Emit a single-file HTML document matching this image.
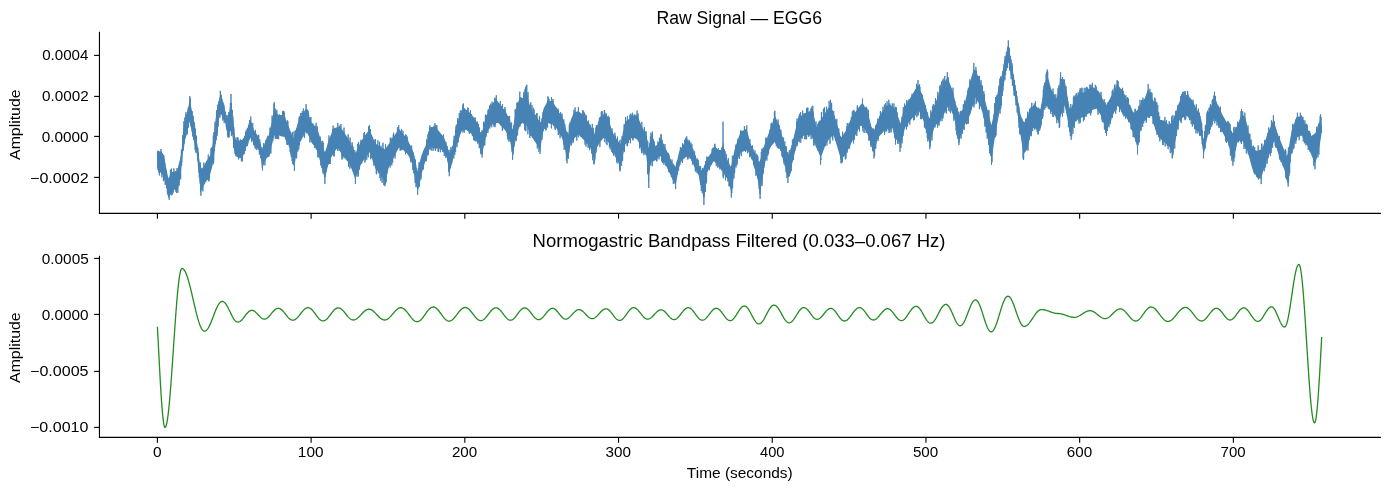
<!DOCTYPE html>
<html><head><meta charset="utf-8"><style>
html,body{margin:0;padding:0;background:#fff;overflow:hidden;}
svg{display:block;}
text{font-family:"Liberation Sans", sans-serif;fill:#000;}
.tx{will-change:transform;}
</style></head><body>
<svg width="1389" height="490" viewBox="0 0 1389 490">
<rect width="1389" height="490" fill="#fff"/>
<path d="M157.4,150.7 158.4,151.0 159.4,151.3 160.4,152.1 161.4,152.8 162.4,153.6 163.4,154.6 164.4,155.6 165.4,164.1 166.4,168.9 167.4,173.7 168.4,178.5 169.4,176.4 170.4,173.3 171.4,172.3 172.4,172.0 173.4,171.7 174.4,171.5 175.4,171.5 176.4,171.5 177.4,171.5 178.4,171.1 179.4,164.1 180.4,158.1 181.4,152.2 182.4,143.4 183.4,127.5 184.4,122.9 185.4,118.7 186.4,114.7 187.4,110.5 188.4,106.4 189.4,101.6 190.4,103.1 191.4,108.1 192.4,113.1 193.4,118.9 194.4,125.0 195.4,131.0 196.4,137.4 197.4,145.0 198.4,153.3 199.4,160.1 200.4,166.6 201.4,169.4 202.4,168.2 203.4,167.0 204.4,164.9 205.4,163.0 206.4,161.0 207.4,159.4 208.4,158.1 209.4,156.7 210.4,155.0 211.4,150.3 212.4,145.5 213.4,138.7 214.4,130.8 215.4,122.9 216.4,115.1 217.4,109.6 218.4,104.1 219.4,98.8 220.4,94.3 221.4,97.1 222.4,99.9 223.4,102.6 224.4,107.2 225.4,111.8 226.4,115.0 227.4,117.4 228.4,117.4 229.4,110.4 230.4,103.4 231.4,102.8 232.4,111.6 233.4,120.8 234.4,131.5 235.4,140.5 236.4,140.5 237.4,140.6 238.4,140.6 239.4,140.7 240.4,140.5 241.4,139.9 242.4,139.4 243.4,138.4 244.4,136.4 245.4,134.3 246.4,132.2 247.4,129.7 248.4,126.6 249.4,123.4 250.4,120.3 251.4,121.9 252.4,125.1 253.4,128.2 254.4,131.0 255.4,132.5 256.4,133.9 257.4,135.3 258.4,136.8 259.4,139.2 260.4,142.8 261.4,146.4 262.4,149.9 263.4,147.3 264.4,144.1 265.4,140.9 266.4,138.4 267.4,137.1 268.4,135.9 269.4,134.7 270.4,129.8 271.4,123.8 272.4,117.9 273.4,112.3 274.4,107.4 275.4,109.4 276.4,111.7 277.4,114.1 278.4,115.2 279.4,115.1 280.4,115.1 281.4,115.1 282.4,115.0 283.4,115.0 284.4,116.3 285.4,118.6 286.4,121.0 287.4,123.4 288.4,125.9 289.4,128.3 290.4,130.9 291.4,133.7 292.4,136.4 293.4,138.1 294.4,135.6 295.4,131.8 296.4,128.1 297.4,124.3 298.4,121.5 299.4,119.8 300.4,118.0 301.4,116.3 302.4,114.5 303.4,112.8 304.4,111.0 305.4,109.3 306.4,108.9 307.4,111.5 308.4,114.2 309.4,116.9 310.4,119.6 311.4,122.3 312.4,124.1 313.4,124.8 314.4,125.4 315.4,126.0 316.4,126.7 317.4,129.1 318.4,132.1 319.4,135.2 320.4,138.3 321.4,141.4 322.4,144.8 323.4,148.2 324.4,151.6 325.4,151.4 326.4,147.9 327.4,144.4 328.4,140.9 329.4,138.5 330.4,136.1 331.4,133.6 332.4,131.2 333.4,129.3 334.4,128.7 335.4,128.0 336.4,127.4 337.4,126.8 338.4,126.9 339.4,127.6 340.4,128.3 341.4,129.0 342.4,129.7 343.4,131.2 344.4,132.8 345.4,134.4 346.4,136.0 347.4,137.5 348.4,139.1 349.4,140.7 350.4,142.7 351.4,144.8 352.4,147.0 353.4,149.1 354.4,151.2 355.4,153.3 356.4,151.2 357.4,149.1 358.4,146.9 359.4,144.8 360.4,142.7 361.4,140.7 362.4,139.3 363.4,137.9 364.4,136.4 365.4,135.0 366.4,133.6 367.4,132.2 368.4,130.7 369.4,129.3 370.4,131.4 371.4,133.9 372.4,136.3 373.4,138.8 374.4,141.2 375.4,143.6 376.4,144.2 377.4,144.9 378.4,145.5 379.4,146.1 380.4,146.7 381.4,147.4 382.4,148.0 383.4,148.6 384.4,149.3 385.4,148.6 386.4,147.3 387.4,146.0 388.4,144.6 389.4,143.3 390.4,141.8 391.4,140.2 392.4,138.6 393.4,137.1 394.4,135.5 395.4,133.9 396.4,132.4 397.4,130.8 398.4,129.2 399.4,129.3 400.4,130.5 401.4,131.7 402.4,133.0 403.4,134.2 404.4,135.5 405.4,136.7 406.4,138.0 407.4,139.5 408.4,141.5 409.4,143.5 410.4,145.5 411.4,147.5 412.4,149.8 413.4,152.2 414.4,155.5 415.4,160.8 416.4,166.1 417.4,171.5 418.4,168.9 419.4,164.2 420.4,159.5 421.4,155.5 422.4,153.3 423.4,151.1 424.4,148.9 425.4,146.7 426.4,143.5 427.4,139.5 428.4,135.4 429.4,131.4 430.4,127.4 431.4,126.9 432.4,126.9 433.4,126.9 434.4,126.9 435.4,127.2 436.4,128.3 437.4,129.4 438.4,130.5 439.4,131.7 440.4,132.9 441.4,134.3 442.4,135.6 443.4,137.1 444.4,138.6 445.4,141.2 446.4,144.0 447.4,147.1 448.4,150.6 449.4,153.5 450.4,151.3 451.4,149.0 452.4,146.8 453.4,142.7 454.4,137.4 455.4,132.2 456.4,127.0 457.4,121.7 458.4,118.9 459.4,116.5 460.4,114.1 461.4,111.8 462.4,109.4 463.4,107.2 464.4,108.1 465.4,109.1 466.4,110.0 467.4,111.0 468.4,111.9 469.4,112.9 470.4,113.9 471.4,114.9 472.4,115.9 473.4,117.1 474.4,118.6 475.4,120.0 476.4,121.4 477.4,122.9 478.4,126.6 479.4,130.4 480.4,134.3 481.4,135.1 482.4,131.2 483.4,126.5 484.4,121.9 485.4,119.0 486.4,116.3 487.4,113.8 488.4,111.5 489.4,109.1 490.4,106.8 491.4,105.3 492.4,104.1 493.4,102.8 494.4,101.6 495.4,100.4 496.4,99.6 497.4,100.9 498.4,102.2 499.4,103.6 500.4,105.0 501.4,106.4 502.4,107.6 503.4,108.8 504.4,110.0 505.4,111.2 506.4,113.1 507.4,115.2 508.4,117.2 509.4,119.3 510.4,121.5 511.4,125.8 512.4,130.0 513.4,126.3 514.4,119.6 515.4,113.8 516.4,109.7 517.4,105.6 518.4,101.9 519.4,98.1 520.4,97.1 521.4,97.5 522.4,97.9 523.4,98.2 524.4,96.0 525.4,93.8 526.4,91.6 527.4,94.3 528.4,99.8 529.4,104.3 530.4,106.5 531.4,108.7 532.4,110.9 533.4,113.1 534.4,114.7 535.4,116.0 536.4,117.3 537.4,118.5 538.4,119.8 539.4,121.0 540.4,121.9 541.4,122.1 542.4,114.9 543.4,109.1 544.4,107.1 545.4,105.2 546.4,103.3 547.4,101.3 548.4,100.5 549.4,100.8 550.4,101.1 551.4,101.3 552.4,101.6 553.4,102.9 554.4,104.5 555.4,106.1 556.4,107.9 557.4,109.6 558.4,111.3 559.4,112.9 560.4,114.6 561.4,116.3 562.4,118.1 563.4,120.1 564.4,122.3 565.4,126.9 566.4,131.5 567.4,135.9 568.4,133.7 569.4,127.1 570.4,121.2 571.4,118.4 572.4,116.0 573.4,113.5 574.4,112.5 575.4,112.2 576.4,111.8 577.4,111.5 578.4,111.1 579.4,111.9 580.4,112.7 581.4,113.5 582.4,114.2 583.4,115.2 584.4,116.7 585.4,118.1 586.4,119.5 587.4,121.0 588.4,122.4 589.4,123.8 590.4,125.4 591.4,127.2 592.4,128.9 593.4,131.9 594.4,134.5 595.4,133.1 596.4,129.1 597.4,125.1 598.4,121.5 599.4,117.8 600.4,116.8 601.4,116.2 602.4,115.6 603.4,115.0 604.4,114.6 605.4,115.0 606.4,115.5 607.4,116.0 608.4,118.4 609.4,121.8 610.4,125.2 611.4,128.7 612.4,132.2 613.4,133.8 614.4,135.4 615.4,137.0 616.4,138.6 617.4,140.2 618.4,141.7 619.4,143.3 620.4,144.6 621.4,141.1 622.4,136.1 623.4,131.2 624.4,126.2 625.4,121.5 626.4,120.8 627.4,120.1 628.4,119.4 629.4,118.7 630.4,117.9 631.4,117.2 632.4,116.5 633.4,116.2 634.4,115.8 635.4,115.4 636.4,115.0 637.4,115.5 638.4,118.0 639.4,120.4 640.4,122.9 641.4,125.3 642.4,127.4 643.4,129.3 644.4,131.3 645.4,133.2 646.4,135.2 647.4,141.6 648.4,148.3 649.4,145.0 650.4,138.0 651.4,137.0 652.4,136.0 653.4,139.2 654.4,142.5 655.4,145.9 656.4,147.6 657.4,145.3 658.4,143.0 659.4,140.7 660.4,138.6 661.4,138.4 662.4,140.9 663.4,143.4 664.4,145.9 665.4,148.0 666.4,150.0 667.4,152.0 668.4,154.0 669.4,156.0 670.4,158.4 671.4,160.9 672.4,163.3 673.4,165.8 674.4,168.3 675.4,166.4 676.4,163.3 677.4,159.4 678.4,155.1 679.4,150.9 680.4,149.3 681.4,147.7 682.4,146.1 683.4,144.5 684.4,143.0 685.4,141.5 686.4,139.9 687.4,140.3 688.4,141.5 689.4,142.8 690.4,144.4 691.4,146.0 692.4,148.2 693.4,150.6 694.4,153.1 695.4,155.5 696.4,157.9 697.4,160.4 698.4,162.8 699.4,165.4 700.4,168.3 701.4,171.2 702.4,169.7 703.4,168.1 704.4,165.5 705.4,162.5 706.4,160.3 707.4,158.1 708.4,156.7 709.4,155.5 710.4,154.2 711.4,152.9 712.4,150.9 713.4,149.0 714.4,147.3 715.4,147.0 716.4,148.0 717.4,149.0 718.4,150.0 719.4,150.1 720.4,150.1 721.4,150.1 722.4,145.2 723.4,142.2 724.4,153.2 725.4,155.8 726.4,158.0 727.4,159.9 728.4,161.7 729.4,164.1 730.4,166.5 731.4,165.3 732.4,160.4 733.4,155.4 734.4,150.5 735.4,146.9 736.4,143.8 737.4,140.9 738.4,138.0 739.4,135.0 740.4,132.1 741.4,131.2 742.4,130.8 743.4,130.4 744.4,130.0 745.4,129.6 746.4,129.2 747.4,131.7 748.4,135.5 749.4,139.5 750.4,143.6 751.4,145.6 752.4,147.6 753.4,149.7 754.4,152.0 755.4,154.2 756.4,156.5 757.4,158.7 758.4,161.2 759.4,161.8 760.4,159.4 761.4,155.6 762.4,151.8 763.4,148.5 764.4,145.3 765.4,142.2 766.4,139.5 767.4,136.8 768.4,134.1 769.4,131.4 770.4,128.6 771.4,125.6 772.4,122.7 773.4,119.7 774.4,116.7 775.4,116.6 776.4,119.1 777.4,121.5 778.4,124.0 779.4,126.4 780.4,129.5 781.4,133.0 782.4,136.5 783.4,140.0 784.4,143.5 785.4,147.1 786.4,150.7 787.4,154.3 788.4,157.0 789.4,153.6 790.4,150.3 791.4,146.9 792.4,143.1 793.4,138.7 794.4,134.3 795.4,129.9 796.4,125.5 797.4,121.3 798.4,118.1 799.4,117.3 800.4,116.5 801.4,115.7 802.4,114.8 803.4,114.0 804.4,113.3 805.4,112.9 806.4,112.5 807.4,112.1 808.4,111.8 809.4,111.4 810.4,111.0 811.4,110.6 812.4,110.5 813.4,113.2 814.4,117.9 815.4,122.6 816.4,127.3 817.4,126.0 818.4,124.0 819.4,122.1 820.4,120.5 821.4,119.0 822.4,117.4 823.4,115.7 824.4,114.0 825.4,112.4 826.4,110.9 827.4,109.5 828.4,108.1 829.4,106.8 830.4,105.4 831.4,107.7 832.4,110.1 833.4,112.6 834.4,115.5 835.4,118.6 836.4,121.8 837.4,125.3 838.4,128.8 839.4,132.3 840.4,135.7 841.4,137.2 842.4,135.8 843.4,134.3 844.4,132.9 845.4,131.5 846.4,129.6 847.4,127.2 848.4,124.9 849.4,122.5 850.4,120.2 851.4,117.8 852.4,115.9 853.4,114.6 854.4,113.3 855.4,112.0 856.4,110.7 857.4,109.4 858.4,108.0 859.4,106.5 860.4,105.1 861.4,103.9 862.4,102.8 863.4,104.3 864.4,106.3 865.4,108.2 866.4,110.2 867.4,112.2 868.4,115.1 869.4,118.8 870.4,122.6 871.4,126.6 872.4,130.6 873.4,131.3 874.4,129.2 875.4,126.5 876.4,123.7 877.4,120.9 878.4,118.7 879.4,116.9 880.4,115.0 881.4,113.1 882.4,111.3 883.4,109.9 884.4,108.8 885.4,107.6 886.4,106.5 887.4,105.4 888.4,104.4 889.4,104.4 890.4,105.1 891.4,105.7 892.4,106.4 893.4,107.7 894.4,109.1 895.4,110.9 896.4,113.1 897.4,115.4 898.4,117.6 899.4,119.9 900.4,124.5 901.4,120.0 902.4,115.4 903.4,110.8 904.4,107.3 905.4,105.5 906.4,103.9 907.4,102.4 908.4,100.8 909.4,99.3 910.4,97.7 911.4,96.0 912.4,94.3 913.4,92.6 914.4,90.9 915.4,89.2 916.4,87.5 917.4,85.8 918.4,85.5 919.4,88.0 920.4,90.7 921.4,93.3 922.4,95.9 923.4,98.6 924.4,101.7 925.4,105.3 926.4,108.8 927.4,112.4 928.4,116.0 929.4,118.5 930.4,116.1 931.4,113.5 932.4,110.8 933.4,108.1 934.4,105.4 935.4,102.8 936.4,100.3 937.4,97.7 938.4,95.1 939.4,92.6 940.4,90.0 941.4,87.7 942.4,86.0 943.4,84.3 944.4,82.5 945.4,80.7 946.4,79.0 947.4,77.8 948.4,79.9 949.4,82.2 950.4,84.9 951.4,87.6 952.4,90.3 953.4,93.5 954.4,97.7 955.4,102.3 956.4,106.9 957.4,111.4 958.4,115.9 959.4,114.8 960.4,113.1 961.4,111.4 962.4,109.7 963.4,108.0 964.4,104.5 965.4,100.4 966.4,96.3 967.4,92.2 968.4,88.1 969.4,84.2 970.4,80.9 971.4,77.3 972.4,73.7 973.4,70.1 974.4,69.5 975.4,70.9 976.4,72.7 977.4,74.8 978.4,76.8 979.4,78.8 980.4,82.2 981.4,86.0 982.4,90.0 983.4,93.9 984.4,97.8 985.4,101.7 986.4,105.6 987.4,109.5 988.4,113.4 989.4,117.3 990.4,121.3 991.4,125.2 992.4,121.0 993.4,115.4 994.4,109.7 995.4,104.1 996.4,98.6 997.4,93.8 998.4,89.6 999.4,85.4 1000.4,81.2 1001.4,76.9 1002.4,72.3 1003.4,67.2 1004.4,62.1 1005.4,57.0 1006.4,52.3 1007.4,47.7 1008.4,44.2 1009.4,50.1 1010.4,56.1 1011.4,62.2 1012.4,68.3 1013.4,74.5 1014.4,80.6 1015.4,86.7 1016.4,92.4 1017.4,97.7 1018.4,103.1 1019.4,108.5 1020.4,113.8 1021.4,117.0 1022.4,119.1 1023.4,121.2 1024.4,122.2 1025.4,121.0 1026.4,118.7 1027.4,116.3 1028.4,113.5 1029.4,110.8 1030.4,108.6 1031.4,107.6 1032.4,106.6 1033.4,106.1 1034.4,105.7 1035.4,105.5 1036.4,106.4 1037.4,107.4 1038.4,108.2 1039.4,108.7 1040.4,109.3 1041.4,104.7 1042.4,98.3 1043.4,91.9 1044.4,85.4 1045.4,81.4 1046.4,78.0 1047.4,75.4 1048.4,79.0 1049.4,82.6 1050.4,86.2 1051.4,89.6 1052.4,91.4 1053.4,93.2 1054.4,95.1 1055.4,97.1 1056.4,99.1 1057.4,95.4 1058.4,90.5 1059.4,85.4 1060.4,79.7 1061.4,78.9 1062.4,79.0 1063.4,79.2 1064.4,79.3 1065.4,84.3 1066.4,90.1 1067.4,95.9 1068.4,101.7 1069.4,107.5 1070.4,109.3 1071.4,107.5 1072.4,104.8 1073.4,102.2 1074.4,99.5 1075.4,97.3 1076.4,96.4 1077.4,95.4 1078.4,94.5 1079.4,93.6 1080.4,92.6 1081.4,92.5 1082.4,92.4 1083.4,92.4 1084.4,92.3 1085.4,92.2 1086.4,91.7 1087.4,90.9 1088.4,90.1 1089.4,89.2 1090.4,88.4 1091.4,87.6 1092.4,86.8 1093.4,87.4 1094.4,88.1 1095.4,88.7 1096.4,89.3 1097.4,90.2 1098.4,91.1 1099.4,92.4 1100.4,94.3 1101.4,96.3 1102.4,98.4 1103.4,100.5 1104.4,102.7 1105.4,104.9 1106.4,104.8 1107.4,103.1 1108.4,101.4 1109.4,99.6 1110.4,97.9 1111.4,96.1 1112.4,94.3 1113.4,92.1 1114.4,90.0 1115.4,87.8 1116.4,85.6 1117.4,84.3 1118.4,85.6 1119.4,87.0 1120.4,88.3 1121.4,89.7 1122.4,91.0 1123.4,92.7 1124.4,94.6 1125.4,96.5 1126.4,98.4 1127.4,100.4 1128.4,102.3 1129.4,104.2 1130.4,106.2 1131.4,108.3 1132.4,110.5 1133.4,112.8 1134.4,112.4 1135.4,111.6 1136.4,110.9 1137.4,110.1 1138.4,108.1 1139.4,106.1 1140.4,104.4 1141.4,102.7 1142.4,101.6 1143.4,100.6 1144.4,99.2 1145.4,96.4 1146.4,93.7 1147.4,91.0 1148.4,89.5 1149.4,91.6 1150.4,93.7 1151.4,95.9 1152.4,98.2 1153.4,100.8 1154.4,102.0 1155.4,103.2 1156.4,104.1 1157.4,107.3 1158.4,113.5 1159.4,119.8 1160.4,120.0 1161.4,120.1 1162.4,120.2 1163.4,120.4 1164.4,120.6 1165.4,121.5 1166.4,122.5 1167.4,123.5 1168.4,124.4 1169.4,125.0 1170.4,123.6 1171.4,122.3 1172.4,120.7 1173.4,118.4 1174.4,116.1 1175.4,113.4 1176.4,110.4 1177.4,107.5 1178.4,104.5 1179.4,102.0 1180.4,100.2 1181.4,98.3 1182.4,96.5 1183.4,95.8 1184.4,95.5 1185.4,95.2 1186.4,94.9 1187.4,94.8 1188.4,95.7 1189.4,96.9 1190.4,98.2 1191.4,99.4 1192.4,100.7 1193.4,102.7 1194.4,104.7 1195.4,106.7 1196.4,108.6 1197.4,110.4 1198.4,112.2 1199.4,114.1 1200.4,115.9 1201.4,120.3 1202.4,130.1 1203.4,140.0 1204.4,135.2 1205.4,128.2 1206.4,121.3 1207.4,115.2 1208.4,112.5 1209.4,110.1 1210.4,107.7 1211.4,105.4 1212.4,103.3 1213.4,101.0 1214.4,96.4 1215.4,99.8 1216.4,102.5 1217.4,103.9 1218.4,105.5 1219.4,107.9 1220.4,110.2 1221.4,112.5 1222.4,114.7 1223.4,116.5 1224.4,118.3 1225.4,120.1 1226.4,121.8 1227.4,123.6 1228.4,125.4 1229.4,127.2 1230.4,129.1 1231.4,130.9 1232.4,132.7 1233.4,132.8 1234.4,130.9 1235.4,129.1 1236.4,127.2 1237.4,125.3 1238.4,122.9 1239.4,120.0 1240.4,117.2 1241.4,114.4 1242.4,114.6 1243.4,115.4 1244.4,116.2 1245.4,117.8 1246.4,122.4 1247.4,127.0 1248.4,131.5 1249.4,135.8 1250.4,140.2 1251.4,144.6 1252.4,148.9 1253.4,149.8 1254.4,150.1 1255.4,150.3 1256.4,150.6 1257.4,150.8 1258.4,150.5 1259.4,150.1 1260.4,149.7 1261.4,149.1 1262.4,148.1 1263.4,145.3 1264.4,142.6 1265.4,140.0 1266.4,137.6 1267.4,135.1 1268.4,132.6 1269.4,130.1 1270.4,127.5 1271.4,124.8 1272.4,122.2 1273.4,119.6 1274.4,122.4 1275.4,125.9 1276.4,129.5 1277.4,132.8 1278.4,135.5 1279.4,138.1 1280.4,140.6 1281.4,143.1 1282.4,145.6 1283.4,148.1 1284.4,150.6 1285.4,153.3 1286.4,155.9 1287.4,154.8 1288.4,150.0 1289.4,144.1 1290.4,138.1 1291.4,132.1 1292.4,128.2 1293.4,125.5 1294.4,122.8 1295.4,120.1 1296.4,117.4 1297.4,116.6 1298.4,116.5 1299.4,116.5 1300.4,116.4 1301.4,116.3 1302.4,118.1 1303.4,120.3 1304.4,122.4 1305.4,124.6 1306.4,126.7 1307.4,128.6 1308.4,130.5 1309.4,132.3 1310.4,134.1 1311.4,135.9 1312.4,135.2 1313.4,134.5 1314.4,133.8 1315.4,132.8 1316.4,131.1 1317.4,128.0 1318.4,124.9 1319.4,121.8 1320.4,118.8 1321.4,115.8 1321.4,134.7 1320.4,140.8 1319.4,147.0 1318.4,152.3 1317.4,155.8 1316.4,159.4 1315.4,162.8 1314.4,162.4 1313.4,159.9 1312.4,157.5 1311.4,155.1 1310.4,152.7 1309.4,150.2 1308.4,147.8 1307.4,145.4 1306.4,143.1 1305.4,141.5 1304.4,139.9 1303.4,138.3 1302.4,136.7 1301.4,135.5 1300.4,135.9 1299.4,136.3 1298.4,136.8 1297.4,137.2 1296.4,138.2 1295.4,140.7 1294.4,143.3 1293.4,145.8 1292.4,148.3 1291.4,153.0 1290.4,161.6 1289.4,170.1 1288.4,178.7 1287.4,179.6 1286.4,176.7 1285.4,173.2 1284.4,169.7 1283.4,167.2 1282.4,164.7 1281.4,162.2 1280.4,159.7 1279.4,157.1 1278.4,153.7 1277.4,150.3 1276.4,146.9 1275.4,143.3 1274.4,141.0 1273.4,143.1 1272.4,146.1 1271.4,149.0 1270.4,152.0 1269.4,154.6 1268.4,156.7 1267.4,158.8 1266.4,160.9 1265.4,162.9 1264.4,165.8 1263.4,169.9 1262.4,174.0 1261.4,177.8 1260.4,178.7 1259.4,178.5 1258.4,178.3 1257.4,178.0 1256.4,176.2 1255.4,174.5 1254.4,172.8 1253.4,171.0 1252.4,169.0 1251.4,165.4 1250.4,161.7 1249.4,158.1 1248.4,154.5 1247.4,151.1 1246.4,148.8 1245.4,146.4 1244.4,144.4 1243.4,142.6 1242.4,141.2 1241.4,140.8 1240.4,140.8 1239.4,140.8 1238.4,140.8 1237.4,142.6 1236.4,146.7 1235.4,150.8 1234.4,154.9 1233.4,159.0 1232.4,158.9 1231.4,155.2 1230.4,151.6 1229.4,147.9 1228.4,144.2 1227.4,141.6 1226.4,139.7 1225.4,137.7 1224.4,135.7 1223.4,133.8 1222.4,131.8 1221.4,129.8 1220.4,127.7 1219.4,125.7 1218.4,123.6 1217.4,122.4 1216.4,121.3 1215.4,120.1 1214.4,118.7 1213.4,118.6 1212.4,121.2 1211.4,124.1 1210.4,127.0 1209.4,129.9 1208.4,132.8 1207.4,137.1 1206.4,141.8 1205.4,146.7 1204.4,151.5 1203.4,154.6 1202.4,145.5 1201.4,136.3 1200.4,132.9 1199.4,132.2 1198.4,131.5 1197.4,130.9 1196.4,130.2 1195.4,128.4 1194.4,126.4 1193.4,124.4 1192.4,122.5 1191.4,120.6 1190.4,119.4 1189.4,118.4 1188.4,117.3 1187.4,116.4 1186.4,115.5 1185.4,116.1 1184.4,116.7 1183.4,117.3 1182.4,118.0 1181.4,118.8 1180.4,119.7 1179.4,120.5 1178.4,124.3 1177.4,129.8 1176.4,135.4 1175.4,140.9 1174.4,144.7 1173.4,148.3 1172.4,151.9 1171.4,151.1 1170.4,148.8 1169.4,146.5 1168.4,145.5 1167.4,144.7 1166.4,143.9 1165.4,143.1 1164.4,142.3 1163.4,141.5 1162.4,140.6 1161.4,139.7 1160.4,138.8 1159.4,138.0 1158.4,135.9 1157.4,133.8 1156.4,132.2 1155.4,130.0 1154.4,125.9 1153.4,121.7 1152.4,117.3 1151.4,116.0 1150.4,116.3 1149.4,116.5 1148.4,116.8 1147.4,117.5 1146.4,118.6 1145.4,119.9 1144.4,121.1 1143.4,122.2 1142.4,123.2 1141.4,124.7 1140.4,130.7 1139.4,136.6 1138.4,142.5 1137.4,147.4 1136.4,144.1 1135.4,140.8 1134.4,137.5 1133.4,134.2 1132.4,130.4 1131.4,126.7 1130.4,124.0 1129.4,122.4 1128.4,120.9 1127.4,119.3 1126.4,117.8 1125.4,116.2 1124.4,114.8 1123.4,113.4 1122.4,112.0 1121.4,110.7 1120.4,109.3 1119.4,108.0 1118.4,106.6 1117.4,106.0 1116.4,107.8 1115.4,109.9 1114.4,111.9 1113.4,113.9 1112.4,116.0 1111.4,118.5 1110.4,121.1 1109.4,123.7 1108.4,126.2 1107.4,128.8 1106.4,131.0 1105.4,128.2 1104.4,125.0 1103.4,121.9 1102.4,118.7 1101.4,116.0 1100.4,114.4 1099.4,112.9 1098.4,111.4 1097.4,110.0 1096.4,108.6 1095.4,108.9 1094.4,109.2 1093.4,109.6 1092.4,109.9 1091.4,110.4 1090.4,111.3 1089.4,112.3 1088.4,113.2 1087.4,114.2 1086.4,115.2 1085.4,115.9 1084.4,116.4 1083.4,116.8 1082.4,117.3 1081.4,117.7 1080.4,118.1 1079.4,118.7 1078.4,119.3 1077.4,119.8 1076.4,120.4 1075.4,121.0 1074.4,123.8 1073.4,127.3 1072.4,130.8 1071.4,134.3 1070.4,132.2 1069.4,128.0 1068.4,123.3 1067.4,118.5 1066.4,113.7 1065.4,108.9 1064.4,105.2 1063.4,108.2 1062.4,111.2 1061.4,114.1 1060.4,117.2 1059.4,121.0 1058.4,120.9 1057.4,119.9 1056.4,118.8 1055.4,116.8 1054.4,114.8 1053.4,113.4 1052.4,112.5 1051.4,111.7 1050.4,110.6 1049.4,109.4 1048.4,108.0 1047.4,106.6 1046.4,106.1 1045.4,105.8 1044.4,106.7 1043.4,111.6 1042.4,116.5 1041.4,121.5 1040.4,125.7 1039.4,127.7 1038.4,129.7 1037.4,130.1 1036.4,129.3 1035.4,128.5 1034.4,127.9 1033.4,127.3 1032.4,128.1 1031.4,132.1 1030.4,136.1 1029.4,140.2 1028.4,144.4 1027.4,148.7 1026.4,150.2 1025.4,151.7 1024.4,153.0 1023.4,153.9 1022.4,147.4 1021.4,140.8 1020.4,134.1 1019.4,127.1 1018.4,119.5 1017.4,111.8 1016.4,105.1 1015.4,99.6 1014.4,94.1 1013.4,88.6 1012.4,83.0 1011.4,77.5 1010.4,72.0 1009.4,66.5 1008.4,62.1 1007.4,65.5 1006.4,69.2 1005.4,73.5 1004.4,80.4 1003.4,87.3 1002.4,94.3 1001.4,101.1 1000.4,107.2 999.4,112.5 998.4,117.8 997.4,123.1 996.4,128.5 995.4,134.2 994.4,140.7 993.4,147.2 992.4,153.7 991.4,158.3 990.4,152.6 989.4,146.9 988.4,141.2 987.4,135.5 986.4,129.8 985.4,124.1 984.4,119.6 983.4,116.2 982.4,112.8 981.4,109.4 980.4,106.6 979.4,104.4 978.4,102.4 977.4,100.4 976.4,98.4 975.4,97.5 974.4,100.3 973.4,103.3 972.4,106.8 971.4,110.4 970.4,113.9 969.4,115.9 968.4,117.8 967.4,119.8 966.4,121.7 965.4,123.7 964.4,125.7 963.4,127.9 962.4,130.8 961.4,133.6 960.4,136.5 959.4,139.3 958.4,138.6 957.4,133.6 956.4,128.7 955.4,123.8 954.4,118.9 953.4,116.1 952.4,113.5 951.4,111.0 950.4,108.4 949.4,105.9 948.4,106.1 947.4,107.5 946.4,109.4 945.4,111.3 944.4,113.3 943.4,115.3 942.4,117.2 941.4,118.3 940.4,119.5 939.4,120.7 938.4,121.9 937.4,123.2 936.4,124.4 935.4,125.6 934.4,127.1 933.4,130.8 932.4,134.5 931.4,138.2 930.4,142.0 929.4,143.4 928.4,139.6 927.4,135.5 926.4,131.5 925.4,127.5 924.4,123.5 923.4,120.4 922.4,118.3 921.4,116.2 920.4,114.1 919.4,112.0 918.4,110.4 917.4,111.5 916.4,112.8 915.4,114.1 914.4,115.3 913.4,116.6 912.4,117.9 911.4,119.2 910.4,120.4 909.4,121.7 908.4,122.9 907.4,124.2 906.4,125.4 905.4,126.7 904.4,130.2 903.4,134.1 902.4,138.2 901.4,142.3 900.4,146.3 899.4,142.1 898.4,141.4 897.4,140.6 896.4,139.8 895.4,139.1 894.4,136.6 893.4,132.2 892.4,127.8 891.4,128.0 890.4,128.1 889.4,128.3 888.4,128.6 887.4,129.0 886.4,129.5 885.4,129.9 884.4,130.8 883.4,131.8 882.4,132.8 881.4,134.0 880.4,135.1 879.4,136.2 878.4,137.4 877.4,139.5 876.4,143.9 875.4,148.3 874.4,152.7 873.4,152.2 872.4,148.7 871.4,144.7 870.4,140.7 869.4,138.4 868.4,136.1 867.4,134.0 866.4,132.0 865.4,130.1 864.4,128.9 863.4,127.8 862.4,126.7 861.4,126.0 860.4,125.8 859.4,127.7 858.4,129.6 857.4,131.5 856.4,133.4 855.4,135.3 854.4,137.2 853.4,139.1 852.4,141.0 851.4,143.0 850.4,145.1 849.4,147.1 848.4,149.2 847.4,151.2 846.4,153.3 845.4,154.8 844.4,155.9 843.4,157.0 842.4,158.0 841.4,159.1 840.4,157.6 839.4,154.2 838.4,150.8 837.4,147.5 836.4,144.1 835.4,140.8 834.4,137.5 833.4,135.2 832.4,136.0 831.4,136.7 830.4,137.5 829.4,138.9 828.4,140.2 827.4,141.6 826.4,142.9 825.4,145.4 824.4,148.0 823.4,150.7 822.4,153.4 821.4,156.0 820.4,157.2 819.4,154.4 818.4,152.1 817.4,150.1 816.4,148.0 815.4,145.0 814.4,142.1 813.4,139.1 812.4,136.4 811.4,134.7 810.4,134.7 809.4,134.8 808.4,134.8 807.4,134.9 806.4,134.9 805.4,135.0 804.4,135.0 803.4,135.9 802.4,136.9 801.4,137.8 800.4,138.8 799.4,139.8 798.4,140.8 797.4,142.1 796.4,145.1 795.4,149.6 794.4,154.1 793.4,158.5 792.4,163.0 791.4,166.9 790.4,170.4 789.4,173.9 788.4,177.4 787.4,176.6 786.4,171.5 785.4,166.3 784.4,161.7 783.4,158.2 782.4,154.7 781.4,151.2 780.4,147.7 779.4,145.2 778.4,144.4 777.4,143.6 776.4,142.8 775.4,142.0 774.4,142.2 773.4,143.5 772.4,144.8 771.4,146.1 770.4,147.4 769.4,149.6 768.4,152.6 767.4,155.6 766.4,158.5 765.4,161.5 764.4,166.7 763.4,172.9 762.4,179.1 761.4,185.4 760.4,191.7 759.4,189.0 758.4,183.4 757.4,178.2 756.4,174.4 755.4,170.7 754.4,167.0 753.4,163.2 752.4,160.2 751.4,158.2 750.4,156.2 749.4,153.9 748.4,151.6 747.4,150.4 746.4,150.4 745.4,150.7 744.4,151.0 743.4,151.4 742.4,151.7 741.4,152.1 740.4,152.9 739.4,155.4 738.4,158.0 737.4,160.5 736.4,163.1 735.4,166.8 734.4,173.0 733.4,179.4 732.4,185.8 731.4,192.2 730.4,189.2 729.4,184.6 728.4,180.0 727.4,178.7 726.4,177.6 725.4,176.4 724.4,175.1 723.4,172.6 722.4,171.3 721.4,170.4 720.4,168.7 719.4,167.0 718.4,165.4 717.4,164.4 716.4,163.4 715.4,162.4 714.4,161.6 713.4,161.6 712.4,163.2 711.4,164.9 710.4,166.4 709.4,168.0 708.4,169.5 707.4,171.9 706.4,179.6 705.4,187.3 704.4,195.2 703.4,197.3 702.4,192.8 701.4,188.4 700.4,183.3 699.4,178.2 698.4,174.8 697.4,172.7 696.4,170.7 695.4,168.6 694.4,166.5 693.4,164.5 692.4,162.4 691.4,160.4 690.4,158.4 689.4,156.5 688.4,156.3 687.4,156.5 686.4,156.9 685.4,157.5 684.4,158.2 683.4,159.2 682.4,160.3 681.4,161.4 680.4,162.5 679.4,163.6 678.4,169.5 677.4,175.5 676.4,181.5 675.4,185.1 674.4,183.5 673.4,181.3 672.4,179.0 671.4,176.8 670.4,174.5 669.4,172.4 668.4,170.4 667.4,168.4 666.4,166.4 665.4,164.4 664.4,162.5 663.4,160.8 662.4,159.2 661.4,157.5 660.4,156.3 659.4,156.1 658.4,157.3 657.4,158.5 656.4,159.7 655.4,160.3 654.4,160.7 653.4,161.0 652.4,161.4 651.4,162.4 650.4,163.4 649.4,173.4 648.4,177.7 647.4,166.5 646.4,156.0 645.4,154.5 644.4,152.9 643.4,151.3 642.4,149.8 641.4,148.0 640.4,145.9 639.4,143.9 638.4,141.8 637.4,139.7 636.4,138.9 635.4,138.5 634.4,138.1 633.4,137.7 632.4,137.4 631.4,138.3 630.4,139.3 629.4,140.2 628.4,141.2 627.4,142.1 626.4,143.1 625.4,144.1 624.4,148.5 623.4,153.1 622.4,157.7 621.4,162.3 620.4,166.7 619.4,165.5 618.4,162.9 617.4,160.3 616.4,157.7 615.4,155.4 614.4,153.5 613.4,151.6 612.4,149.6 611.4,147.4 610.4,145.7 609.4,144.0 608.4,142.4 607.4,140.9 606.4,139.7 605.4,138.5 604.4,137.3 603.4,138.1 602.4,139.3 601.4,140.5 600.4,141.8 599.4,143.0 598.4,144.7 597.4,146.4 596.4,150.1 595.4,154.3 594.4,158.2 593.4,158.1 592.4,154.4 591.4,151.0 590.4,147.5 589.4,145.8 588.4,144.8 587.4,143.7 586.4,142.6 585.4,141.6 584.4,140.5 583.4,139.4 582.4,138.4 581.4,137.5 580.4,136.5 579.4,135.5 578.4,134.6 577.4,135.5 576.4,136.4 575.4,137.3 574.4,138.2 573.4,139.2 572.4,140.4 571.4,141.6 570.4,145.5 569.4,149.9 568.4,154.4 567.4,158.3 566.4,155.9 565.4,151.5 564.4,147.2 563.4,143.1 562.4,139.2 561.4,136.5 560.4,134.9 559.4,133.2 558.4,131.5 557.4,129.9 556.4,128.2 555.4,126.5 554.4,125.4 553.4,124.9 552.4,124.4 551.4,124.1 550.4,123.8 549.4,123.5 548.4,123.1 547.4,123.7 546.4,125.3 545.4,126.9 544.4,128.4 543.4,130.0 542.4,135.5 541.4,142.2 540.4,147.7 539.4,148.1 538.4,146.7 537.4,145.2 536.4,143.8 535.4,142.3 534.4,140.9 533.4,139.3 532.4,137.7 531.4,136.1 530.4,134.1 529.4,132.0 528.4,129.7 527.4,127.2 526.4,125.4 525.4,124.8 524.4,124.3 523.4,123.8 522.4,122.9 521.4,123.7 520.4,125.3 519.4,127.2 518.4,129.4 517.4,131.7 516.4,136.5 515.4,141.4 514.4,146.5 513.4,151.7 512.4,154.0 511.4,148.2 510.4,142.5 509.4,139.8 508.4,137.4 507.4,134.9 506.4,132.5 505.4,130.4 504.4,129.4 503.4,128.3 502.4,127.3 501.4,126.3 500.4,125.2 499.4,124.1 498.4,123.2 497.4,123.1 496.4,122.9 495.4,123.0 494.4,123.2 493.4,123.3 492.4,123.5 491.4,124.0 490.4,125.9 489.4,127.9 488.4,130.0 487.4,132.0 486.4,135.1 485.4,139.3 484.4,143.6 483.4,148.1 482.4,152.6 481.4,152.2 480.4,149.5 479.4,146.4 478.4,143.3 477.4,140.3 476.4,139.2 475.4,138.1 474.4,137.1 473.4,136.0 472.4,135.0 471.4,134.0 470.4,133.0 469.4,132.3 468.4,131.5 467.4,130.8 466.4,130.1 465.4,129.4 464.4,128.7 463.4,128.0 462.4,130.0 461.4,132.0 460.4,134.1 459.4,136.1 458.4,138.6 457.4,142.0 456.4,145.7 455.4,149.5 454.4,153.3 453.4,157.3 452.4,161.3 451.4,165.0 450.4,168.8 449.4,172.5 448.4,167.1 447.4,160.6 446.4,156.7 445.4,155.1 444.4,153.4 443.4,151.9 442.4,150.4 441.4,149.8 440.4,149.3 439.4,148.8 438.4,148.4 437.4,147.9 436.4,147.5 435.4,147.0 434.4,146.9 433.4,146.9 432.4,146.9 431.4,146.9 430.4,147.2 429.4,150.0 428.4,152.7 427.4,155.4 426.4,158.1 425.4,161.1 424.4,164.4 423.4,167.7 422.4,171.0 421.4,174.3 420.4,178.6 419.4,183.3 418.4,188.0 417.4,190.6 416.4,185.4 415.4,180.2 414.4,174.9 413.4,170.0 412.4,165.2 411.4,161.4 410.4,159.4 409.4,157.4 408.4,155.4 407.4,153.4 406.4,152.2 405.4,151.4 404.4,150.7 403.4,149.9 402.4,149.2 401.4,148.4 400.4,147.7 399.4,147.5 398.4,148.5 397.4,150.4 396.4,152.4 395.4,154.3 394.4,156.2 393.4,158.2 392.4,160.1 391.4,162.0 390.4,164.0 389.4,166.0 388.4,169.1 387.4,172.3 386.4,175.5 385.4,178.7 384.4,180.3 383.4,178.9 382.4,177.5 381.4,176.2 380.4,174.8 379.4,173.4 378.4,172.1 377.4,170.7 376.4,169.3 375.4,168.0 374.4,165.3 373.4,162.5 372.4,159.8 371.4,157.0 370.4,154.3 369.4,151.9 368.4,153.3 367.4,154.7 366.4,156.2 365.4,157.6 364.4,159.0 363.4,160.5 362.4,161.9 361.4,163.3 360.4,165.8 359.4,168.5 358.4,171.2 357.4,173.9 356.4,176.6 355.4,179.3 354.4,176.6 353.4,173.9 352.4,171.2 351.4,168.5 350.4,165.8 349.4,163.4 348.4,162.3 347.4,161.2 346.4,160.1 345.4,159.0 344.4,157.9 343.4,156.8 342.4,155.7 341.4,153.9 340.4,152.1 339.4,150.3 338.4,148.5 337.4,147.9 336.4,149.3 335.4,150.6 334.4,152.0 333.4,153.4 332.4,155.2 331.4,157.3 330.4,159.4 329.4,161.4 328.4,163.5 327.4,168.0 326.4,172.5 325.4,177.0 324.4,177.4 323.4,173.5 322.4,169.6 321.4,165.7 320.4,162.2 319.4,158.8 318.4,155.4 317.4,151.9 316.4,149.0 315.4,147.7 314.4,146.3 313.4,144.9 312.4,143.6 311.4,141.8 310.4,139.7 309.4,137.6 308.4,135.5 307.4,133.4 306.4,131.3 305.4,132.0 304.4,134.0 303.4,135.9 302.4,137.9 301.4,139.9 300.4,141.8 299.4,143.8 298.4,145.8 297.4,149.4 296.4,154.8 295.4,160.2 294.4,165.5 293.4,162.3 292.4,158.2 291.4,153.9 290.4,149.5 289.4,146.4 288.4,144.3 287.4,142.2 286.4,140.2 285.4,138.1 284.4,137.2 283.4,136.8 282.4,136.5 281.4,136.2 280.4,135.9 279.4,135.6 278.4,135.4 277.4,134.9 276.4,134.3 275.4,133.9 274.4,135.7 273.4,138.5 272.4,141.4 271.4,146.8 270.4,152.9 269.4,156.7 268.4,157.1 267.4,157.4 266.4,158.4 265.4,160.6 264.4,162.9 263.4,165.3 262.4,167.0 261.4,162.0 260.4,157.1 259.4,152.1 258.4,149.2 257.4,148.2 256.4,147.1 255.4,146.0 254.4,145.0 253.4,143.0 252.4,140.8 251.4,138.7 250.4,137.5 249.4,139.7 248.4,141.9 247.4,144.1 246.4,146.7 245.4,149.6 244.4,152.4 243.4,155.3 242.4,158.0 241.4,157.9 240.4,157.7 239.4,157.5 238.4,157.2 237.4,156.9 236.4,156.6 235.4,156.3 234.4,150.1 233.4,142.9 232.4,135.8 231.4,130.7 230.4,131.3 229.4,132.9 228.4,134.5 227.4,131.5 226.4,126.9 225.4,123.2 224.4,121.0 223.4,118.7 222.4,116.8 221.4,114.8 220.4,112.8 219.4,117.0 218.4,122.5 217.4,130.1 216.4,137.7 215.4,145.7 214.4,153.1 213.4,160.2 212.4,166.1 211.4,169.6 210.4,173.2 209.4,176.2 208.4,178.0 207.4,179.5 206.4,181.0 205.4,182.6 204.4,184.2 203.4,186.5 202.4,188.7 201.4,190.8 200.4,186.9 199.4,177.1 198.4,167.3 197.4,157.3 196.4,152.4 195.4,147.8 194.4,143.3 193.4,138.9 192.4,134.4 191.4,129.9 190.4,125.5 189.4,121.6 188.4,125.8 187.4,130.7 186.4,135.6 185.4,139.1 184.4,142.9 183.4,149.1 182.4,157.0 181.4,167.5 180.4,177.6 179.4,182.2 178.4,187.0 177.4,189.7 176.4,189.7 175.4,189.7 174.4,189.7 173.4,189.7 172.4,190.6 171.4,192.2 170.4,193.9 169.4,195.9 168.4,194.2 167.4,190.4 166.4,186.8 165.4,183.5 164.4,179.7 163.4,176.9 162.4,174.2 161.4,173.2 160.4,172.4 159.4,171.6 158.4,170.8 157.4,170.1Z" fill="#4682b4"/>
<path d="M157.4,151.5 157.5,163.2 157.7,167.8 157.8,156.8 157.9,150.8 158.0,160.2 158.2,164.3 158.3,169.0 158.4,151.8 158.5,151.3 158.7,166.3 158.8,164.7 158.9,172.7 159.0,168.6 159.2,160.5 159.3,159.3 159.4,175.4 159.5,159.4 159.7,155.7 159.8,153.1 159.9,162.6 160.0,163.0 160.2,159.4 160.3,161.7 160.4,164.3 160.5,167.6 160.7,170.8 160.8,164.1 160.9,149.0 161.0,168.1 161.2,152.0 161.3,161.6 161.4,151.7 161.5,163.1 161.7,157.2 161.8,164.9 161.9,177.4 162.0,163.1 162.2,170.0 162.3,153.5 162.4,161.7 162.5,169.3 162.7,163.6 162.8,167.5 162.9,165.7 163.0,156.9 163.2,169.9 163.3,158.8 163.4,181.1 163.5,161.7 163.7,172.1 163.8,166.5 163.9,175.0 164.0,161.7 164.2,176.0 164.3,166.3 164.4,179.0 164.5,173.8 164.7,170.3 164.8,163.3 164.9,176.9 165.0,175.2 165.2,184.9 165.3,170.2 165.4,177.9 165.5,178.0 165.7,176.9 165.8,176.8 165.9,177.1 166.0,172.2 166.2,169.9 166.3,174.7 166.4,181.8 166.5,188.4 166.7,185.3 166.8,186.3 166.9,184.9 167.0,184.9 167.2,182.1 167.3,186.4 167.4,193.2 167.5,180.5 167.7,178.8 167.8,194.9 167.9,185.7 168.0,190.6 168.2,190.5 168.3,179.1 168.4,197.2 168.5,197.3 168.7,187.8 168.8,191.5 168.9,187.6 169.0,180.6 169.2,199.8 169.3,189.2 169.4,194.4 169.5,191.1 169.7,186.0 169.8,195.4 169.9,179.2 170.0,190.6 170.2,192.8 170.3,181.7 170.4,169.7 170.5,176.2 170.7,184.9 170.8,187.0 170.9,194.7 171.0,175.0 171.2,182.6 171.3,187.3 171.4,181.1 171.5,168.6 171.7,188.0 171.8,195.3 171.9,189.1 172.0,175.1 172.2,178.6 172.3,183.0 172.4,194.2 172.5,185.5 172.7,181.8 172.8,191.6 172.9,180.2 173.0,193.1 173.2,176.1 173.3,177.5 173.4,185.6 173.5,190.4 173.7,185.1 173.8,182.7 173.9,168.3 174.0,175.8 174.2,176.5 174.3,177.0 174.4,184.6 174.5,178.3 174.7,186.0 174.8,181.2 174.9,178.3 175.0,181.4 175.2,183.5 175.3,186.5 175.4,177.3 175.5,179.0 175.7,171.3 175.8,191.6 175.9,190.5 176.0,179.4 176.2,177.3 176.3,172.1 176.4,181.8 176.5,182.0 176.7,193.1 176.8,182.3 176.9,175.3 177.0,168.0 177.2,190.2 177.3,181.9 177.4,169.6 177.5,181.8 177.7,169.6 177.8,192.8 177.9,187.5 178.0,183.6 178.2,178.5 178.3,168.1 178.4,178.3 178.5,168.9 178.7,181.3 178.8,165.4 178.9,170.3 179.0,183.3 179.2,185.5 179.3,166.0 179.4,162.7 179.5,178.5 179.7,177.7 179.8,163.9 179.9,165.3 180.0,164.6 180.2,160.4 180.3,163.5 180.4,177.0 180.5,172.3 180.7,179.4 180.8,164.6 180.9,163.2 181.0,156.7 181.2,161.2 181.3,153.1 181.4,149.6 181.5,162.7 181.7,165.4 181.8,160.9 181.9,162.0 182.0,155.7 182.2,150.3 182.3,152.4 182.4,148.3 182.5,142.2 182.7,136.3 182.8,135.0 182.9,143.1 183.0,142.6 183.2,135.7 183.3,150.7 183.4,139.7 183.5,142.3 183.7,146.7 183.8,129.8 183.9,121.2 184.0,140.7 184.2,129.0 184.3,143.5 184.4,135.4 184.5,139.7 184.7,137.4 184.8,117.5 184.9,136.2 185.0,125.2 185.2,124.1 185.3,126.0 185.4,134.8 185.5,135.3 185.7,135.8 185.8,114.6 185.9,122.5 186.0,112.2 186.2,125.4 186.3,130.4 186.4,119.1 186.5,126.5 186.7,125.8 186.8,131.2 186.9,116.5 187.0,116.0 187.2,115.9 187.3,134.5 187.4,128.9 187.5,119.1 187.7,121.2 187.8,119.8 187.9,119.9 188.0,116.3 188.2,114.8 188.3,107.5 188.4,111.4 188.5,127.5 188.7,118.9 188.8,114.8 188.9,112.1 189.0,113.5 189.2,115.0 189.3,107.1 189.4,113.0 189.5,113.4 189.7,105.3 189.8,96.1 189.9,103.5 190.0,103.5 190.2,120.7 190.3,98.3 190.4,112.1 190.5,109.8 190.7,110.3 190.8,116.9 190.9,126.0 191.0,117.9 191.2,116.7 191.3,113.4 191.4,118.0 191.5,127.1 191.7,117.0 191.8,111.5 191.9,111.2 192.0,113.0 192.2,111.4 192.3,131.9 192.4,126.6 192.5,122.4 192.7,136.5 192.8,120.4 192.9,132.1 193.0,133.1 193.2,115.8 193.3,116.5 193.4,121.9 193.5,136.3 193.7,139.7 193.8,121.9 193.9,139.1 194.0,129.5 194.2,130.1 194.3,129.7 194.4,131.9 194.5,122.4 194.7,128.7 194.8,127.9 194.9,140.0 195.0,149.4 195.2,150.0 195.3,136.6 195.4,128.6 195.5,137.6 195.7,135.0 195.8,152.6 195.9,145.5 196.0,138.4 196.2,148.9 196.3,147.2 196.4,135.8 196.5,142.7 196.7,145.1 196.8,147.3 196.9,148.6 197.0,147.0 197.2,150.4 197.3,147.5 197.4,147.0 197.5,159.4 197.7,155.1 197.8,156.7 197.9,147.8 198.0,156.0 198.2,162.2 198.3,152.4 198.4,166.1 198.5,159.3 198.7,164.7 198.8,162.7 198.9,165.8 199.0,172.7 199.2,164.1 199.3,177.4 199.4,163.6 199.5,163.5 199.7,175.4 199.8,164.4 199.9,170.1 200.0,180.2 200.2,183.6 200.3,162.5 200.4,180.6 200.5,192.0 200.7,188.3 200.8,177.9 200.9,195.7 201.0,178.3 201.2,171.2 201.3,178.2 201.4,178.6 201.5,178.8 201.7,189.1 201.8,177.7 201.9,167.8 202.0,187.3 202.2,170.6 202.3,175.2 202.4,177.4 202.5,175.6 202.7,170.4 202.8,176.0 202.9,191.4 203.0,172.9 203.2,176.2 203.3,185.3 203.4,182.2 203.5,182.1 203.7,182.5 203.8,162.5 203.9,169.4 204.0,176.3 204.2,178.7 204.3,184.2 204.4,178.0 204.5,172.6 204.7,174.4 204.8,172.4 204.9,175.5 205.0,178.4 205.2,170.7 205.3,167.0 205.4,166.5 205.5,180.7 205.7,181.8 205.8,179.5 205.9,178.3 206.0,177.9 206.2,171.5 206.3,176.2 206.4,163.1 206.5,169.3 206.7,165.1 206.8,175.9 206.9,165.8 207.0,169.2 207.2,172.9 207.3,179.9 207.4,163.5 207.5,162.2 207.7,175.3 207.8,160.6 207.9,172.2 208.0,164.3 208.2,167.6 208.3,154.6 208.4,173.4 208.5,164.1 208.7,161.0 208.8,181.3 208.9,172.7 209.0,180.9 209.2,170.0 209.3,164.2 209.4,167.3 209.5,177.9 209.7,165.7 209.8,168.8 209.9,168.9 210.0,158.6 210.2,165.6 210.3,161.0 210.4,155.6 210.5,169.6 210.7,167.7 210.8,163.1 210.9,155.6 211.0,148.5 211.2,164.4 211.3,159.8 211.4,147.7 211.5,159.0 211.7,147.7 211.8,158.2 211.9,158.9 212.0,160.0 212.2,158.5 212.3,157.6 212.4,147.0 212.5,152.3 212.7,150.7 212.8,152.3 212.9,155.3 213.0,157.2 213.2,164.4 213.3,135.6 213.4,152.7 213.5,146.9 213.7,162.5 213.8,154.3 213.9,132.1 214.0,148.1 214.2,139.5 214.3,151.1 214.4,133.1 214.5,140.2 214.7,139.0 214.8,138.3 214.9,133.2 215.0,121.6 215.2,140.2 215.3,143.8 215.4,133.7 215.5,124.6 215.7,134.0 215.8,136.1 215.9,128.8 216.0,129.2 216.2,140.3 216.3,117.7 216.4,121.7 216.5,110.2 216.7,119.0 216.8,117.9 216.9,115.4 217.0,116.8 217.2,135.7 217.3,119.1 217.4,119.0 217.5,133.0 217.7,117.7 217.8,104.6 217.9,119.5 218.0,109.0 218.2,126.5 218.3,105.4 218.4,109.3 218.5,101.5 218.7,112.3 218.8,104.2 218.9,109.9 219.0,107.2 219.2,105.0 219.3,114.9 219.4,114.3 219.5,107.7 219.7,100.5 219.8,98.7 219.9,107.3 220.0,117.6 220.2,101.1 220.3,90.8 220.4,98.7 220.5,96.3 220.7,97.5 220.8,103.0 220.9,114.5 221.0,105.0 221.2,101.9 221.3,94.8 221.4,107.4 221.5,106.1 221.7,98.5 221.8,99.7 221.9,106.8 222.0,114.0 222.2,111.7 222.3,109.3 222.4,106.3 222.5,110.6 222.7,108.8 222.8,120.6 222.9,102.5 223.0,107.5 223.2,117.8 223.3,108.8 223.4,119.3 223.5,110.8 223.7,112.4 223.8,109.8 223.9,104.7 224.0,107.5 224.2,123.1 224.3,117.1 224.4,117.2 224.5,119.3 224.7,117.8 224.8,120.3 224.9,114.5 225.0,115.2 225.2,121.1 225.3,115.5 225.4,111.8 225.5,117.0 225.7,116.1 225.8,121.2 225.9,116.3 226.0,115.2 226.2,118.7 226.3,127.3 226.4,120.8 226.5,122.1 226.7,121.9 226.8,123.7 226.9,127.3 227.0,130.1 227.2,115.2 227.3,131.1 227.4,124.5 227.5,123.2 227.7,135.5 227.8,124.8 227.9,136.7 228.0,132.3 228.2,137.7 228.3,129.5 228.4,130.7 228.5,124.6 228.7,112.2 228.8,121.9 228.9,122.4 229.0,114.8 229.2,137.3 229.3,120.2 229.4,118.4 229.5,118.5 229.7,113.6 229.8,112.9 229.9,120.4 230.0,122.0 230.2,113.4 230.3,117.0 230.4,102.8 230.5,122.4 230.7,108.1 230.8,118.2 230.9,104.8 231.0,93.9 231.2,118.0 231.3,103.0 231.4,135.9 231.5,116.9 231.7,117.1 231.8,111.6 231.9,134.8 232.0,133.7 232.2,124.5 232.3,110.1 232.4,119.1 232.5,130.3 232.7,121.2 232.8,116.3 232.9,117.4 233.0,122.1 233.2,129.9 233.3,125.3 233.4,132.0 233.5,147.8 233.7,148.2 233.8,127.1 233.9,138.9 234.0,138.1 234.2,137.5 234.3,147.1 234.4,138.5 234.5,139.7 234.7,140.5 234.8,143.5 234.9,153.5 235.0,151.2 235.2,139.4 235.3,145.8 235.4,143.7 235.5,153.3 235.7,149.8 235.8,153.8 235.9,148.1 236.0,137.5 236.2,151.2 236.3,149.9 236.4,151.6 236.5,140.7 236.7,149.1 236.8,144.5 236.9,144.5 237.0,150.8 237.2,150.8 237.3,143.3 237.4,138.3 237.5,137.5 237.7,145.2 237.8,155.7 237.9,148.5 238.0,137.5 238.2,143.5 238.3,151.5 238.4,159.3 238.5,156.2 238.7,151.2 238.8,150.2 238.9,142.4 239.0,146.2 239.2,146.9 239.3,144.2 239.4,149.5 239.5,146.6 239.7,151.3 239.8,158.2 239.9,153.9 240.0,151.8 240.2,147.6 240.3,139.3 240.4,148.4 240.5,152.6 240.7,142.5 240.8,157.3 240.9,146.8 241.0,151.5 241.2,146.8 241.3,140.5 241.4,161.3 241.5,141.0 241.7,155.2 241.8,145.1 241.9,150.8 242.0,143.3 242.2,145.9 242.3,155.2 242.4,161.4 242.5,142.6 242.7,148.3 242.8,154.4 242.9,143.6 243.0,152.2 243.2,142.2 243.3,151.0 243.4,149.6 243.5,154.2 243.7,148.6 243.8,138.6 243.9,149.8 244.0,138.7 244.2,149.6 244.3,153.9 244.4,148.0 244.5,140.8 244.7,150.9 244.8,144.5 244.9,135.9 245.0,140.8 245.2,150.8 245.3,140.5 245.4,142.6 245.5,139.7 245.7,131.8 245.8,138.1 245.9,142.7 246.0,141.5 246.2,139.1 246.3,129.7 246.4,146.1 246.5,143.0 246.7,144.3 246.8,145.5 246.9,135.8 247.0,134.7 247.2,139.2 247.3,146.1 247.4,127.8 247.5,135.3 247.7,132.3 247.8,139.0 247.9,143.7 248.0,133.6 248.2,127.9 248.3,134.8 248.4,132.6 248.5,125.0 248.7,138.7 248.8,130.1 248.9,136.9 249.0,124.7 249.2,138.8 249.3,123.1 249.4,138.0 249.5,120.1 249.7,139.5 249.8,128.2 249.9,120.4 250.0,128.4 250.2,131.7 250.3,122.8 250.4,125.7 250.5,130.3 250.7,116.4 250.8,116.6 250.9,126.2 251.0,132.0 251.2,131.5 251.3,136.4 251.4,125.9 251.5,142.1 251.7,135.9 251.8,133.2 251.9,138.2 252.0,137.7 252.2,132.9 252.3,128.9 252.4,139.0 252.5,135.8 252.7,122.9 252.8,127.6 252.9,137.0 253.0,135.2 253.2,136.5 253.3,138.9 253.4,136.4 253.5,144.7 253.7,133.1 253.8,134.5 253.9,138.7 254.0,141.3 254.2,141.8 254.3,145.6 254.4,135.5 254.5,144.2 254.7,140.7 254.8,133.1 254.9,137.9 255.0,148.2 255.2,143.0 255.3,136.7 255.4,129.9 255.5,135.7 255.7,136.0 255.8,140.1 255.9,149.1 256.0,143.8 256.1,141.7 256.3,135.7 256.4,134.6 256.5,139.6 256.6,138.5 256.8,150.0 256.9,139.1 257.0,138.3 257.1,146.9 257.3,142.0 257.4,135.8 257.5,148.1 257.6,140.6 257.8,135.9 257.9,143.9 258.0,144.8 258.1,141.1 258.3,146.1 258.4,146.8 258.5,139.0 258.6,134.8 258.8,135.0 258.9,143.0 259.0,149.8 259.1,149.3 259.3,151.8 259.4,154.6 259.5,146.3 259.6,152.0 259.8,139.6 259.9,151.3 260.0,150.4 260.1,148.4 260.3,147.1 260.4,143.9 260.5,151.2 260.6,158.0 260.8,149.5 260.9,155.1 261.0,148.8 261.1,154.6 261.3,147.8 261.4,156.4 261.5,153.4 261.6,157.2 261.8,152.1 261.9,149.1 262.0,154.8 262.1,163.9 262.3,167.9 262.4,156.4 262.5,170.4 262.6,163.3 262.8,160.6 262.9,147.4 263.0,159.4 263.1,150.5 263.3,164.5 263.4,161.6 263.5,160.1 263.6,143.1 263.8,159.5 263.9,159.7 264.0,145.7 264.1,161.0 264.3,154.4 264.4,152.2 264.5,148.1 264.6,145.6 264.8,149.4 264.9,165.4 265.0,153.3 265.1,153.0 265.3,146.4 265.4,146.2 265.5,146.3 265.6,143.5 265.8,156.3 265.9,147.4 266.0,155.6 266.1,140.1 266.3,155.6 266.4,148.2 266.5,153.2 266.6,147.2 266.8,141.2 266.9,156.7 267.0,144.3 267.1,146.4 267.3,140.6 267.4,148.8 267.5,144.2 267.6,149.3 267.8,149.7 267.9,141.5 268.0,135.7 268.1,150.1 268.3,153.8 268.4,152.0 268.5,137.3 268.6,151.1 268.8,149.3 268.9,148.4 269.0,149.5 269.1,143.3 269.3,147.6 269.4,153.4 269.5,141.4 269.6,133.3 269.8,144.1 269.9,146.1 270.0,127.7 270.1,137.0 270.3,147.2 270.4,140.0 270.5,141.4 270.6,128.9 270.8,146.9 270.9,153.5 271.0,135.8 271.1,130.5 271.3,126.0 271.4,143.0 271.5,135.4 271.6,126.9 271.8,143.5 271.9,138.8 272.0,136.7 272.1,115.6 272.3,129.2 272.4,135.1 272.5,118.1 272.6,137.0 272.8,141.2 272.9,137.1 273.0,120.2 273.1,119.7 273.3,135.1 273.4,135.2 273.5,137.1 273.6,136.4 273.8,122.8 273.9,119.1 274.0,103.6 274.1,130.5 274.3,102.2 274.4,116.6 274.5,116.6 274.6,128.2 274.8,125.4 274.9,108.0 275.0,114.7 275.1,111.1 275.3,138.9 275.4,115.1 275.5,129.4 275.6,138.3 275.8,138.4 275.9,134.8 276.0,136.7 276.1,112.0 276.3,119.9 276.4,116.8 276.5,120.8 276.6,138.6 276.8,109.8 276.9,128.3 277.0,114.0 277.1,134.8 277.3,134.6 277.4,120.5 277.5,138.9 277.6,125.5 277.8,135.0 277.9,127.6 278.0,121.0 278.1,122.4 278.3,124.4 278.4,130.0 278.5,126.2 278.6,139.3 278.8,123.8 278.9,121.8 279.0,119.8 279.1,119.4 279.3,114.3 279.4,117.8 279.5,132.4 279.6,125.9 279.8,124.1 279.9,128.2 280.0,133.8 280.1,130.3 280.3,131.5 280.4,121.1 280.5,123.5 280.6,119.5 280.8,124.8 280.9,119.1 281.0,122.6 281.1,124.2 281.3,123.9 281.4,123.5 281.5,121.7 281.6,136.1 281.8,122.9 281.9,117.6 282.0,127.3 282.1,117.0 282.3,117.1 282.4,126.4 282.5,112.3 282.6,110.9 282.8,128.1 282.9,134.2 283.0,112.2 283.1,118.5 283.3,130.6 283.4,110.9 283.5,118.7 283.6,116.0 283.8,111.1 283.9,111.1 284.0,133.5 284.1,125.3 284.3,129.0 284.4,124.2 284.5,112.7 284.6,125.9 284.8,117.1 284.9,127.5 285.0,121.3 285.1,125.5 285.3,126.5 285.4,134.0 285.5,134.2 285.6,121.6 285.8,129.1 285.9,140.1 286.0,133.3 286.1,124.7 286.3,129.4 286.4,128.1 286.5,137.6 286.6,131.4 286.8,134.1 286.9,144.8 287.0,122.2 287.1,125.1 287.3,120.3 287.4,121.6 287.5,139.2 287.6,135.5 287.8,145.1 287.9,121.1 288.0,128.1 288.1,144.6 288.3,141.9 288.4,141.2 288.5,141.4 288.6,135.9 288.8,135.9 288.9,136.4 289.0,142.3 289.1,135.7 289.3,139.2 289.4,147.2 289.5,130.0 289.6,132.8 289.8,142.0 289.9,136.7 290.0,137.8 290.1,151.9 290.3,142.7 290.4,137.3 290.5,148.4 290.6,154.2 290.8,133.5 290.9,137.1 291.0,143.3 291.1,138.1 291.3,157.1 291.4,147.7 291.5,141.2 291.6,148.4 291.8,138.9 291.9,140.8 292.0,146.8 292.1,161.1 292.3,132.0 292.4,150.7 292.5,158.9 292.6,154.3 292.8,164.0 292.9,152.9 293.0,150.8 293.1,148.8 293.3,142.6 293.4,165.1 293.5,139.2 293.6,149.2 293.8,145.2 293.9,142.5 294.0,131.3 294.1,146.5 294.3,152.2 294.4,171.0 294.5,159.4 294.6,147.6 294.8,141.8 294.9,151.7 295.0,154.9 295.1,137.4 295.3,130.3 295.4,135.1 295.5,156.6 295.6,155.3 295.8,135.1 295.9,144.9 296.0,151.7 296.1,156.1 296.3,135.3 296.4,139.0 296.5,154.9 296.6,158.4 296.8,154.7 296.9,128.0 297.0,142.9 297.1,135.1 297.3,136.9 297.4,130.6 297.5,131.8 297.6,135.6 297.8,151.7 297.9,141.0 298.0,138.2 298.1,134.4 298.3,127.0 298.4,131.6 298.5,144.7 298.6,140.7 298.8,149.6 298.9,135.1 299.0,132.3 299.1,117.6 299.3,135.6 299.4,116.3 299.5,145.3 299.6,125.7 299.8,131.1 299.9,118.7 300.0,126.2 300.1,122.1 300.3,140.3 300.4,132.2 300.5,119.2 300.6,113.1 300.8,128.6 300.9,124.7 301.0,118.9 301.1,133.8 301.3,126.7 301.4,129.1 301.5,122.6 301.6,122.6 301.8,123.3 301.9,113.0 302.0,132.5 302.1,130.2 302.3,111.3 302.4,127.1 302.5,136.1 302.6,127.8 302.8,136.9 302.9,122.9 303.0,125.1 303.1,113.5 303.3,116.7 303.4,108.5 303.5,116.4 303.6,126.0 303.8,128.2 303.9,133.5 304.0,124.3 304.1,114.4 304.3,126.5 304.4,121.3 304.5,137.6 304.6,137.8 304.8,130.0 304.9,111.8 305.0,116.8 305.1,122.7 305.3,114.8 305.4,125.1 305.5,126.3 305.6,127.3 305.8,121.9 305.9,112.2 306.0,112.3 306.1,104.1 306.3,131.0 306.4,133.3 306.5,128.6 306.6,123.7 306.8,126.6 306.9,128.1 307.0,132.2 307.1,128.9 307.3,109.5 307.4,130.3 307.5,125.9 307.6,119.3 307.8,127.6 307.9,126.0 308.0,123.5 308.1,110.7 308.3,125.4 308.4,129.3 308.5,124.8 308.6,112.9 308.8,129.4 308.9,131.7 309.0,127.8 309.1,130.0 309.3,124.2 309.4,122.2 309.5,131.6 309.6,125.1 309.8,129.6 309.9,142.5 310.0,134.2 310.1,130.1 310.3,117.1 310.4,130.4 310.5,135.6 310.6,125.0 310.8,128.8 310.9,117.2 311.0,135.3 311.1,127.1 311.3,136.8 311.4,142.0 311.5,131.2 311.6,139.8 311.8,134.8 311.9,131.8 312.0,131.5 312.1,127.5 312.3,143.0 312.4,140.3 312.5,126.6 312.6,140.3 312.8,128.8 312.9,123.2 313.0,143.4 313.1,125.0 313.3,143.7 313.4,136.4 313.5,141.8 313.6,139.0 313.8,144.1 313.9,138.0 314.0,140.0 314.1,137.5 314.3,144.3 314.4,132.8 314.5,144.0 314.6,148.0 314.8,135.7 314.9,139.9 315.0,132.4 315.1,134.3 315.3,138.8 315.4,134.1 315.5,129.8 315.6,136.9 315.8,138.8 315.9,140.0 316.0,143.4 316.1,122.8 316.3,149.6 316.4,136.4 316.5,131.5 316.6,135.0 316.8,142.2 316.9,146.3 317.0,136.2 317.1,141.0 317.3,126.4 317.4,142.0 317.5,139.9 317.6,137.6 317.8,149.4 317.9,157.6 318.0,151.5 318.1,136.2 318.3,156.6 318.4,140.8 318.5,143.8 318.6,139.5 318.8,149.0 318.9,150.2 319.0,147.1 319.1,144.3 319.3,145.3 319.4,143.5 319.5,156.0 319.6,143.2 319.8,146.9 319.9,146.8 320.0,142.3 320.1,147.4 320.3,136.7 320.4,153.9 320.5,155.5 320.6,148.4 320.8,165.5 320.9,144.5 321.0,157.3 321.1,157.0 321.3,148.2 321.4,151.3 321.5,162.1 321.6,155.0 321.8,157.5 321.9,168.2 322.0,157.8 322.1,140.8 322.3,149.9 322.4,164.9 322.5,156.4 322.6,148.0 322.8,141.3 322.9,162.1 323.0,173.6 323.1,148.1 323.3,143.0 323.4,165.6 323.5,156.2 323.6,159.0 323.8,159.2 323.9,154.1 324.0,167.4 324.1,172.4 324.3,167.6 324.4,159.2 324.5,175.0 324.6,164.4 324.8,171.5 324.9,183.9 325.0,172.1 325.1,172.4 325.3,177.1 325.4,164.5 325.5,167.9 325.6,157.8 325.8,171.0 325.9,169.5 326.0,171.8 326.1,157.7 326.3,149.5 326.4,159.6 326.5,157.8 326.6,152.5 326.8,164.2 326.9,166.7 327.0,161.2 327.1,167.1 327.3,160.2 327.4,147.7 327.5,150.6 327.6,152.2 327.8,160.6 327.9,162.1 328.0,154.9 328.1,161.8 328.3,145.8 328.4,151.3 328.5,164.5 328.6,155.4 328.8,160.2 328.9,135.4 329.0,136.7 329.1,143.2 329.3,158.8 329.4,163.8 329.5,144.4 329.6,141.0 329.8,140.5 329.9,141.2 330.0,153.3 330.1,145.6 330.3,164.0 330.4,154.0 330.5,141.5 330.6,149.2 330.8,145.6 330.9,153.5 331.0,154.2 331.1,143.0 331.3,153.6 331.4,150.5 331.5,144.5 331.6,147.2 331.8,150.6 331.9,141.6 332.0,138.1 332.1,155.0 332.3,143.6 332.4,138.0 332.5,147.1 332.6,129.5 332.8,142.9 332.9,129.9 333.0,138.0 333.1,125.6 333.3,135.1 333.4,149.3 333.5,139.6 333.6,130.4 333.8,156.3 333.9,135.4 334.0,153.7 334.1,136.1 334.3,127.8 334.4,156.3 334.5,136.6 334.6,146.6 334.8,150.1 334.9,128.7 335.0,140.4 335.1,134.8 335.3,144.6 335.4,139.3 335.5,128.8 335.6,139.6 335.8,145.3 335.9,136.5 336.0,143.4 336.1,134.3 336.3,138.1 336.4,141.2 336.5,139.4 336.6,148.3 336.8,145.6 336.9,144.6 337.0,143.5 337.1,138.9 337.3,128.4 337.4,145.7 337.5,150.7 337.6,138.9 337.8,122.9 337.9,136.9 338.0,146.7 338.1,139.7 338.3,129.9 338.4,136.4 338.5,131.8 338.6,136.5 338.8,131.0 338.9,131.3 339.0,150.7 339.1,147.3 339.3,125.6 339.4,130.9 339.5,135.4 339.6,136.1 339.8,127.8 339.9,147.2 340.0,126.0 340.1,145.9 340.3,146.2 340.4,137.1 340.5,134.7 340.6,141.1 340.8,142.1 340.9,124.1 341.0,129.8 341.1,146.0 341.3,140.4 341.4,137.7 341.5,132.6 341.6,135.3 341.8,134.9 341.9,159.6 342.0,130.6 342.1,156.9 342.3,147.2 342.4,144.8 342.5,144.8 342.6,139.5 342.8,158.6 342.9,148.3 343.0,143.3 343.1,142.6 343.3,145.8 343.4,133.4 343.5,141.3 343.6,138.6 343.8,150.4 343.9,150.4 344.0,127.6 344.1,143.0 344.3,154.4 344.4,133.5 344.5,134.7 344.6,154.9 344.8,144.8 344.9,142.0 345.0,135.2 345.1,148.0 345.3,141.6 345.4,148.7 345.5,150.8 345.6,153.4 345.8,144.4 345.9,142.7 346.0,147.9 346.1,146.9 346.3,149.5 346.4,143.4 346.5,146.2 346.6,143.3 346.8,143.4 346.9,150.1 347.0,159.0 347.1,144.4 347.3,154.3 347.4,152.4 347.5,150.6 347.6,155.6 347.8,145.1 347.9,154.9 348.0,152.8 348.1,134.3 348.3,153.6 348.4,155.9 348.5,166.8 348.6,142.1 348.8,152.1 348.9,154.4 349.0,143.5 349.1,161.8 349.3,155.7 349.4,145.5 349.5,142.3 349.6,149.1 349.8,168.5 349.9,168.8 350.0,137.6 350.1,138.4 350.3,159.7 350.4,153.4 350.5,149.3 350.6,160.1 350.8,156.1 350.9,158.0 351.0,158.1 351.1,146.7 351.3,167.9 351.4,152.8 351.5,167.0 351.6,163.4 351.8,158.0 351.9,159.2 352.0,157.9 352.1,142.2 352.3,156.0 352.4,163.0 352.5,145.0 352.6,146.4 352.8,169.8 352.9,167.7 353.0,146.6 353.1,165.2 353.3,160.8 353.4,170.5 353.5,158.9 353.6,160.1 353.8,155.5 353.9,164.4 354.0,161.9 354.1,157.2 354.3,160.4 354.4,156.9 354.5,170.1 354.6,154.8 354.8,150.1 354.9,156.0 355.0,175.8 355.1,160.9 355.3,172.3 355.4,183.9 355.5,161.2 355.6,173.0 355.8,170.3 355.9,164.7 356.0,158.2 356.1,164.0 356.3,152.1 356.4,161.4 356.5,158.2 356.6,167.4 356.8,166.2 356.9,156.8 357.0,170.5 357.1,173.2 357.3,162.4 357.4,154.7 357.5,165.9 357.6,143.8 357.8,155.3 357.9,165.6 358.0,176.9 358.1,153.1 358.3,173.2 358.4,175.8 358.5,175.5 358.6,141.9 358.8,168.0 358.9,159.6 359.0,166.6 359.1,155.8 359.3,151.6 359.4,154.7 359.5,169.6 359.6,163.5 359.8,153.3 359.9,158.8 360.0,162.7 360.1,159.8 360.3,154.3 360.4,148.7 360.5,147.7 360.6,150.0 360.8,148.7 360.9,139.8 361.0,140.9 361.1,159.9 361.3,142.8 361.4,141.0 361.5,151.5 361.6,163.8 361.8,162.1 361.9,147.9 362.0,142.5 362.1,146.5 362.3,143.1 362.4,146.0 362.5,154.5 362.6,141.3 362.8,143.5 362.9,147.7 363.0,149.5 363.1,143.1 363.3,142.7 363.4,139.7 363.5,142.7 363.6,153.2 363.8,146.6 363.9,132.9 364.0,153.5 364.1,147.5 364.3,140.6 364.4,145.6 364.5,132.0 364.6,133.5 364.8,157.0 364.9,162.6 365.0,162.4 365.1,140.5 365.3,146.8 365.4,152.9 365.5,135.8 365.6,160.7 365.8,139.7 365.9,148.6 366.0,135.7 366.1,148.3 366.3,144.9 366.4,154.0 366.5,135.0 366.6,144.4 366.8,159.7 366.9,134.1 367.0,147.0 367.1,147.5 367.3,139.4 367.4,141.2 367.5,155.2 367.6,152.7 367.8,147.7 367.9,145.0 368.0,133.0 368.1,143.2 368.3,157.4 368.4,150.9 368.5,130.3 368.6,126.1 368.8,135.9 368.9,142.7 369.0,136.5 369.1,138.4 369.3,143.7 369.4,148.2 369.5,125.2 369.6,151.5 369.8,129.1 369.9,145.5 370.0,145.5 370.1,129.5 370.3,153.3 370.4,129.1 370.5,130.8 370.6,159.3 370.8,155.0 370.9,147.4 371.0,156.2 371.1,154.8 371.3,135.3 371.4,149.7 371.5,158.0 371.6,144.7 371.8,147.1 371.9,142.7 372.0,153.5 372.1,142.5 372.3,142.6 372.4,137.2 372.5,140.2 372.6,150.7 372.8,153.2 372.9,145.9 373.0,140.3 373.1,153.0 373.3,153.5 373.4,162.1 373.5,146.5 373.6,147.6 373.8,156.2 373.9,165.7 374.0,151.8 374.1,151.9 374.3,144.4 374.4,149.8 374.5,162.2 374.6,161.7 374.8,164.4 374.9,139.6 375.0,162.5 375.1,146.7 375.3,161.0 375.4,139.0 375.5,155.0 375.6,147.8 375.8,168.0 375.9,157.4 376.0,168.6 376.1,152.4 376.3,173.9 376.4,152.6 376.5,174.3 376.6,152.4 376.8,147.8 376.9,165.9 377.0,153.6 377.1,157.0 377.3,144.6 377.4,154.4 377.5,159.0 377.6,151.1 377.8,162.0 377.9,140.2 378.0,167.3 378.1,154.5 378.3,173.4 378.4,155.3 378.5,152.3 378.6,154.5 378.8,162.0 378.9,165.4 379.0,154.7 379.1,151.3 379.3,164.1 379.4,168.3 379.5,141.8 379.6,149.1 379.8,153.1 379.9,178.2 380.0,173.4 380.1,169.0 380.3,165.9 380.4,148.9 380.5,172.9 380.6,156.3 380.8,152.6 380.9,180.9 381.0,145.7 381.1,176.6 381.3,163.9 381.4,151.7 381.5,163.9 381.6,152.8 381.8,164.2 381.9,155.2 382.0,149.2 382.1,182.8 382.3,157.1 382.4,173.9 382.5,162.4 382.6,170.7 382.8,148.9 382.9,151.5 383.0,142.7 383.1,175.0 383.3,168.8 383.4,150.3 383.5,173.6 383.6,170.9 383.8,185.2 383.9,167.1 384.0,175.1 384.1,171.7 384.3,173.7 384.4,164.5 384.5,160.0 384.6,173.5 384.8,186.2 384.9,151.1 385.0,151.2 385.1,163.8 385.3,184.7 385.4,161.3 385.5,144.1 385.6,172.2 385.8,171.3 385.9,182.6 386.0,164.4 386.1,181.7 386.3,153.9 386.4,171.1 386.5,162.6 386.6,148.3 386.8,157.7 386.9,174.1 387.0,171.5 387.1,155.9 387.3,170.7 387.4,168.2 387.5,167.8 387.6,161.4 387.8,161.3 387.9,150.1 388.0,157.1 388.1,158.7 388.3,150.3 388.4,154.3 388.5,158.2 388.6,158.3 388.8,165.6 388.9,146.6 389.0,152.0 389.1,157.6 389.3,151.7 389.4,157.5 389.5,150.4 389.6,164.3 389.8,152.1 389.9,144.1 390.0,159.9 390.1,167.5 390.3,137.7 390.4,151.8 390.5,153.3 390.6,161.2 390.8,164.8 390.9,150.7 391.0,138.8 391.1,157.2 391.3,159.8 391.4,155.0 391.5,151.6 391.6,144.0 391.8,165.4 391.9,140.4 392.0,137.7 392.1,157.9 392.3,152.0 392.4,154.9 392.5,152.1 392.6,162.7 392.8,160.3 392.9,144.1 393.0,156.4 393.1,138.6 393.3,134.2 393.4,157.3 393.5,144.0 393.6,132.7 393.8,146.9 393.9,141.5 394.0,150.6 394.1,145.9 394.3,140.1 394.4,140.3 394.5,151.7 394.6,138.2 394.8,146.3 394.9,137.3 395.0,148.3 395.1,158.5 395.3,148.8 395.4,152.8 395.5,147.4 395.6,136.3 395.8,141.2 395.9,143.8 396.0,146.4 396.1,138.3 396.3,147.3 396.4,137.0 396.5,142.7 396.6,141.9 396.8,133.1 396.9,149.1 397.0,141.7 397.1,141.9 397.3,140.7 397.4,127.1 397.5,130.0 397.6,133.6 397.8,147.3 397.9,135.5 398.0,144.0 398.1,131.8 398.3,133.0 398.4,135.5 398.5,146.4 398.6,126.4 398.8,125.2 398.9,141.1 399.0,139.2 399.1,138.2 399.3,143.8 399.4,140.4 399.5,131.6 399.6,142.9 399.8,133.4 399.9,136.4 400.0,148.3 400.1,150.8 400.3,148.5 400.4,141.9 400.5,134.2 400.6,134.5 400.8,150.2 400.9,141.8 401.0,130.9 401.1,149.9 401.3,143.7 401.4,148.5 401.5,142.8 401.6,128.9 401.8,135.9 401.9,139.7 402.0,139.7 402.1,150.2 402.3,136.9 402.4,140.5 402.5,140.9 402.6,140.8 402.8,135.2 402.9,134.2 403.0,130.8 403.1,143.9 403.3,140.8 403.4,143.3 403.5,136.0 403.6,142.4 403.8,136.8 403.9,136.7 404.0,144.7 404.1,146.6 404.3,146.4 404.4,142.9 404.5,141.0 404.6,151.3 404.8,150.6 404.9,140.0 405.0,137.6 405.1,146.0 405.3,145.8 405.4,139.0 405.5,154.3 405.6,134.3 405.8,139.9 405.9,145.9 406.0,150.1 406.1,135.0 406.3,142.6 406.4,152.8 406.5,152.8 406.6,144.0 406.8,145.7 406.9,140.9 407.0,147.8 407.1,140.5 407.3,136.6 407.4,138.5 407.5,147.0 407.6,140.0 407.8,153.1 407.9,154.2 408.0,153.0 408.1,151.4 408.3,154.2 408.4,149.9 408.5,153.3 408.6,151.4 408.8,153.3 408.9,144.1 409.0,146.3 409.1,144.7 409.3,154.6 409.4,153.1 409.5,146.6 409.6,145.8 409.8,148.2 409.9,156.1 410.0,151.1 410.1,150.7 410.3,148.6 410.4,151.8 410.5,161.1 410.6,149.4 410.8,151.4 410.9,162.4 411.0,157.5 411.1,148.0 411.3,160.0 411.4,147.8 411.5,157.7 411.6,145.4 411.8,150.0 411.9,160.7 412.0,152.9 412.1,152.6 412.3,157.4 412.4,157.6 412.5,155.2 412.6,154.3 412.8,170.0 412.9,168.7 413.0,161.9 413.1,152.7 413.3,157.2 413.4,159.2 413.5,164.9 413.6,173.2 413.8,158.8 413.9,164.0 414.0,160.3 414.1,165.0 414.3,159.6 414.4,168.1 414.5,174.5 414.6,163.7 414.8,164.9 414.9,168.8 415.0,159.0 415.1,182.5 415.3,160.1 415.4,167.9 415.5,164.8 415.6,182.8 415.8,169.0 415.9,169.5 416.0,187.1 416.1,173.6 416.3,169.5 416.4,175.8 416.5,177.9 416.6,171.7 416.8,176.5 416.9,176.9 417.0,184.3 417.1,185.3 417.3,186.5 417.4,180.2 417.5,187.5 417.6,195.0 417.8,189.8 417.9,183.7 418.0,177.1 418.1,188.5 418.3,168.1 418.4,171.5 418.5,172.1 418.6,176.3 418.8,167.8 418.9,167.4 419.0,162.3 419.1,175.8 419.3,168.8 419.4,186.9 419.5,178.8 419.6,164.4 419.8,181.6 419.9,172.2 420.0,178.7 420.1,162.3 420.3,178.1 420.4,177.1 420.5,165.5 420.6,161.8 420.8,164.6 420.9,168.7 421.0,179.3 421.1,178.7 421.3,176.1 421.4,163.4 421.5,162.3 421.6,166.9 421.8,162.0 421.9,160.4 422.0,161.8 422.1,168.7 422.3,162.1 422.4,163.8 422.5,160.1 422.6,160.3 422.8,159.0 422.9,169.0 423.0,162.0 423.1,169.7 423.3,158.7 423.4,166.1 423.5,150.5 423.6,156.3 423.8,158.1 423.9,154.3 424.0,157.1 424.1,151.9 424.3,156.1 424.4,152.8 424.5,156.4 424.6,154.3 424.8,150.0 424.9,153.0 425.0,155.2 425.1,147.6 425.3,154.8 425.4,160.7 425.5,152.4 425.6,156.2 425.8,156.2 425.9,148.3 426.0,159.2 426.1,161.5 426.3,145.7 426.4,160.9 426.5,146.5 426.6,158.3 426.8,139.2 426.9,155.7 427.0,149.6 427.1,140.8 427.3,143.0 427.4,141.2 427.5,141.6 427.6,149.0 427.8,145.1 427.9,134.3 428.0,143.4 428.1,147.9 428.3,145.1 428.4,155.1 428.5,131.7 428.6,144.9 428.8,143.1 428.9,147.3 429.0,132.9 429.1,132.6 429.3,140.0 429.4,141.3 429.5,127.5 429.6,142.5 429.8,139.4 429.9,144.4 430.0,125.3 430.1,141.9 430.3,131.2 430.4,133.8 430.5,142.9 430.6,149.7 430.8,138.1 430.9,136.2 431.0,146.8 431.1,130.2 431.3,135.8 431.4,133.2 431.5,129.6 431.6,138.4 431.8,150.7 431.9,138.8 432.0,140.7 432.1,136.7 432.3,145.5 432.4,138.3 432.5,130.3 432.6,137.7 432.8,147.8 432.9,136.3 433.0,146.0 433.1,136.4 433.3,150.7 433.4,139.1 433.5,141.9 433.6,134.8 433.8,143.3 433.9,135.3 434.0,125.8 434.1,139.3 434.3,127.9 434.4,148.1 434.5,143.0 434.6,137.1 434.8,142.2 434.9,123.2 435.0,148.6 435.1,132.1 435.3,142.1 435.4,150.8 435.5,125.2 435.6,134.2 435.8,140.0 435.9,140.6 436.0,125.2 436.1,130.9 436.3,148.6 436.4,133.6 436.5,142.0 436.6,128.3 436.8,131.7 436.9,125.4 437.0,140.3 437.1,146.7 437.3,139.3 437.4,136.8 437.5,140.5 437.6,142.1 437.8,137.0 437.9,142.9 438.0,151.6 438.1,151.6 438.3,135.5 438.4,131.0 438.5,151.8 438.6,146.2 438.8,147.9 438.9,143.9 439.0,138.5 439.1,146.5 439.3,147.5 439.4,147.9 439.5,133.4 439.6,147.1 439.8,138.4 439.9,138.4 440.0,143.0 440.1,138.7 440.3,152.3 440.4,144.6 440.5,142.9 440.6,140.2 440.8,143.0 440.9,140.2 441.0,145.2 441.1,147.0 441.3,146.9 441.4,134.7 441.5,140.2 441.6,142.8 441.8,135.4 441.9,144.7 442.0,141.8 442.1,143.1 442.3,145.0 442.4,139.6 442.5,151.9 442.6,149.2 442.8,140.6 442.9,146.4 443.0,148.1 443.1,139.9 443.3,142.4 443.4,148.5 443.5,134.5 443.6,137.6 443.8,147.0 443.9,148.8 444.0,140.3 444.1,150.5 444.3,156.0 444.4,147.2 444.5,146.0 444.6,146.9 444.8,141.2 444.9,150.0 445.0,148.3 445.1,151.6 445.3,155.4 445.4,148.4 445.5,149.4 445.6,150.4 445.8,157.8 445.9,142.0 446.0,149.6 446.1,146.8 446.3,150.8 446.4,154.4 446.5,151.0 446.6,154.4 446.8,152.1 446.9,148.3 447.0,148.9 447.1,146.0 447.3,154.4 447.4,151.9 447.5,158.9 447.6,160.4 447.8,150.9 447.9,150.3 448.0,160.6 448.1,152.5 448.3,159.6 448.4,162.7 448.5,157.1 448.6,171.7 448.8,155.7 448.9,164.3 449.0,159.2 449.1,149.7 449.3,176.2 449.4,162.0 449.5,166.8 449.6,161.4 449.8,156.9 449.9,158.1 450.0,159.2 450.1,166.0 450.3,158.6 450.4,168.2 450.5,165.3 450.6,154.6 450.8,165.6 450.9,147.0 451.0,158.4 451.1,151.8 451.3,156.9 451.4,164.1 451.5,156.7 451.6,155.4 451.8,163.4 451.9,151.2 452.0,150.5 452.1,160.3 452.3,157.9 452.4,146.3 452.5,154.5 452.6,157.5 452.8,152.1 452.9,150.3 453.0,152.6 453.1,152.4 453.3,146.8 453.4,154.7 453.5,140.7 453.6,148.5 453.8,158.5 453.9,141.7 454.0,146.9 454.1,135.8 454.3,141.1 454.4,138.6 454.5,145.2 454.6,141.3 454.8,154.9 454.9,137.4 455.0,142.4 455.1,143.4 455.3,145.6 455.4,146.8 455.5,130.1 455.6,151.9 455.8,137.2 455.9,133.8 456.0,126.8 456.1,134.5 456.3,124.6 456.4,137.7 456.5,131.6 456.6,137.6 456.8,129.0 456.9,134.7 457.0,147.1 457.1,141.8 457.3,133.7 457.4,124.4 457.5,142.6 457.6,118.1 457.8,119.9 457.9,140.1 458.0,125.4 458.1,139.6 458.3,133.4 458.4,142.3 458.5,141.6 458.6,132.3 458.8,123.1 458.9,131.8 459.0,137.5 459.1,128.0 459.3,113.1 459.4,123.6 459.5,123.4 459.6,125.4 459.8,122.9 459.9,133.8 460.0,115.5 460.1,128.0 460.3,110.7 460.4,110.4 460.5,116.3 460.6,117.9 460.8,116.6 460.9,117.7 461.0,127.4 461.1,126.9 461.3,122.8 461.4,123.5 461.5,116.4 461.6,113.9 461.8,110.2 461.9,117.7 462.0,111.9 462.1,117.8 462.3,125.6 462.4,124.0 462.5,129.8 462.6,112.0 462.8,104.6 462.9,110.0 463.0,132.6 463.1,123.6 463.3,114.4 463.4,103.5 463.5,114.5 463.6,130.9 463.8,114.8 463.9,114.8 464.0,123.5 464.1,109.3 464.3,117.0 464.4,132.6 464.5,121.9 464.6,110.1 464.8,116.8 464.9,118.6 465.0,113.1 465.1,122.2 465.3,128.7 465.4,119.6 465.5,126.1 465.6,121.7 465.8,120.6 465.9,114.0 466.0,127.1 466.1,130.1 466.3,116.6 466.4,113.5 466.5,124.1 466.6,121.1 466.8,128.9 466.9,124.2 467.0,119.6 467.1,110.3 467.3,125.4 467.4,121.6 467.5,111.6 467.6,110.0 467.8,107.6 467.9,125.9 468.0,118.2 468.1,108.0 468.3,115.1 468.4,117.0 468.5,121.0 468.6,122.2 468.8,119.6 468.9,127.6 469.0,129.8 469.1,120.7 469.3,134.0 469.4,121.6 469.5,116.4 469.6,123.9 469.8,112.5 469.9,120.8 470.0,115.4 470.1,120.1 470.3,124.7 470.4,110.2 470.5,126.3 470.6,125.5 470.8,122.2 470.9,129.0 471.0,126.5 471.1,121.5 471.3,117.0 471.4,129.6 471.5,130.0 471.6,114.0 471.8,119.5 471.9,116.4 472.0,131.0 472.1,121.0 472.3,116.3 472.4,136.2 472.5,128.8 472.6,127.3 472.8,127.5 472.9,124.6 473.0,126.3 473.1,132.6 473.3,129.5 473.4,123.3 473.5,127.4 473.6,139.8 473.8,123.1 473.9,117.9 474.0,128.1 474.1,119.5 474.3,140.4 474.4,132.1 474.5,132.0 474.6,130.6 474.8,140.9 474.9,121.4 475.0,128.2 475.1,117.3 475.3,137.4 475.4,128.5 475.5,141.2 475.6,127.5 475.8,122.4 475.9,124.9 476.0,135.2 476.1,124.4 476.3,131.8 476.4,125.4 476.5,125.7 476.6,126.8 476.8,141.5 476.9,123.8 477.0,133.2 477.1,136.5 477.3,126.5 477.4,121.6 477.5,141.6 477.6,143.5 477.8,131.1 477.9,125.4 478.0,139.1 478.1,133.7 478.3,129.2 478.4,132.4 478.5,123.9 478.6,130.7 478.8,128.6 478.9,128.5 479.0,140.6 479.1,139.1 479.3,148.2 479.4,127.4 479.5,134.8 479.6,134.2 479.8,147.5 479.9,146.2 480.0,141.2 480.1,141.5 480.3,137.1 480.4,138.9 480.5,139.7 480.6,132.4 480.8,153.5 480.9,147.7 481.0,154.3 481.1,151.1 481.3,146.7 481.4,148.9 481.5,132.0 481.6,136.2 481.8,149.4 481.9,140.2 482.0,130.3 482.1,157.5 482.3,131.9 482.4,141.8 482.5,153.9 482.6,131.4 482.8,136.4 482.9,144.0 483.0,138.7 483.1,139.8 483.3,130.8 483.4,134.4 483.5,121.8 483.6,134.6 483.8,146.0 483.9,125.7 484.0,132.8 484.1,139.5 484.3,143.2 484.4,142.1 484.5,124.7 484.6,128.2 484.8,145.3 484.9,127.0 485.0,132.6 485.1,123.2 485.3,124.3 485.4,115.1 485.5,124.4 485.6,114.5 485.8,120.1 485.9,120.0 486.0,136.8 486.1,132.0 486.3,128.9 486.4,121.8 486.5,115.3 486.6,128.0 486.8,118.5 486.9,123.1 487.0,130.1 487.1,122.0 487.3,122.9 487.4,115.9 487.5,129.8 487.6,125.9 487.8,126.9 487.9,133.0 488.0,110.0 488.1,121.3 488.3,125.4 488.4,122.9 488.5,122.4 488.6,123.3 488.8,108.9 488.9,118.9 489.0,127.5 489.1,118.5 489.3,117.2 489.4,124.4 489.5,105.5 489.6,120.6 489.8,128.5 489.9,115.4 490.0,111.0 490.1,120.5 490.3,113.1 490.4,110.2 490.5,117.1 490.6,103.7 490.8,120.3 490.9,106.7 491.0,111.2 491.1,120.1 491.3,114.4 491.4,116.3 491.5,124.0 491.6,124.9 491.8,127.2 491.9,110.0 492.0,120.5 492.1,101.7 492.3,119.6 492.4,123.3 492.5,108.1 492.6,116.9 492.8,119.7 492.9,112.0 493.0,108.3 493.1,124.7 493.3,102.8 493.4,114.2 493.5,120.3 493.6,114.6 493.8,125.2 493.9,124.4 494.0,116.2 494.1,126.7 494.3,118.4 494.4,102.1 494.5,109.4 494.6,114.3 494.8,113.5 494.9,97.6 495.0,127.2 495.1,98.4 495.3,101.9 495.4,115.3 495.5,113.1 495.6,124.7 495.8,113.2 495.9,114.4 496.0,117.5 496.1,104.4 496.3,95.3 496.4,106.9 496.5,120.1 496.6,108.7 496.8,122.2 496.9,106.6 497.0,118.0 497.1,111.8 497.3,118.8 497.4,111.9 497.5,113.6 497.6,108.1 497.8,122.4 497.9,111.9 498.0,116.4 498.1,117.6 498.3,105.3 498.4,105.9 498.5,112.3 498.6,122.9 498.8,104.6 498.9,105.1 499.0,105.5 499.1,110.3 499.3,105.2 499.4,107.3 499.5,118.0 499.6,105.6 499.8,114.1 499.9,105.2 500.0,113.0 500.1,118.7 500.3,101.0 500.4,115.4 500.5,116.9 500.6,114.8 500.8,117.4 500.9,118.7 501.0,105.9 501.1,115.0 501.3,120.9 501.4,125.9 501.5,106.0 501.6,112.0 501.8,106.3 501.9,116.6 502.0,108.9 502.1,109.6 502.3,122.9 502.4,131.0 502.5,104.0 502.6,129.9 502.8,110.9 502.9,123.0 503.0,120.6 503.1,127.3 503.3,116.8 503.4,112.3 503.5,118.1 503.6,124.6 503.8,112.3 503.9,122.0 504.0,119.1 504.1,120.6 504.3,119.5 504.4,124.0 504.5,125.6 504.6,117.7 504.8,117.4 504.9,107.0 505.0,113.9 505.1,109.3 505.3,125.5 505.4,112.9 505.5,115.8 505.6,124.8 505.8,128.5 505.9,130.4 506.0,115.6 506.1,123.9 506.3,130.3 506.4,116.5 506.5,121.3 506.6,114.2 506.8,118.8 506.9,129.1 507.0,124.8 507.1,121.7 507.3,120.5 507.4,136.3 507.5,130.9 507.6,116.2 507.8,139.6 507.9,123.0 508.0,125.2 508.1,122.9 508.3,122.6 508.4,132.1 508.5,116.4 508.6,128.0 508.8,125.5 508.9,141.8 509.0,131.6 509.1,132.3 509.3,133.3 509.4,134.1 509.5,130.7 509.6,115.9 509.8,133.6 509.9,128.1 510.0,136.4 510.1,133.6 510.3,127.1 510.4,124.8 510.5,124.4 510.6,135.4 510.8,132.9 510.9,127.1 511.0,132.0 511.1,138.6 511.3,130.7 511.4,135.8 511.5,132.3 511.6,122.5 511.8,139.6 511.9,139.9 512.0,147.2 512.1,152.3 512.3,134.8 512.4,147.3 512.5,145.0 512.6,159.8 512.8,150.4 512.9,150.1 513.0,129.3 513.1,154.4 513.3,138.0 513.4,132.5 513.5,131.5 513.6,135.2 513.8,125.7 513.9,146.7 514.0,139.4 514.1,125.4 514.3,142.0 514.4,135.3 514.5,133.0 514.6,141.3 514.8,129.7 514.9,127.2 515.0,134.5 515.1,109.6 515.3,115.5 515.4,132.8 515.5,138.0 515.6,109.0 515.8,125.9 515.9,118.4 516.0,121.8 516.1,130.2 516.3,138.7 516.4,140.8 516.5,132.0 516.6,128.3 516.8,122.8 516.9,102.7 517.0,124.1 517.1,107.8 517.3,108.1 517.4,119.7 517.5,102.5 517.6,135.5 517.8,123.5 517.9,120.7 518.0,121.6 518.1,118.8 518.3,116.6 518.4,122.9 518.5,108.1 518.6,117.7 518.8,116.2 518.9,122.4 519.0,101.8 519.1,116.0 519.3,111.5 519.4,119.5 519.5,118.1 519.6,113.8 519.8,91.7 519.9,116.4 520.0,126.3 520.1,114.6 520.3,117.0 520.4,101.2 520.5,108.9 520.6,119.0 520.8,121.8 520.9,100.8 521.0,110.3 521.1,107.9 521.3,111.1 521.4,105.7 521.5,106.3 521.6,109.7 521.8,111.4 521.9,119.8 522.0,102.1 522.1,101.1 522.3,117.6 522.4,115.0 522.5,108.7 522.6,99.6 522.8,120.6 522.9,100.6 523.0,121.6 523.1,113.3 523.3,109.6 523.4,109.2 523.5,118.8 523.6,110.8 523.8,93.1 523.9,103.4 524.0,91.6 524.1,114.4 524.3,119.9 524.4,121.1 524.5,95.4 524.6,129.9 524.8,129.8 524.9,108.4 525.0,88.9 525.1,99.4 525.3,121.4 525.4,130.7 525.5,102.7 525.6,87.2 525.8,97.2 525.9,131.2 526.0,108.6 526.1,91.1 526.3,85.5 526.4,116.4 526.5,118.6 526.6,101.9 526.8,84.7 526.9,109.6 527.0,104.7 527.1,102.7 527.3,102.9 527.4,103.3 527.5,126.2 527.6,116.4 527.8,124.3 527.9,134.3 528.0,91.9 528.1,112.9 528.3,125.0 528.4,112.2 528.5,108.5 528.6,120.0 528.8,110.4 528.9,107.6 529.0,113.9 529.1,118.1 529.3,117.9 529.4,127.5 529.5,118.6 529.6,113.7 529.8,138.0 529.9,116.8 530.0,116.6 530.1,118.2 530.3,112.7 530.4,103.9 530.5,122.5 530.6,135.8 530.8,102.2 530.9,113.4 531.0,125.9 531.1,114.8 531.3,127.5 531.4,121.8 531.5,111.3 531.6,120.6 531.8,117.8 531.9,128.8 532.0,105.0 532.1,127.9 532.3,137.5 532.4,125.7 532.5,126.8 532.6,119.3 532.8,128.3 532.9,123.7 533.0,112.6 533.1,113.8 533.3,107.8 533.4,130.4 533.5,128.0 533.6,137.3 533.8,129.3 533.9,133.8 534.0,114.0 534.1,109.4 534.3,121.9 534.4,124.4 534.5,131.4 534.6,126.7 534.8,126.5 534.9,128.8 535.0,131.0 535.1,130.7 535.3,132.0 535.4,124.1 535.5,128.3 535.6,114.8 535.8,118.5 535.9,127.0 536.0,134.2 536.1,122.5 536.3,116.2 536.4,140.0 536.5,122.2 536.6,113.6 536.8,121.2 536.9,119.2 537.0,113.0 537.1,127.6 537.3,148.5 537.4,124.3 537.5,123.7 537.6,143.6 537.8,133.2 537.9,131.4 538.0,146.3 538.1,120.9 538.3,132.4 538.4,138.2 538.5,135.3 538.6,121.6 538.8,124.2 538.9,151.8 539.0,133.0 539.1,131.4 539.3,145.2 539.4,116.2 539.5,134.1 539.6,116.8 539.8,149.2 539.9,125.0 540.0,136.4 540.1,153.9 540.3,136.3 540.4,137.8 540.5,134.5 540.6,131.1 540.8,135.9 540.9,131.3 541.0,128.9 541.1,137.8 541.3,139.1 541.4,121.9 541.5,124.4 541.6,125.2 541.8,132.1 541.9,118.5 542.0,139.7 542.1,127.4 542.3,127.3 542.4,131.9 542.5,118.3 542.6,126.2 542.8,125.5 542.9,131.7 543.0,112.1 543.1,130.9 543.3,124.4 543.4,121.5 543.5,127.7 543.6,117.1 543.8,117.3 543.9,125.2 544.0,115.6 544.1,126.8 544.3,128.9 544.4,119.5 544.5,119.0 544.6,112.1 544.8,109.7 544.9,128.5 545.0,108.3 545.1,117.1 545.3,118.6 545.4,108.7 545.5,110.3 545.6,109.9 545.8,130.4 545.9,118.2 546.0,126.3 546.1,129.9 546.3,122.9 546.4,125.2 546.5,110.4 546.6,108.2 546.8,125.7 546.9,125.6 547.0,104.7 547.1,122.6 547.3,115.3 547.4,119.3 547.5,120.5 547.6,127.6 547.8,106.7 547.9,96.4 548.0,122.5 548.1,109.6 548.3,116.5 548.4,111.3 548.5,97.6 548.6,107.3 548.8,119.5 548.9,107.5 549.0,99.1 549.1,107.9 549.3,113.1 549.4,116.4 549.5,115.1 549.6,116.8 549.8,103.4 549.9,107.3 550.0,105.9 550.1,108.7 550.3,116.3 550.4,123.9 550.5,110.6 550.6,121.7 550.8,122.2 550.9,102.9 551.0,105.8 551.1,114.1 551.3,101.1 551.4,128.4 551.5,97.0 551.6,102.5 551.8,119.7 551.9,106.7 552.0,119.2 552.1,104.7 552.3,122.2 552.4,108.2 552.5,119.4 552.6,121.9 552.8,100.7 552.9,106.1 553.0,99.0 553.1,104.6 553.3,121.6 553.4,113.9 553.5,121.2 553.6,126.0 553.8,122.9 553.9,120.5 554.0,111.3 554.1,111.8 554.3,117.6 554.4,122.0 554.5,123.8 554.6,117.7 554.8,113.3 554.9,115.1 555.0,128.6 555.1,118.3 555.3,130.1 555.4,111.1 555.5,123.4 555.6,118.6 555.8,123.0 555.9,111.7 556.0,120.2 556.1,117.3 556.3,115.9 556.4,109.2 556.5,107.7 556.6,116.2 556.8,123.1 556.9,121.1 557.0,121.2 557.1,122.0 557.3,109.5 557.4,128.0 557.5,120.7 557.6,114.7 557.8,116.5 557.9,128.3 558.0,122.5 558.1,108.6 558.3,135.1 558.4,110.4 558.5,134.9 558.6,128.5 558.8,114.7 558.9,131.9 559.0,132.3 559.1,130.8 559.3,128.1 559.4,125.8 559.5,125.2 559.6,119.7 559.8,126.0 559.9,133.9 560.0,123.6 560.1,138.3 560.3,113.0 560.4,125.3 560.5,114.0 560.6,112.1 560.8,127.6 560.9,123.4 561.0,121.9 561.1,118.3 561.3,124.7 561.4,114.4 561.5,125.4 561.6,123.1 561.8,117.8 561.9,130.7 562.0,113.6 562.1,131.5 562.3,130.7 562.4,133.1 562.5,130.4 562.6,136.1 562.8,127.9 562.9,121.5 563.0,134.0 563.1,124.6 563.3,128.5 563.4,133.0 563.5,124.3 563.6,141.4 563.8,119.4 563.9,144.5 564.0,133.6 564.1,149.8 564.3,144.9 564.4,141.4 564.5,138.4 564.6,137.3 564.8,124.1 564.9,132.2 565.0,129.2 565.1,131.9 565.3,137.9 565.4,132.3 565.5,141.4 565.6,138.4 565.8,137.0 565.9,145.4 566.0,146.7 566.1,130.8 566.3,140.7 566.4,160.5 566.5,144.8 566.6,149.4 566.8,137.8 566.9,155.2 567.0,160.8 567.1,163.3 567.3,146.3 567.4,147.7 567.5,132.2 567.6,152.1 567.8,145.2 567.9,150.1 568.0,149.2 568.1,147.4 568.3,158.9 568.4,151.5 568.5,138.6 568.6,147.8 568.8,147.4 568.9,141.9 569.0,152.5 569.1,137.2 569.3,124.8 569.4,129.8 569.5,141.5 569.6,128.8 569.8,138.1 569.9,122.6 570.0,138.8 570.1,132.3 570.3,125.9 570.4,128.7 570.5,130.9 570.6,141.0 570.8,134.6 570.9,130.2 571.0,133.0 571.1,138.9 571.3,134.8 571.4,145.5 571.5,123.8 571.6,137.1 571.8,130.8 571.9,123.9 572.0,134.6 572.1,136.5 572.3,137.6 572.4,133.0 572.5,120.3 572.6,129.7 572.8,131.4 572.9,143.2 573.0,128.6 573.1,128.6 573.3,141.8 573.4,127.4 573.5,122.2 573.6,129.1 573.8,133.6 573.9,127.5 574.0,109.8 574.1,122.0 574.3,135.4 574.4,118.7 574.5,133.8 574.6,127.2 574.8,117.9 574.9,133.0 575.0,107.5 575.1,107.5 575.3,110.6 575.4,130.1 575.5,122.5 575.6,130.8 575.8,124.1 575.9,126.0 576.0,119.9 576.1,121.0 576.3,133.6 576.4,131.5 576.5,112.2 576.6,129.5 576.8,140.6 576.9,131.0 577.0,115.6 577.1,130.7 577.3,125.9 577.4,121.0 577.5,132.4 577.6,134.6 577.8,119.0 577.9,124.6 578.0,120.0 578.1,123.4 578.3,137.2 578.4,107.0 578.5,128.3 578.6,125.7 578.8,124.3 578.9,113.8 579.0,129.2 579.1,114.3 579.3,130.3 579.4,123.3 579.5,125.4 579.6,120.3 579.8,116.9 579.9,115.5 580.0,124.7 580.1,124.0 580.3,127.4 580.4,122.4 580.5,131.9 580.6,126.5 580.8,126.4 580.9,123.3 581.0,125.4 581.1,131.4 581.3,119.5 581.4,115.1 581.5,129.4 581.6,129.8 581.8,126.4 581.9,128.4 582.0,114.7 582.1,117.8 582.3,126.6 582.4,126.4 582.5,115.7 582.6,131.1 582.8,110.0 582.9,138.3 583.0,117.8 583.1,122.3 583.3,118.2 583.4,115.6 583.5,125.0 583.6,111.1 583.8,125.2 583.9,129.8 584.0,125.8 584.1,128.4 584.3,116.0 584.4,112.6 584.5,117.4 584.6,138.5 584.8,132.1 584.9,113.9 585.0,144.6 585.1,135.3 585.3,139.4 585.4,138.9 585.5,141.6 585.6,115.9 585.8,131.3 585.9,124.1 586.0,146.6 586.1,137.0 586.3,131.2 586.4,129.2 586.5,115.3 586.6,132.6 586.8,124.7 586.9,143.5 587.0,138.4 587.1,131.7 587.3,129.2 587.4,141.9 587.5,128.3 587.6,142.1 587.8,134.8 587.9,130.9 588.0,136.5 588.1,148.1 588.3,120.5 588.4,140.1 588.5,140.1 588.6,132.1 588.8,146.4 588.9,140.0 589.0,139.1 589.1,126.6 589.3,139.7 589.4,124.6 589.5,139.4 589.6,150.2 589.8,128.3 589.9,148.3 590.0,127.2 590.1,136.6 590.3,142.2 590.4,124.9 590.5,139.8 590.6,130.9 590.8,132.5 590.9,145.2 591.0,137.7 591.1,142.2 591.3,139.2 591.4,142.7 591.5,153.5 591.6,141.1 591.8,137.8 591.9,140.9 592.0,147.6 592.1,145.6 592.3,123.9 592.4,141.3 592.5,146.5 592.6,160.2 592.8,137.5 592.9,141.0 593.0,133.0 593.1,143.8 593.3,127.9 593.4,137.2 593.5,145.0 593.6,131.5 593.8,144.0 593.9,164.5 594.0,158.9 594.1,161.6 594.3,163.2 594.4,147.9 594.5,152.3 594.6,161.6 594.8,141.2 594.9,159.5 595.0,138.3 595.1,153.4 595.3,132.2 595.4,140.9 595.5,141.9 595.6,141.0 595.8,127.6 595.9,142.9 596.0,139.1 596.1,152.5 596.3,144.9 596.4,125.1 596.5,140.3 596.6,147.1 596.8,137.5 596.9,132.3 597.0,126.6 597.1,133.9 597.3,129.0 597.4,133.8 597.5,133.1 597.6,145.7 597.8,127.0 597.9,137.4 598.0,125.2 598.1,136.4 598.3,142.5 598.4,128.4 598.5,122.7 598.6,133.0 598.8,132.6 598.9,126.3 599.0,135.6 599.1,132.0 599.3,137.3 599.4,117.8 599.5,137.5 599.6,142.2 599.8,122.4 599.9,147.1 600.0,132.1 600.1,117.7 600.3,119.8 600.4,122.7 600.5,123.4 600.6,127.1 600.8,132.0 600.9,127.2 601.0,126.1 601.1,120.1 601.3,111.7 601.4,122.2 601.5,117.4 601.6,136.3 601.8,111.4 601.9,138.4 602.0,111.3 602.1,126.2 602.3,127.9 602.4,117.9 602.5,119.0 602.6,135.2 602.8,117.9 602.9,126.4 603.0,127.5 603.1,132.7 603.3,116.0 603.4,138.1 603.5,125.3 603.6,135.2 603.8,114.4 603.9,135.6 604.0,125.4 604.1,132.7 604.3,110.5 604.4,133.5 604.5,126.6 604.6,110.3 604.8,142.1 604.9,120.9 605.0,130.7 605.1,125.1 605.3,123.0 605.4,123.7 605.5,135.2 605.6,135.5 605.8,135.5 605.9,112.9 606.0,134.8 606.1,114.2 606.3,144.1 606.4,131.3 606.5,138.3 606.6,128.0 606.8,129.4 606.9,121.8 607.0,145.1 607.1,125.4 607.3,138.7 607.4,121.1 607.5,127.4 607.6,125.2 607.8,128.0 607.9,124.6 608.0,135.6 608.1,136.0 608.3,115.8 608.4,126.7 608.5,119.2 608.6,140.7 608.8,120.6 608.9,136.0 609.0,133.5 609.1,132.1 609.3,117.1 609.4,147.3 609.5,132.3 609.6,139.3 609.8,142.6 609.9,126.4 610.0,126.9 610.1,148.5 610.3,149.4 610.4,129.4 610.5,135.4 610.6,143.4 610.8,135.5 610.9,146.6 611.0,141.6 611.1,137.1 611.3,142.6 611.4,134.9 611.5,147.4 611.6,134.4 611.8,148.3 611.9,151.9 612.0,128.3 612.1,151.7 612.3,131.0 612.4,140.7 612.5,153.2 612.6,148.7 612.8,146.3 612.9,144.5 613.0,143.4 613.1,145.5 613.3,141.4 613.4,141.0 613.5,134.9 613.6,155.0 613.8,143.5 613.9,155.9 614.0,149.0 614.1,147.3 614.3,137.0 614.4,142.9 614.5,145.2 614.6,144.3 614.8,143.3 614.9,132.7 615.0,143.0 615.1,144.3 615.3,142.9 615.4,144.3 615.5,135.8 615.6,140.9 615.8,157.4 615.9,140.7 616.0,143.9 616.1,142.0 616.3,146.9 616.4,144.7 616.5,161.6 616.6,141.4 616.8,159.1 616.9,146.0 617.0,153.0 617.1,163.4 617.3,150.2 617.4,150.5 617.5,136.6 617.6,148.4 617.8,149.6 617.9,152.5 618.0,153.6 618.1,143.5 618.3,144.9 618.4,158.7 618.5,150.7 618.6,153.4 618.8,158.8 618.9,154.5 619.0,155.2 619.1,145.3 619.3,154.4 619.4,140.5 619.5,169.8 619.6,148.7 619.8,169.8 619.9,151.5 620.0,154.8 620.1,171.5 620.3,158.0 620.4,157.5 620.5,153.6 620.6,153.5 620.8,149.2 620.9,148.3 621.0,139.6 621.1,152.0 621.3,146.4 621.4,163.3 621.5,165.8 621.6,165.2 621.8,140.7 621.9,146.8 622.0,148.0 622.1,136.1 622.3,160.5 622.4,153.1 622.5,149.1 622.6,160.7 622.8,149.5 622.9,142.5 623.0,146.6 623.1,139.9 623.3,147.1 623.4,131.7 623.5,146.2 623.6,138.9 623.8,137.2 623.9,137.0 624.0,138.5 624.1,124.4 624.3,143.4 624.4,136.1 624.5,152.1 624.6,136.5 624.8,144.0 624.9,135.2 625.0,133.7 625.1,123.9 625.3,129.7 625.4,128.3 625.5,117.1 625.6,130.5 625.8,126.8 625.9,135.4 626.0,141.4 626.1,130.1 626.3,142.5 626.4,142.8 626.5,138.7 626.6,129.4 626.8,133.0 626.9,145.7 627.0,144.8 627.1,141.3 627.3,117.3 627.4,115.9 627.5,146.2 627.6,137.3 627.8,142.4 627.9,136.0 628.0,128.6 628.1,134.8 628.3,130.5 628.4,143.1 628.5,137.6 628.6,122.8 628.8,124.2 628.9,138.6 629.0,137.4 629.1,132.5 629.3,132.8 629.4,119.8 629.5,122.9 629.6,134.0 629.8,114.8 629.9,133.5 630.0,134.1 630.1,134.6 630.3,136.0 630.4,143.3 630.5,131.4 630.6,122.4 630.8,115.1 630.9,113.6 631.0,129.4 631.1,135.6 631.3,115.0 631.4,129.7 631.5,122.5 631.6,126.1 631.8,129.7 631.9,128.2 632.0,118.4 632.1,133.6 632.3,126.5 632.4,112.7 632.5,133.6 632.6,140.0 632.8,124.4 632.9,140.3 633.0,114.7 633.1,125.4 633.3,138.0 633.4,138.2 633.5,131.7 633.6,136.2 633.8,124.1 633.9,133.5 634.0,135.5 634.1,135.4 634.3,130.7 634.4,134.6 634.5,131.2 634.6,132.7 634.8,114.3 634.9,132.7 635.0,119.4 635.1,124.3 635.3,128.0 635.4,129.7 635.5,116.0 635.6,122.9 635.8,129.6 635.9,123.9 636.0,127.8 636.1,129.6 636.3,129.4 636.4,122.6 636.5,129.2 636.6,132.7 636.8,116.0 636.9,134.7 637.0,118.4 637.1,110.5 637.3,133.5 637.4,134.1 637.5,117.8 637.6,120.4 637.8,118.3 637.9,134.5 638.0,130.8 638.1,113.6 638.3,136.8 638.4,141.1 638.5,126.0 638.6,130.3 638.8,133.5 638.9,122.5 639.0,128.0 639.1,137.0 639.3,129.3 639.4,132.6 639.5,133.9 639.6,148.4 639.8,135.8 639.9,136.8 640.0,129.9 640.1,145.2 640.3,135.2 640.4,134.7 640.5,146.6 640.6,147.1 640.8,127.7 640.9,133.3 641.0,147.3 641.1,132.5 641.3,150.4 641.4,135.8 641.5,152.6 641.6,129.4 641.8,121.9 641.9,125.8 642.0,153.4 642.1,132.5 642.3,135.2 642.4,134.2 642.5,133.1 642.6,140.8 642.8,140.8 642.9,134.7 643.0,135.7 643.1,151.5 643.3,148.5 643.4,149.0 643.5,151.3 643.6,139.7 643.8,148.7 643.9,155.2 644.0,135.1 644.1,153.2 644.3,126.9 644.4,127.2 644.5,130.8 644.6,134.9 644.8,135.3 644.9,139.4 645.0,150.2 645.1,137.9 645.3,141.1 645.4,133.8 645.5,131.7 645.6,143.2 645.8,138.9 645.9,152.2 646.0,146.2 646.1,131.2 646.3,151.5 646.4,136.5 646.5,143.4 646.6,139.2 646.8,141.9 646.9,144.8 647.0,140.6 647.1,145.6 647.3,150.7 647.4,161.2 647.5,162.4 647.6,174.2 647.8,141.6 647.9,154.9 648.0,172.7 648.1,149.2 648.3,160.5 648.4,171.5 648.5,182.0 648.6,172.3 648.8,188.0 648.9,164.5 649.0,171.7 649.1,164.1 649.3,165.0 649.4,152.7 649.5,156.5 649.6,147.2 649.8,143.6 649.9,144.6 650.0,143.4 650.1,144.9 650.3,145.7 650.4,136.5 650.5,153.9 650.6,153.8 650.8,165.5 650.9,132.7 651.0,136.9 651.1,141.0 651.3,141.8 651.4,150.6 651.5,141.8 651.6,142.4 651.8,156.6 651.9,147.7 652.0,134.0 652.1,158.3 652.3,166.3 652.4,131.5 652.5,147.5 652.6,161.8 652.8,148.8 652.9,146.5 653.0,152.0 653.1,161.1 653.3,151.1 653.4,147.9 653.5,139.4 653.6,152.2 653.8,142.6 653.9,150.3 654.0,141.1 654.1,145.2 654.3,144.8 654.4,147.2 654.5,144.4 654.6,160.1 654.8,157.2 654.9,150.5 655.0,146.5 655.1,159.2 655.3,151.7 655.4,156.3 655.5,158.7 655.6,151.5 655.8,155.9 655.9,156.1 656.0,152.2 656.1,153.5 656.3,151.2 656.4,145.4 656.5,151.8 656.6,161.0 656.8,157.9 656.9,161.5 657.0,153.1 657.1,156.8 657.3,149.2 657.4,148.4 657.5,147.5 657.6,153.9 657.8,155.4 657.9,141.6 658.0,154.6 658.1,155.6 658.3,154.8 658.4,143.5 658.5,151.2 658.6,151.7 658.8,142.3 658.9,143.1 659.0,159.4 659.1,145.2 659.3,146.0 659.4,137.8 659.5,144.8 659.6,156.2 659.8,150.2 659.9,142.7 660.0,148.0 660.1,150.1 660.3,151.5 660.4,141.0 660.5,150.1 660.6,142.9 660.8,143.9 660.9,141.3 661.0,134.0 661.1,151.1 661.3,135.1 661.4,149.5 661.5,161.3 661.6,142.3 661.8,146.9 661.9,148.6 662.0,160.3 662.1,139.8 662.3,153.8 662.4,149.5 662.5,162.8 662.6,149.3 662.8,163.2 662.9,144.8 663.0,153.9 663.1,144.5 663.3,148.1 663.4,144.1 663.5,149.9 663.6,162.7 663.8,149.6 663.9,164.8 664.0,163.7 664.1,155.7 664.3,154.1 664.4,156.3 664.5,149.9 664.6,158.5 664.8,155.7 664.9,144.0 665.0,155.8 665.1,159.4 665.3,156.4 665.4,158.2 665.5,156.6 665.6,153.9 665.8,163.5 665.9,165.9 666.0,155.7 666.1,162.7 666.3,151.5 666.4,165.9 666.5,153.6 666.6,159.1 666.8,164.8 666.9,156.3 667.0,159.8 667.1,165.9 667.3,156.7 667.4,162.4 667.5,167.2 667.6,162.4 667.8,156.4 667.9,158.9 668.0,160.0 668.1,161.9 668.3,165.9 668.4,152.9 668.5,162.1 668.6,164.0 668.8,172.2 668.9,154.5 669.0,158.2 669.1,169.2 669.3,163.8 669.4,170.9 669.5,164.3 669.6,160.9 669.8,164.8 669.9,172.9 670.0,170.1 670.1,167.2 670.3,167.2 670.4,173.0 670.5,170.6 670.6,168.6 670.8,171.8 670.9,168.4 671.0,161.5 671.1,173.7 671.3,175.7 671.4,177.2 671.5,168.9 671.6,162.5 671.8,172.2 671.9,166.7 672.0,159.5 672.1,171.6 672.3,166.5 672.4,171.7 672.5,168.8 672.6,176.6 672.8,177.1 672.9,175.4 673.0,179.5 673.1,170.0 673.3,183.9 673.4,163.8 673.5,178.2 673.6,180.1 673.8,172.3 673.9,175.5 674.0,168.4 674.1,172.9 674.3,177.3 674.4,168.9 674.5,165.5 674.6,174.0 674.8,171.0 674.9,170.1 675.0,174.9 675.1,166.9 675.3,183.2 675.4,183.8 675.5,176.0 675.6,189.1 675.8,175.0 675.9,174.1 676.0,168.7 676.1,169.2 676.3,176.0 676.4,166.4 676.5,167.7 676.6,168.4 676.8,164.4 676.9,171.7 677.0,161.6 677.1,174.5 677.3,172.5 677.4,167.4 677.5,171.8 677.6,172.6 677.8,163.4 677.9,164.7 678.0,161.0 678.1,161.7 678.3,161.0 678.4,162.8 678.5,164.4 678.6,170.6 678.8,162.1 678.9,164.5 679.0,158.0 679.1,166.4 679.3,158.4 679.4,156.5 679.5,155.8 679.6,157.1 679.8,154.9 679.9,157.4 680.0,164.8 680.1,156.6 680.3,152.5 680.4,147.0 680.5,155.2 680.6,150.7 680.8,151.7 680.9,156.0 681.0,156.8 681.1,157.2 681.3,160.5 681.4,149.8 681.5,151.1 681.6,149.8 681.8,149.0 681.9,150.6 682.0,149.4 682.1,157.1 682.3,147.9 682.4,163.0 682.5,143.2 682.6,157.2 682.8,144.5 682.9,150.0 683.0,146.0 683.1,152.2 683.3,154.6 683.4,149.7 683.5,148.2 683.6,146.2 683.8,146.8 683.9,146.6 684.0,147.3 684.1,151.2 684.3,155.5 684.4,146.7 684.5,139.9 684.6,148.2 684.8,154.8 684.9,144.1 685.0,151.9 685.1,143.0 685.3,142.2 685.4,150.7 685.5,138.4 685.6,146.7 685.8,137.8 685.9,142.6 686.0,151.0 686.1,145.5 686.3,144.1 686.4,151.6 686.5,142.4 686.6,140.8 686.8,136.4 686.9,147.5 687.0,148.9 687.1,147.0 687.3,155.2 687.4,151.5 687.5,147.5 687.6,159.4 687.8,139.5 687.9,149.8 688.0,144.2 688.1,159.2 688.3,150.2 688.4,153.1 688.5,150.9 688.6,156.5 688.8,146.1 688.9,153.6 689.0,140.4 689.1,151.9 689.3,154.9 689.4,153.8 689.5,152.7 689.6,140.6 689.8,150.6 689.9,148.7 690.0,158.3 690.1,153.5 690.3,154.3 690.4,157.9 690.5,154.1 690.6,144.7 690.8,147.7 690.9,142.5 691.0,158.6 691.1,151.5 691.3,146.1 691.4,155.6 691.5,150.9 691.6,151.8 691.8,160.5 691.9,144.3 692.0,146.6 692.1,154.0 692.3,153.5 692.4,160.9 692.5,153.5 692.6,158.3 692.8,164.8 692.9,149.3 693.0,149.3 693.1,153.2 693.3,156.0 693.4,151.8 693.5,158.9 693.6,154.0 693.8,163.8 693.9,161.0 694.0,162.1 694.1,160.1 694.3,160.3 694.4,151.6 694.5,158.8 694.6,151.5 694.8,166.8 694.9,155.2 695.0,156.6 695.1,159.1 695.3,170.8 695.4,156.6 695.5,170.1 695.6,163.1 695.8,171.8 695.9,161.9 696.0,160.7 696.1,163.4 696.3,161.3 696.4,160.8 696.5,167.6 696.6,162.6 696.8,169.0 696.9,168.0 697.0,169.7 697.1,172.9 697.3,170.9 697.4,162.1 697.5,172.6 697.6,158.7 697.8,172.8 697.9,172.9 698.0,163.1 698.1,173.7 698.3,160.2 698.4,173.0 698.5,167.1 698.6,168.0 698.8,168.7 698.9,167.3 699.0,173.3 699.1,170.4 699.3,170.9 699.4,171.9 699.5,170.4 699.6,167.7 699.8,176.0 699.9,177.8 700.0,168.0 700.1,179.6 700.3,181.8 700.4,176.5 700.5,184.2 700.6,166.1 700.8,185.0 700.9,173.2 701.0,179.8 701.1,173.0 701.3,190.9 701.4,177.0 701.5,184.1 701.6,170.1 701.8,178.0 701.9,183.4 702.0,179.6 702.1,174.7 702.3,192.9 702.4,168.0 702.5,181.9 702.6,179.8 702.8,178.1 702.9,187.8 703.0,184.1 703.1,180.1 703.3,188.9 703.4,181.4 703.5,188.3 703.6,196.9 703.8,185.6 703.9,205.0 704.0,175.5 704.1,197.2 704.3,191.3 704.4,185.7 704.5,182.5 704.6,169.9 704.8,178.7 704.9,180.2 705.0,165.1 705.1,166.7 705.3,174.2 705.4,192.0 705.5,177.2 705.6,161.0 705.8,183.3 705.9,179.4 706.0,177.1 706.1,166.8 706.3,169.5 706.4,183.3 706.5,176.7 706.6,181.1 706.8,156.5 706.9,157.8 707.0,164.2 707.1,161.0 707.3,162.0 707.4,168.5 707.5,170.6 707.6,157.3 707.8,166.6 707.9,167.7 708.0,164.7 708.1,169.7 708.3,168.6 708.4,159.2 708.5,163.5 708.6,163.9 708.8,156.9 708.9,161.2 709.0,166.8 709.1,163.7 709.3,161.9 709.4,170.3 709.5,164.3 709.6,165.6 709.8,157.2 709.9,166.4 710.0,158.8 710.1,159.8 710.3,158.5 710.4,154.5 710.5,162.6 710.6,154.4 710.8,163.4 710.9,156.0 711.0,164.9 711.1,160.6 711.3,164.1 711.4,153.9 711.5,161.1 711.6,161.6 711.8,159.3 711.9,157.4 712.0,155.0 712.1,149.1 712.3,159.5 712.4,151.3 712.5,152.0 712.6,158.2 712.8,147.8 712.9,152.6 713.0,159.0 713.1,155.7 713.3,154.4 713.4,151.6 713.5,155.8 713.6,147.6 713.8,152.0 713.9,158.5 714.0,150.0 714.1,153.8 714.3,152.5 714.4,147.8 714.5,144.3 714.6,149.4 714.8,149.9 714.9,143.8 715.0,153.9 715.1,156.1 715.3,158.0 715.4,156.6 715.5,148.1 715.6,162.7 715.8,157.0 715.9,159.3 716.0,148.0 716.1,161.5 716.3,166.2 716.4,158.5 716.5,162.1 716.6,152.6 716.8,156.9 716.9,155.8 717.0,160.0 717.1,157.3 717.3,158.0 717.4,151.5 717.5,150.0 717.6,156.8 717.8,167.7 717.9,151.5 718.0,160.3 718.1,164.9 718.3,153.9 718.4,148.3 718.5,159.9 718.6,157.6 718.8,153.0 718.9,166.9 719.0,162.4 719.1,158.2 719.3,150.0 719.4,166.3 719.5,165.7 719.6,164.0 719.8,169.3 719.9,152.1 720.0,152.4 720.1,165.0 720.3,162.3 720.4,159.0 720.5,156.1 720.6,166.7 720.8,161.5 720.9,166.0 721.0,151.6 721.1,160.4 721.3,163.2 721.4,167.8 721.5,147.7 721.6,158.8 721.8,155.4 721.9,160.6 722.0,159.6 722.1,164.2 722.3,166.9 722.4,160.8 722.5,155.5 722.6,165.0 722.8,171.0 722.9,151.4 723.0,121.7 723.1,176.6 723.3,166.4 723.4,178.3 723.5,155.5 723.6,158.4 723.8,161.6 723.9,162.5 724.0,151.3 724.1,170.6 724.3,151.8 724.4,149.1 724.5,164.0 724.6,156.1 724.8,167.0 724.9,156.0 725.0,154.8 725.1,151.2 725.3,156.1 725.4,163.8 725.5,180.4 725.6,171.6 725.8,162.0 725.9,177.0 726.0,169.0 726.1,153.8 726.3,154.8 726.4,156.8 726.5,163.8 726.6,168.4 726.8,163.9 726.9,164.7 727.0,162.0 727.1,170.1 727.3,174.6 727.4,161.8 727.5,178.2 727.6,163.8 727.8,167.9 727.9,181.5 728.0,174.3 728.1,170.7 728.3,158.1 728.4,171.4 728.5,168.9 728.6,170.2 728.8,180.0 728.9,168.7 729.0,186.2 729.1,173.8 729.3,175.2 729.4,172.0 729.5,175.6 729.6,185.8 729.8,177.6 729.9,168.1 730.0,170.3 730.1,186.6 730.3,182.0 730.4,170.7 730.5,177.2 730.6,179.6 730.8,184.2 730.9,170.6 731.0,180.3 731.1,166.8 731.3,197.6 731.4,176.5 731.5,191.6 731.6,176.5 731.8,193.0 731.9,179.7 732.0,187.8 732.1,173.0 732.3,156.6 732.4,155.6 732.5,168.4 732.6,188.3 732.8,169.5 732.9,165.6 733.0,175.2 733.1,165.5 733.3,164.7 733.4,169.2 733.5,170.3 733.6,160.9 733.8,158.2 733.9,178.5 734.0,156.5 734.1,155.5 734.3,160.9 734.4,160.6 734.5,163.5 734.6,173.2 734.8,170.4 734.9,159.0 735.0,159.6 735.1,165.5 735.3,156.5 735.4,158.1 735.5,148.3 735.6,158.5 735.8,154.6 735.9,144.6 736.0,156.2 736.1,167.4 736.3,156.3 736.4,147.7 736.5,162.4 736.6,155.4 736.8,153.8 736.9,163.1 737.0,158.4 737.1,164.9 737.3,145.2 737.4,147.6 737.5,149.8 737.6,151.5 737.8,141.0 737.9,151.5 738.0,138.6 738.1,144.5 738.3,146.5 738.4,149.9 738.5,150.1 738.6,141.6 738.8,149.5 738.9,148.9 739.0,145.6 739.1,146.1 739.3,141.7 739.4,159.0 739.5,155.4 739.6,146.5 739.8,154.4 739.9,137.1 740.0,139.5 740.1,140.7 740.3,146.3 740.4,140.0 740.5,135.0 740.6,130.3 740.8,133.3 740.9,149.1 741.0,145.5 741.1,130.8 741.3,156.1 741.4,137.9 741.5,138.0 741.6,140.2 741.8,141.8 741.9,138.5 742.0,141.1 742.1,147.4 742.3,148.4 742.4,136.0 742.5,139.9 742.6,135.3 742.8,137.7 742.9,140.3 743.0,138.6 743.1,145.7 743.3,133.7 743.4,143.9 743.5,146.6 743.6,138.4 743.8,138.2 743.9,145.5 744.0,137.8 744.1,138.0 744.3,142.2 744.4,126.0 744.5,146.0 744.6,142.4 744.8,145.0 744.9,129.5 745.0,137.0 745.1,143.7 745.3,144.6 745.4,135.5 745.5,136.6 745.6,152.1 745.8,142.1 745.9,149.7 746.0,129.4 746.1,143.3 746.3,135.5 746.4,135.9 746.5,149.7 746.6,131.4 746.8,125.4 746.9,134.7 747.0,138.5 747.1,140.8 747.3,143.8 747.4,149.8 747.5,144.5 747.6,153.3 747.8,148.7 747.9,145.5 748.0,141.5 748.1,151.3 748.3,141.4 748.4,149.5 748.5,144.2 748.6,141.1 748.8,148.6 748.9,149.1 749.0,147.3 749.1,152.0 749.3,147.0 749.4,142.8 749.5,147.6 749.6,157.2 749.8,143.0 749.9,139.2 750.0,148.7 750.1,144.1 750.3,156.0 750.4,150.7 750.5,145.8 750.6,150.1 750.8,146.2 750.9,153.2 751.0,155.5 751.1,157.1 751.3,156.6 751.4,151.8 751.5,157.7 751.6,154.7 751.8,146.7 751.9,159.3 752.0,149.0 752.1,150.6 752.3,146.3 752.4,150.0 752.5,145.4 752.6,148.6 752.8,150.7 752.9,149.3 753.0,153.5 753.1,159.6 753.3,154.6 753.4,158.7 753.5,162.5 753.6,154.1 753.8,165.3 753.9,157.7 754.0,158.1 754.1,160.7 754.3,166.6 754.4,152.7 754.5,165.1 754.6,157.5 754.8,161.1 754.9,155.1 755.0,150.4 755.1,168.7 755.3,166.7 755.4,156.0 755.5,157.2 755.6,155.7 755.8,163.3 755.9,175.8 756.0,163.5 756.1,153.6 756.3,170.0 756.4,159.4 756.5,155.1 756.6,168.9 756.8,166.6 756.9,168.2 757.0,172.3 757.1,174.5 757.3,154.8 757.4,169.7 757.5,177.2 757.6,178.4 757.8,161.9 757.9,156.3 758.0,162.1 758.1,174.3 758.3,170.1 758.4,179.0 758.5,171.3 758.6,162.5 758.8,164.2 758.9,172.3 759.0,182.3 759.1,188.9 759.3,165.4 759.4,179.9 759.5,174.9 759.6,163.2 759.8,162.8 759.9,194.1 760.0,171.2 760.1,198.9 760.3,181.7 760.4,179.9 760.5,183.2 760.6,164.8 760.8,169.2 760.9,176.0 761.0,176.3 761.1,163.5 761.3,152.0 761.4,180.1 761.5,179.2 761.6,179.5 761.8,167.3 761.9,148.9 762.0,163.2 762.1,186.0 762.3,169.2 762.4,168.0 762.5,148.5 762.6,157.8 762.8,173.2 762.9,166.2 763.0,161.2 763.1,173.6 763.3,167.8 763.4,165.6 763.5,158.6 763.6,163.2 763.8,167.9 763.9,161.0 764.0,147.2 764.1,155.7 764.3,154.3 764.4,159.3 764.5,165.3 764.6,154.2 764.8,150.9 764.9,159.1 765.0,156.4 765.1,146.9 765.3,155.5 765.4,153.2 765.5,154.0 765.6,140.2 765.8,137.6 765.9,139.7 766.0,138.1 766.1,156.6 766.3,156.4 766.4,139.9 766.5,159.0 766.6,140.3 766.8,142.3 766.9,160.6 767.0,138.2 767.1,151.8 767.3,152.3 767.4,153.9 767.5,150.4 767.6,147.2 767.8,155.8 767.9,144.2 768.0,145.1 768.1,146.8 768.3,141.4 768.4,142.4 768.5,151.3 768.6,153.8 768.8,146.5 768.9,141.2 769.0,138.2 769.1,138.6 769.3,138.4 769.4,137.5 769.5,139.6 769.6,138.3 769.8,146.8 769.9,129.6 770.0,136.0 770.1,144.1 770.3,135.4 770.4,135.1 770.5,141.7 770.6,136.9 770.8,130.2 770.9,138.1 771.0,141.4 771.1,123.8 771.3,143.0 771.4,122.8 771.5,141.0 771.6,125.1 771.8,136.9 771.9,134.5 772.0,142.8 772.1,133.7 772.3,130.6 772.4,127.6 772.5,135.3 772.6,131.2 772.8,140.4 772.9,136.3 773.0,143.2 773.1,138.4 773.3,133.5 773.4,131.1 773.5,137.0 773.6,138.1 773.8,118.8 773.9,134.3 774.0,127.0 774.1,133.1 774.3,137.3 774.4,111.9 774.5,128.2 774.6,138.7 774.8,111.9 774.9,110.7 775.0,129.0 775.1,123.6 775.3,137.8 775.4,138.2 775.5,129.9 775.6,143.0 775.8,143.5 775.9,132.1 776.0,138.1 776.1,138.5 776.3,146.3 776.4,138.2 776.5,137.3 776.6,132.6 776.8,138.0 776.9,145.4 777.0,131.5 777.1,131.5 777.3,124.6 777.4,147.8 777.5,129.8 777.6,129.1 777.8,128.8 777.9,142.9 778.0,136.6 778.1,119.4 778.3,135.3 778.4,148.3 778.5,134.2 778.6,135.7 778.8,148.4 778.9,133.4 779.0,133.9 779.1,140.2 779.3,148.7 779.4,139.1 779.5,125.1 779.6,135.4 779.8,135.2 779.9,142.1 780.0,135.1 780.1,138.9 780.3,129.8 780.4,130.3 780.5,139.7 780.6,150.7 780.8,133.6 780.9,129.9 781.0,149.0 781.1,144.1 781.3,147.3 781.4,141.2 781.5,144.5 781.6,142.6 781.8,143.7 781.9,156.2 782.0,141.8 782.1,142.3 782.3,145.5 782.4,144.6 782.5,157.7 782.6,145.7 782.8,149.8 782.9,139.3 783.0,151.7 783.1,152.9 783.3,153.4 783.4,138.6 783.5,145.6 783.6,137.5 783.8,162.0 783.9,150.4 784.0,162.6 784.1,164.2 784.3,159.4 784.4,148.6 784.5,151.9 784.6,159.1 784.8,141.4 784.9,164.4 785.0,165.7 785.1,162.1 785.3,154.5 785.4,159.6 785.5,146.0 785.6,151.2 785.8,155.4 785.9,153.6 786.0,172.3 786.1,163.8 786.3,146.4 786.4,170.3 786.5,165.9 786.6,160.7 786.8,157.3 786.9,178.1 787.0,166.1 787.1,166.9 787.3,152.1 787.4,161.0 787.5,173.9 787.6,168.0 787.8,163.6 787.9,182.9 788.0,154.6 788.1,152.6 788.3,171.9 788.4,156.4 788.5,155.1 788.6,169.0 788.8,173.3 788.9,163.1 789.0,173.7 789.1,165.2 789.3,150.2 789.4,176.4 789.5,155.4 789.6,175.1 789.8,160.6 789.9,161.8 790.0,158.3 790.1,153.8 790.3,165.6 790.4,173.2 790.5,169.9 790.6,155.5 790.8,163.1 790.9,166.8 791.0,162.8 791.1,148.3 791.3,171.1 791.4,151.6 791.5,150.5 791.6,157.3 791.8,157.6 791.9,151.3 792.0,145.2 792.1,145.3 792.3,153.9 792.4,139.4 792.5,161.2 792.6,157.1 792.8,153.3 792.9,152.6 793.0,144.1 793.1,145.8 793.3,156.1 793.4,145.1 793.5,160.1 793.6,155.3 793.8,152.3 793.9,144.9 794.0,139.2 794.1,144.4 794.3,137.8 794.4,141.7 794.5,141.2 794.6,139.2 794.8,151.2 794.9,135.6 795.0,136.1 795.1,149.8 795.3,142.4 795.4,143.6 795.5,134.8 795.6,141.3 795.8,148.0 795.9,137.9 796.0,140.3 796.1,145.6 796.3,140.5 796.4,144.6 796.5,126.2 796.6,121.5 796.8,125.6 796.9,136.4 797.0,127.9 797.1,118.5 797.3,146.1 797.4,142.1 797.5,127.3 797.6,126.0 797.8,125.2 797.9,136.6 798.0,134.0 798.1,131.1 798.3,141.5 798.4,122.8 798.5,119.4 798.6,129.5 798.8,129.0 798.9,130.1 799.0,132.6 799.1,116.0 799.3,142.3 799.4,113.8 799.5,131.5 799.6,131.5 799.8,135.4 799.9,130.2 800.0,121.3 800.1,126.5 800.3,116.5 800.4,126.5 800.5,125.9 800.6,112.1 800.8,142.7 800.9,122.4 801.0,131.8 801.1,138.1 801.3,126.8 801.4,123.6 801.5,117.6 801.6,120.6 801.8,120.6 801.9,125.2 802.0,133.0 802.1,127.9 802.3,138.6 802.4,129.4 802.5,127.9 802.6,110.5 802.8,124.4 802.9,127.8 803.0,113.3 803.1,124.9 803.3,119.5 803.4,123.4 803.5,124.7 803.6,122.6 803.8,124.4 803.9,127.6 804.0,127.1 804.1,119.0 804.3,131.8 804.4,124.8 804.5,127.3 804.6,138.6 804.8,138.0 804.9,139.2 805.0,122.3 805.1,127.6 805.3,128.2 805.4,125.0 805.5,122.9 805.6,131.0 805.8,133.6 805.9,139.2 806.0,119.6 806.1,127.9 806.3,117.7 806.4,121.7 806.5,108.2 806.6,139.2 806.8,110.4 806.9,124.7 807.0,108.7 807.1,120.9 807.3,115.0 807.4,107.8 807.5,114.7 807.6,121.7 807.8,122.6 807.9,107.6 808.0,129.0 808.1,120.8 808.3,113.7 808.4,136.6 808.5,117.4 808.6,125.4 808.8,136.6 808.9,123.9 809.0,122.4 809.1,131.7 809.3,119.5 809.4,123.9 809.5,121.9 809.6,119.8 809.8,129.8 809.9,125.6 810.0,135.6 810.1,126.6 810.3,110.6 810.4,126.6 810.5,120.5 810.6,120.7 810.8,131.6 810.9,126.6 811.0,108.6 811.1,139.2 811.3,121.6 811.4,108.1 811.5,119.8 811.6,127.2 811.8,112.7 811.9,115.1 812.0,106.4 812.1,125.9 812.3,118.5 812.4,138.5 812.5,126.5 812.6,126.4 812.8,105.8 812.9,134.2 813.0,111.2 813.1,128.1 813.3,130.6 813.4,118.7 813.5,115.4 813.6,138.3 813.8,145.0 813.9,131.9 814.0,145.7 814.1,133.4 814.3,128.0 814.4,126.5 814.5,119.6 814.6,139.3 814.8,126.6 814.9,126.5 815.0,135.7 815.1,137.2 815.3,127.2 815.4,135.7 815.5,133.1 815.6,136.0 815.8,134.2 815.9,132.5 816.0,121.5 816.1,132.1 816.3,146.6 816.4,135.2 816.5,139.5 816.6,143.0 816.8,130.0 816.9,138.8 817.0,135.9 817.1,141.3 817.3,143.5 817.4,138.8 817.5,136.2 817.6,147.1 817.8,139.4 817.9,123.7 818.0,150.7 818.1,142.8 818.3,132.1 818.4,137.6 818.5,128.0 818.6,139.7 818.8,121.9 818.9,149.5 819.0,143.6 819.1,126.7 819.3,144.3 819.4,120.8 819.5,131.9 819.6,126.0 819.8,147.3 819.9,147.6 820.0,120.9 820.1,141.1 820.3,145.6 820.4,134.3 820.5,164.6 820.6,164.6 820.8,157.8 820.9,159.9 821.0,133.6 821.1,122.4 821.3,154.7 821.4,112.0 821.5,136.8 821.6,117.4 821.8,136.5 821.9,128.7 822.0,118.5 822.1,143.6 822.3,151.4 822.4,117.0 822.5,143.9 822.6,136.2 822.8,125.6 822.9,127.3 823.0,141.5 823.1,148.7 823.3,129.8 823.4,109.1 823.5,143.4 823.6,137.9 823.8,108.5 823.9,125.4 824.0,131.7 824.1,127.8 824.3,135.2 824.4,119.7 824.5,139.0 824.6,107.2 824.8,134.7 824.9,122.5 825.0,128.1 825.1,137.6 825.3,146.1 825.4,116.2 825.5,127.4 825.6,115.8 825.8,128.6 825.9,120.7 826.0,113.0 826.1,140.8 826.3,131.3 826.4,126.9 826.5,142.6 826.6,106.7 826.8,131.1 826.9,145.5 827.0,121.7 827.1,115.3 827.3,116.0 827.4,140.3 827.5,138.1 827.6,129.0 827.8,136.1 827.9,116.7 828.0,119.9 828.1,134.4 828.3,112.9 828.4,126.7 828.5,123.6 828.6,113.5 828.8,126.0 828.9,108.0 829.0,115.4 829.1,101.0 829.3,107.6 829.4,112.0 829.5,126.9 829.6,122.5 829.8,107.0 829.9,118.9 830.0,144.1 830.1,122.5 830.3,126.4 830.4,99.7 830.5,115.2 830.6,134.9 830.8,104.7 830.9,111.2 831.0,113.2 831.1,120.3 831.3,128.5 831.4,102.9 831.5,129.5 831.6,102.9 831.8,112.7 831.9,126.6 832.0,110.6 832.1,114.1 832.3,117.4 832.4,138.4 832.5,113.2 832.6,132.1 832.8,140.4 832.9,119.7 833.0,116.0 833.1,123.4 833.3,114.8 833.4,120.4 833.5,114.8 833.6,111.6 833.8,111.0 833.9,132.2 834.0,119.4 834.1,115.8 834.3,134.6 834.4,124.7 834.5,123.7 834.6,120.6 834.8,127.3 834.9,125.1 835.0,124.5 835.1,127.0 835.3,135.4 835.4,127.7 835.5,140.7 835.6,138.3 835.8,121.9 835.9,122.7 836.0,120.4 836.1,125.3 836.3,138.2 836.4,129.7 836.5,128.8 836.6,134.2 836.8,118.9 836.9,136.9 837.0,133.0 837.1,140.7 837.3,133.0 837.4,144.3 837.5,145.2 837.6,134.3 837.8,142.0 837.9,130.1 838.0,132.1 838.1,129.3 838.3,137.1 838.4,129.2 838.5,130.6 838.6,138.3 838.8,128.4 838.9,145.9 839.0,133.7 839.1,139.8 839.3,139.7 839.4,151.1 839.5,148.1 839.6,141.6 839.8,139.1 839.9,151.5 840.0,143.7 840.1,136.6 840.3,146.7 840.4,151.3 840.5,146.2 840.6,147.4 840.8,159.5 840.9,143.5 841.0,163.4 841.1,160.8 841.3,161.8 841.4,138.0 841.5,151.8 841.6,148.4 841.8,162.9 841.9,157.6 842.0,155.3 842.1,156.6 842.3,151.2 842.4,137.6 842.5,162.1 842.6,131.7 842.8,152.4 842.9,152.4 843.0,147.3 843.1,154.1 843.3,145.1 843.4,152.0 843.5,147.1 843.6,138.5 843.8,153.1 843.9,139.6 844.0,149.8 844.1,135.2 844.3,146.1 844.4,148.7 844.5,153.8 844.6,134.1 844.8,138.7 844.9,143.2 845.0,134.1 845.1,148.3 845.3,159.4 845.4,148.7 845.5,148.0 845.6,135.0 845.8,147.2 845.9,146.8 846.0,158.5 846.1,138.3 846.3,152.3 846.4,137.8 846.5,138.1 846.6,136.5 846.8,142.6 846.9,126.3 847.0,136.2 847.1,152.7 847.3,123.0 847.4,146.8 847.5,145.5 847.6,134.3 847.8,130.8 847.9,148.1 848.0,134.2 848.1,139.9 848.3,134.8 848.4,126.2 848.5,145.8 848.6,142.1 848.8,127.1 848.9,145.7 849.0,123.6 849.1,123.0 849.3,142.6 849.4,130.3 849.5,134.1 849.6,148.7 849.8,123.4 849.9,139.0 850.0,129.2 850.1,133.6 850.3,130.3 850.4,124.7 850.5,132.3 850.6,122.9 850.8,131.5 850.9,122.0 851.0,128.1 851.1,131.7 851.3,116.9 851.4,129.3 851.5,136.3 851.6,130.5 851.8,138.0 851.9,119.3 852.0,134.2 852.1,131.4 852.3,111.3 852.4,127.9 852.5,136.1 852.6,127.0 852.8,127.7 852.9,125.9 853.0,125.5 853.1,117.0 853.3,120.2 853.4,109.9 853.5,143.5 853.6,125.8 853.8,127.8 853.9,131.3 854.0,130.0 854.1,124.5 854.3,110.7 854.4,113.9 854.5,139.8 854.6,128.2 854.8,130.1 854.9,114.6 855.0,119.5 855.1,126.0 855.3,116.5 855.4,133.8 855.5,116.3 855.6,119.0 855.8,112.5 855.9,125.5 856.0,133.4 856.1,123.8 856.3,121.7 856.4,118.5 856.5,128.2 856.6,121.2 856.8,136.0 856.9,118.5 857.0,117.4 857.1,116.0 857.3,105.3 857.4,121.9 857.5,120.9 857.6,106.3 857.8,109.7 857.9,110.4 858.0,116.4 858.1,110.5 858.3,124.9 858.4,128.2 858.5,112.9 858.6,118.2 858.8,109.2 858.9,128.2 859.0,108.6 859.1,110.8 859.3,117.0 859.4,110.2 859.5,131.5 859.6,114.8 859.8,114.2 859.9,108.0 860.0,115.0 860.1,110.7 860.3,111.9 860.4,122.8 860.5,110.2 860.6,118.0 860.8,109.7 860.9,122.7 861.0,108.5 861.1,106.7 861.3,112.5 861.4,124.9 861.5,111.1 861.6,107.1 861.8,113.2 861.9,108.3 862.0,116.7 862.1,108.4 862.3,117.2 862.4,122.3 862.5,98.5 862.6,128.0 862.8,117.4 862.9,131.4 863.0,126.3 863.1,112.8 863.3,122.3 863.4,109.1 863.5,114.0 863.6,115.2 863.8,109.3 863.9,119.0 864.0,115.8 864.1,133.0 864.3,123.5 864.4,115.1 864.5,111.6 864.6,113.0 864.8,112.0 864.9,111.7 865.0,118.2 865.1,107.1 865.3,116.0 865.4,122.7 865.5,114.1 865.6,110.0 865.8,115.3 865.9,126.7 866.0,113.7 866.1,132.9 866.3,106.8 866.4,114.1 866.5,125.9 866.6,132.2 866.8,119.8 866.9,108.2 867.0,119.6 867.1,114.8 867.3,116.8 867.4,119.6 867.5,118.0 867.6,122.8 867.8,124.6 867.9,121.3 868.0,109.6 868.1,123.0 868.3,110.6 868.4,125.7 868.5,122.3 868.6,118.8 868.8,140.8 868.9,139.3 869.0,137.2 869.1,129.1 869.3,124.2 869.4,131.6 869.5,140.4 869.6,128.3 869.8,128.3 869.9,125.6 870.0,129.6 870.1,136.3 870.3,124.6 870.4,138.4 870.5,132.7 870.6,145.1 870.8,134.1 870.9,141.9 871.0,127.1 871.1,147.1 871.3,135.4 871.4,134.8 871.5,146.0 871.6,137.4 871.8,128.5 871.9,141.4 872.0,141.5 872.1,138.2 872.3,135.7 872.4,128.4 872.5,151.2 872.6,137.3 872.8,143.3 872.9,137.6 873.0,136.1 873.1,143.3 873.3,134.6 873.4,148.7 873.5,128.6 873.6,146.5 873.8,151.7 873.9,137.9 874.0,158.5 874.1,148.8 874.3,137.2 874.4,138.6 874.5,138.5 874.6,155.9 874.8,132.3 874.9,137.4 875.0,134.6 875.1,133.4 875.3,129.9 875.4,131.7 875.5,137.9 875.6,145.5 875.8,148.6 875.9,125.2 876.0,127.3 876.1,134.2 876.3,126.5 876.4,127.7 876.5,131.4 876.6,128.5 876.8,126.0 876.9,133.3 877.0,125.7 877.1,128.9 877.3,132.6 877.4,134.9 877.5,130.9 877.6,136.5 877.8,129.7 877.9,118.5 878.0,138.4 878.1,141.1 878.3,133.6 878.4,138.9 878.5,135.3 878.6,124.3 878.8,131.6 878.9,122.2 879.0,122.8 879.1,130.7 879.3,127.1 879.4,121.6 879.5,115.9 879.6,131.8 879.8,125.8 879.9,126.6 880.0,118.8 880.1,119.4 880.3,124.6 880.4,111.2 880.5,133.7 880.6,124.6 880.8,132.5 880.9,131.4 881.0,119.5 881.1,127.6 881.3,114.9 881.4,116.2 881.5,133.5 881.6,118.8 881.8,116.6 881.9,126.3 882.0,122.6 882.1,130.0 882.3,111.8 882.4,119.8 882.5,112.9 882.6,121.7 882.8,119.1 882.9,113.5 883.0,106.9 883.1,109.9 883.3,128.4 883.4,117.6 883.5,111.6 883.6,121.8 883.8,111.1 883.9,127.6 884.0,127.1 884.1,120.1 884.3,115.0 884.4,104.6 884.5,123.4 884.6,134.7 884.8,120.7 884.9,114.5 885.0,125.4 885.1,115.5 885.3,108.5 885.4,117.6 885.5,123.4 885.6,103.1 885.8,127.0 885.9,131.9 886.0,117.9 886.1,113.9 886.3,105.8 886.4,122.4 886.5,115.3 886.6,128.1 886.8,131.0 886.9,128.2 887.0,118.9 887.1,101.3 887.3,128.7 887.4,112.8 887.5,112.7 887.6,126.3 887.8,120.9 887.9,107.3 888.0,113.5 888.1,113.9 888.3,115.0 888.4,105.6 888.5,129.7 888.6,114.9 888.8,99.7 888.9,125.6 889.0,133.0 889.1,122.6 889.3,109.6 889.4,112.3 889.5,123.9 889.6,130.8 889.8,103.4 889.9,132.7 890.0,111.4 890.1,114.7 890.3,112.7 890.4,121.5 890.5,114.8 890.6,116.1 890.8,108.7 890.9,128.9 891.0,119.6 891.1,116.2 891.3,132.2 891.4,122.1 891.5,128.0 891.6,114.5 891.8,117.9 891.9,115.6 892.0,123.9 892.1,119.2 892.3,103.4 892.4,121.5 892.5,115.5 892.6,119.7 892.8,126.1 892.9,116.0 893.0,124.2 893.1,119.2 893.3,118.6 893.4,115.2 893.5,119.2 893.6,117.6 893.8,128.4 893.9,103.5 894.0,127.2 894.1,121.2 894.3,111.7 894.4,130.7 894.5,122.7 894.6,129.3 894.8,138.1 894.9,126.4 895.0,107.3 895.1,107.5 895.3,124.0 895.4,112.2 895.5,144.5 895.6,124.2 895.8,107.0 895.9,106.8 896.0,120.3 896.1,107.5 896.3,131.0 896.4,108.1 896.5,135.2 896.6,122.0 896.8,137.8 896.9,115.8 897.0,122.9 897.1,137.9 897.3,112.4 897.4,134.1 897.5,141.6 897.6,119.0 897.8,127.0 897.9,143.8 898.0,142.2 898.1,143.6 898.3,128.3 898.4,126.1 898.5,128.1 898.6,126.5 898.8,137.1 898.9,137.4 899.0,134.7 899.1,124.8 899.3,137.3 899.4,135.0 899.5,133.0 899.6,141.3 899.8,128.9 899.9,135.8 900.0,151.8 900.1,130.4 900.3,143.1 900.4,141.4 900.5,147.1 900.6,144.9 900.8,129.1 900.9,148.0 901.0,128.9 901.1,122.4 901.3,129.3 901.4,128.2 901.5,123.1 901.6,138.2 901.8,133.8 901.9,134.1 902.0,116.8 902.1,143.3 902.3,131.3 902.4,136.7 902.5,129.2 902.6,128.9 902.8,131.7 902.9,126.0 903.0,136.0 903.1,119.1 903.3,107.0 903.4,119.4 903.5,121.8 903.6,125.0 903.8,121.7 903.9,124.1 904.0,123.8 904.1,118.0 904.3,123.8 904.4,123.5 904.5,111.9 904.6,103.5 904.8,119.6 904.9,121.5 905.0,125.7 905.1,125.6 905.3,118.7 905.4,125.4 905.5,111.4 905.6,112.1 905.8,126.3 905.9,106.0 906.0,115.1 906.1,106.7 906.3,105.2 906.4,129.5 906.5,100.4 906.6,128.7 906.8,110.6 906.9,108.0 907.0,100.5 907.1,115.5 907.3,118.6 907.4,118.1 907.5,105.8 907.6,126.4 907.8,114.5 907.9,117.0 908.0,117.3 908.1,117.0 908.3,109.5 908.4,114.9 908.5,105.9 908.6,113.8 908.8,103.5 908.9,99.4 909.0,106.2 909.1,109.7 909.3,105.0 909.4,108.1 909.5,105.8 909.6,110.6 909.8,124.6 909.9,114.8 910.0,116.8 910.1,117.9 910.3,116.6 910.4,112.7 910.5,116.1 910.6,117.9 910.8,107.3 910.9,106.2 911.0,108.2 911.1,107.7 911.3,111.9 911.4,103.9 911.5,104.0 911.6,109.4 911.8,111.4 911.9,106.1 912.0,93.9 912.1,104.5 912.3,113.7 912.4,104.3 912.5,116.9 912.6,101.4 912.8,103.5 912.9,112.5 913.0,115.5 913.1,102.5 913.3,117.9 913.4,106.5 913.5,108.1 913.6,120.4 913.8,111.7 913.9,102.1 914.0,103.3 914.1,95.5 914.3,113.5 914.4,106.5 914.5,119.8 914.6,114.0 914.8,102.9 914.9,97.1 915.0,99.5 915.1,113.6 915.3,100.9 915.4,112.3 915.5,112.9 915.6,115.2 915.8,103.6 915.9,107.7 916.0,89.1 916.1,103.9 916.3,100.8 916.4,109.0 916.5,83.8 916.6,97.1 916.8,117.1 916.9,101.2 917.0,95.0 917.1,100.2 917.3,97.8 917.4,95.7 917.5,104.4 917.6,101.1 917.8,109.2 917.9,115.8 918.0,80.1 918.1,101.4 918.3,111.8 918.4,85.5 918.5,114.6 918.6,88.3 918.8,94.6 918.9,99.6 919.0,87.5 919.1,94.1 919.3,101.4 919.4,103.9 919.5,88.3 919.6,84.2 919.8,107.0 919.9,86.9 920.0,104.8 920.1,106.1 920.3,109.2 920.4,97.8 920.5,97.7 920.6,119.1 920.8,102.7 920.9,95.1 921.0,92.9 921.1,102.2 921.3,119.2 921.4,110.9 921.5,97.7 921.6,93.9 921.8,100.7 921.9,106.0 922.0,108.8 922.1,110.8 922.3,116.2 922.4,96.3 922.5,94.9 922.6,107.2 922.8,113.0 922.9,104.0 923.0,111.0 923.1,108.4 923.3,118.7 923.4,107.9 923.5,106.2 923.6,114.3 923.8,118.5 923.9,105.7 924.0,110.5 924.1,106.0 924.3,103.2 924.4,127.6 924.5,108.4 924.6,111.1 924.8,111.5 924.9,108.0 925.0,114.0 925.1,114.8 925.3,119.2 925.4,112.0 925.5,105.4 925.6,116.4 925.8,123.8 925.9,129.0 926.0,118.2 926.1,117.2 926.3,113.7 926.4,132.9 926.5,115.8 926.6,117.0 926.8,121.4 926.9,120.3 927.0,123.3 927.1,126.8 927.3,138.1 927.4,128.5 927.5,128.2 927.6,112.5 927.8,141.5 927.9,130.5 928.0,134.2 928.1,124.2 928.3,126.8 928.4,124.7 928.5,126.9 928.6,125.4 928.8,136.3 928.9,139.3 929.0,130.0 929.1,128.2 929.3,138.6 929.4,129.2 929.5,136.5 929.6,125.1 929.8,149.1 929.9,126.4 930.0,135.9 930.1,146.6 930.3,133.5 930.4,126.7 930.5,136.0 930.6,142.9 930.8,110.3 930.9,124.0 931.0,125.9 931.1,134.9 931.3,112.6 931.4,133.5 931.5,126.3 931.6,130.4 931.8,115.7 931.9,136.0 932.0,140.5 932.1,124.8 932.3,128.6 932.4,113.7 932.5,106.0 932.6,121.4 932.8,119.8 932.9,127.1 933.0,121.4 933.1,109.1 933.3,104.1 933.4,128.9 933.5,127.4 933.6,117.7 933.8,116.4 933.9,123.8 934.0,113.3 934.1,106.8 934.3,127.0 934.4,105.3 934.5,112.8 934.6,126.3 934.8,119.5 934.9,124.3 935.0,127.5 935.1,116.6 935.3,102.3 935.4,99.9 935.5,98.2 935.6,120.3 935.8,101.3 935.9,112.4 936.0,114.1 936.1,116.1 936.3,112.6 936.4,124.1 936.5,115.4 936.6,121.8 936.8,111.1 936.9,111.9 937.0,112.9 937.1,115.6 937.3,118.3 937.4,106.0 937.5,116.4 937.6,127.7 937.8,91.8 937.9,115.9 938.0,108.4 938.1,107.1 938.3,103.1 938.4,97.0 938.5,111.1 938.6,101.0 938.8,124.3 938.9,111.1 939.0,125.7 939.1,108.6 939.3,92.2 939.4,111.4 939.5,108.9 939.6,115.5 939.8,86.2 939.9,106.7 940.0,121.5 940.1,106.3 940.3,84.8 940.4,109.6 940.5,110.2 940.6,120.1 940.8,110.7 940.9,92.8 941.0,117.2 941.1,111.6 941.3,117.2 941.4,101.2 941.5,115.0 941.6,81.5 941.8,87.2 941.9,109.6 942.0,121.1 942.1,108.9 942.3,104.0 942.4,100.0 942.5,96.8 942.6,114.4 942.8,80.4 942.9,104.2 943.0,118.4 943.1,81.2 943.3,78.6 943.4,88.6 943.5,99.9 943.6,105.9 943.8,92.7 943.9,108.2 944.0,92.9 944.1,80.0 944.3,110.2 944.4,98.2 944.5,90.3 944.6,78.7 944.8,76.0 944.9,85.0 945.0,105.4 945.1,86.3 945.3,81.0 945.4,87.3 945.5,102.9 945.6,102.7 945.8,109.7 945.9,85.4 946.0,112.5 946.1,113.2 946.3,99.7 946.4,106.4 946.5,113.4 946.6,98.4 946.8,83.9 946.9,99.6 947.0,97.6 947.1,101.0 947.3,72.2 947.4,93.5 947.5,90.4 947.6,106.6 947.8,93.5 947.9,80.1 948.0,96.6 948.1,103.4 948.3,77.0 948.4,110.1 948.5,110.8 948.6,82.7 948.8,95.8 948.9,97.1 949.0,98.6 949.1,96.2 949.3,100.4 949.4,87.4 949.5,92.5 949.6,94.2 949.8,99.3 949.9,111.6 950.0,103.9 950.1,87.0 950.3,100.0 950.4,112.9 950.5,113.2 950.6,112.7 950.8,98.9 950.9,105.0 951.0,100.3 951.1,89.0 951.3,99.8 951.4,96.1 951.5,88.7 951.6,99.0 951.8,97.2 951.9,98.7 952.0,107.7 952.1,92.2 952.3,102.6 952.4,105.5 952.5,105.1 952.6,105.3 952.8,104.0 952.9,89.7 953.0,87.6 953.1,99.2 953.3,101.2 953.4,97.2 953.5,98.9 953.6,102.6 953.8,120.7 953.9,106.0 954.0,113.9 954.1,113.2 954.3,109.5 954.4,116.3 954.5,104.6 954.6,108.3 954.8,100.9 954.9,109.9 955.0,118.7 955.1,105.0 955.3,112.0 955.4,111.2 955.5,113.5 955.6,111.2 955.8,117.4 955.9,105.5 956.0,117.4 956.1,130.7 956.3,108.4 956.4,124.8 956.5,112.8 956.6,114.5 956.8,134.7 956.9,126.1 957.0,126.3 957.1,135.4 957.3,127.7 957.4,122.0 957.5,107.8 957.6,130.0 957.8,139.0 957.9,121.5 958.0,115.5 958.1,111.8 958.3,132.0 958.4,111.6 958.5,131.1 958.6,135.3 958.8,123.9 958.9,145.1 959.0,125.5 959.1,142.5 959.3,116.8 959.4,119.9 959.5,131.9 959.6,121.0 959.8,138.4 959.9,119.5 960.0,114.9 960.1,112.2 960.3,123.3 960.4,134.8 960.5,124.9 960.6,119.3 960.8,110.8 960.9,126.1 961.0,117.8 961.1,138.6 961.3,112.9 961.4,111.2 961.5,111.6 961.6,123.7 961.8,126.6 961.9,123.4 962.0,130.9 962.1,126.6 962.3,115.9 962.4,133.9 962.5,113.9 962.6,121.5 962.8,119.9 962.9,128.2 963.0,118.7 963.1,121.2 963.3,104.4 963.4,117.5 963.5,118.9 963.6,128.8 963.8,104.2 963.9,107.7 964.0,122.9 964.1,130.1 964.3,116.8 964.4,100.5 964.5,100.5 964.6,111.5 964.8,106.8 964.9,117.9 965.0,122.4 965.1,119.8 965.3,104.4 965.4,106.1 965.5,110.2 965.6,115.3 965.8,116.3 965.9,107.1 966.0,120.0 966.1,116.7 966.3,106.7 966.4,111.2 966.5,124.4 966.6,114.9 966.8,105.1 966.9,104.4 967.0,117.0 967.1,110.9 967.3,108.0 967.4,98.6 967.5,103.1 967.6,107.2 967.8,124.0 967.9,90.7 968.0,105.7 968.1,93.6 968.3,88.2 968.4,123.4 968.5,88.3 968.6,116.4 968.8,114.0 968.9,107.2 969.0,101.9 969.1,100.5 969.3,106.6 969.4,105.0 969.5,106.8 969.6,107.5 969.8,79.4 969.9,83.4 970.0,98.3 970.1,97.9 970.3,81.2 970.4,109.5 970.5,103.3 970.6,100.6 970.8,109.4 970.9,103.7 971.0,94.0 971.1,87.5 971.3,109.0 971.4,88.1 971.5,84.4 971.6,81.4 971.8,101.4 971.9,95.6 972.0,89.9 972.1,103.4 972.3,80.6 972.4,101.0 972.5,83.6 972.6,87.8 972.8,86.7 972.9,91.6 973.0,105.8 973.1,80.4 973.3,100.4 973.4,102.6 973.5,84.5 973.6,78.0 973.8,62.9 973.9,84.8 974.0,107.4 974.1,83.2 974.3,86.8 974.4,74.3 974.5,90.1 974.6,87.9 974.8,95.8 974.9,104.3 975.0,95.5 975.1,75.9 975.3,83.2 975.4,71.4 975.5,80.2 975.6,70.6 975.8,95.5 975.9,66.9 976.0,90.8 976.1,86.6 976.3,70.6 976.4,93.4 976.5,98.6 976.6,103.5 976.8,84.0 976.9,94.1 977.0,89.0 977.1,101.3 977.3,87.5 977.4,98.6 977.5,78.2 977.6,81.9 977.8,78.0 977.9,87.1 978.0,76.9 978.1,90.8 978.3,84.0 978.4,76.3 978.5,92.3 978.6,101.3 978.8,95.5 978.9,94.1 979.0,88.8 979.1,89.6 979.3,76.2 979.4,109.2 979.5,75.9 979.6,83.8 979.8,82.8 979.9,82.9 980.0,94.9 980.1,86.9 980.3,89.0 980.4,97.9 980.5,83.9 980.6,85.2 980.8,99.8 980.9,91.6 981.0,80.1 981.1,102.3 981.3,84.6 981.4,97.7 981.5,98.4 981.6,101.3 981.8,101.6 981.9,96.1 982.0,99.8 982.1,86.2 982.3,103.3 982.4,85.6 982.5,108.2 982.6,96.0 982.8,110.3 982.9,102.8 983.0,108.1 983.1,100.3 983.3,102.6 983.4,109.2 983.5,111.0 983.6,102.8 983.8,91.1 983.9,108.1 984.0,113.3 984.1,118.5 984.3,106.2 984.4,117.6 984.5,94.1 984.6,106.3 984.8,104.9 984.9,125.4 985.0,109.1 985.1,126.9 985.3,112.7 985.4,109.3 985.5,108.5 985.6,106.9 985.8,115.9 985.9,116.7 986.0,107.1 986.1,132.6 986.3,126.8 986.4,115.0 986.5,123.3 986.6,117.4 986.8,114.8 986.9,112.0 987.0,114.4 987.1,138.6 987.3,138.6 987.4,121.4 987.5,120.0 987.6,135.2 987.8,115.8 987.9,132.6 988.0,109.8 988.1,130.4 988.3,134.6 988.4,136.2 988.5,144.9 988.6,141.6 988.8,124.6 988.9,114.9 989.0,110.4 989.1,119.2 989.3,130.0 989.4,125.9 989.5,153.2 989.6,138.6 989.8,139.0 989.9,136.1 990.0,132.9 990.1,140.3 990.3,149.9 990.4,137.9 990.5,149.1 990.6,155.6 990.8,141.5 990.9,148.2 991.0,144.5 991.1,155.7 991.3,152.5 991.4,144.9 991.5,165.0 991.6,157.7 991.8,144.5 991.9,125.5 992.0,162.3 992.1,142.5 992.3,147.8 992.4,140.3 992.5,133.4 992.6,121.8 992.8,135.9 992.9,132.5 993.0,140.7 993.1,129.9 993.3,132.1 993.4,141.1 993.5,131.1 993.6,123.2 993.8,135.4 993.9,125.3 994.0,115.7 994.1,114.6 994.3,116.1 994.4,118.7 994.5,103.2 994.6,107.2 994.8,116.3 994.9,117.9 995.0,119.8 995.1,127.7 995.3,107.9 995.4,137.2 995.5,122.9 995.6,97.0 995.8,116.8 995.9,105.3 996.0,121.9 996.1,135.4 996.3,98.5 996.4,115.1 996.5,100.8 996.6,95.5 996.8,119.2 996.9,120.7 997.0,102.8 997.1,105.4 997.3,95.5 997.4,101.2 997.5,105.4 997.6,105.6 997.8,114.8 997.9,108.5 998.0,105.2 998.1,106.3 998.3,111.3 998.4,110.1 998.5,88.7 998.6,100.7 998.8,106.5 998.9,93.3 999.0,85.6 999.1,89.9 999.3,86.9 999.4,96.9 999.5,96.9 999.6,103.5 999.8,78.7 999.9,101.4 1000.0,104.4 1000.1,113.5 1000.3,92.0 1000.4,101.9 1000.5,76.5 1000.6,103.9 1000.8,108.8 1000.9,94.6 1001.0,85.4 1001.1,104.9 1001.3,80.8 1001.4,105.7 1001.5,78.6 1001.6,92.1 1001.8,89.8 1001.9,88.0 1002.0,80.5 1002.1,76.2 1002.3,96.0 1002.4,87.3 1002.5,75.3 1002.6,71.1 1002.8,87.4 1002.9,91.4 1003.0,79.2 1003.1,75.5 1003.3,82.7 1003.4,81.3 1003.5,86.0 1003.6,74.8 1003.8,69.9 1003.9,73.9 1004.0,63.8 1004.1,65.0 1004.3,68.3 1004.4,70.2 1004.5,71.1 1004.6,60.1 1004.8,66.7 1004.9,80.3 1005.0,56.2 1005.1,64.5 1005.3,63.0 1005.4,69.3 1005.5,59.6 1005.6,74.9 1005.8,59.9 1005.9,64.5 1006.0,63.4 1006.1,70.7 1006.3,64.1 1006.4,51.9 1006.5,60.7 1006.6,55.8 1006.8,66.9 1006.9,62.3 1007.0,60.7 1007.1,57.1 1007.3,52.3 1007.4,63.9 1007.5,62.5 1007.6,68.1 1007.8,53.4 1007.9,62.6 1008.0,46.6 1008.1,57.6 1008.3,40.3 1008.4,45.9 1008.5,49.4 1008.6,54.8 1008.8,53.3 1008.9,53.7 1009.0,54.4 1009.1,56.9 1009.3,54.9 1009.4,47.7 1009.5,59.9 1009.6,70.6 1009.8,59.4 1009.9,62.2 1010.0,56.9 1010.1,57.8 1010.3,57.6 1010.4,56.1 1010.5,65.1 1010.6,60.1 1010.8,68.2 1010.9,67.7 1011.0,59.3 1011.1,79.1 1011.3,67.1 1011.4,70.7 1011.5,68.0 1011.6,64.6 1011.8,71.9 1011.9,75.8 1012.0,63.2 1012.1,74.5 1012.3,75.7 1012.4,85.8 1012.5,66.3 1012.6,73.2 1012.8,84.1 1012.9,74.6 1013.0,82.8 1013.1,74.7 1013.3,74.6 1013.4,85.6 1013.5,79.3 1013.6,77.2 1013.8,83.9 1013.9,90.7 1014.0,84.6 1014.1,95.3 1014.3,80.0 1014.4,95.9 1014.5,89.6 1014.6,93.3 1014.8,93.3 1014.9,88.9 1015.0,89.5 1015.1,85.1 1015.3,88.9 1015.4,89.7 1015.5,98.8 1015.6,92.4 1015.8,97.0 1015.9,95.7 1016.0,105.4 1016.1,93.6 1016.3,93.6 1016.4,101.8 1016.5,90.9 1016.6,100.2 1016.8,95.9 1016.9,97.3 1017.0,101.2 1017.1,112.5 1017.3,108.6 1017.4,109.3 1017.5,108.1 1017.6,109.2 1017.8,103.3 1017.9,109.0 1018.0,108.2 1018.1,113.4 1018.3,115.8 1018.4,104.1 1018.5,103.7 1018.6,122.2 1018.8,106.5 1018.9,122.5 1019.0,127.6 1019.1,123.4 1019.3,119.2 1019.4,116.9 1019.5,119.8 1019.6,125.9 1019.8,133.4 1019.9,127.5 1020.0,120.4 1020.1,134.6 1020.3,123.2 1020.4,134.1 1020.5,126.9 1020.6,127.2 1020.8,132.3 1020.9,125.6 1021.0,121.7 1021.1,127.3 1021.3,129.1 1021.4,125.6 1021.5,136.5 1021.6,133.2 1021.8,133.4 1021.9,127.7 1022.0,133.9 1022.1,139.4 1022.3,129.6 1022.4,130.7 1022.5,136.7 1022.6,137.1 1022.8,128.2 1022.9,145.2 1023.0,141.1 1023.1,158.3 1023.3,122.9 1023.4,159.7 1023.5,141.0 1023.6,159.8 1023.8,149.1 1023.9,137.9 1024.0,128.7 1024.2,141.3 1024.3,131.8 1024.4,128.2 1024.5,138.6 1024.7,129.7 1024.8,134.0 1024.9,128.9 1025.0,134.7 1025.2,142.4 1025.3,137.1 1025.4,139.4 1025.5,123.9 1025.7,118.9 1025.8,134.3 1025.9,135.1 1026.0,142.7 1026.2,118.5 1026.3,145.4 1026.4,132.9 1026.5,121.1 1026.7,126.8 1026.8,128.0 1026.9,149.7 1027.0,127.7 1027.2,136.8 1027.3,121.8 1027.4,115.6 1027.5,123.0 1027.7,111.7 1027.8,127.1 1027.9,127.9 1028.0,150.8 1028.2,124.0 1028.3,142.2 1028.4,136.3 1028.5,137.7 1028.7,130.3 1028.8,125.8 1028.9,132.6 1029.0,139.8 1029.2,117.0 1029.3,111.8 1029.4,118.7 1029.5,108.9 1029.7,119.6 1029.8,120.4 1029.9,115.3 1030.0,120.9 1030.2,135.5 1030.3,123.1 1030.4,133.7 1030.5,120.2 1030.7,122.6 1030.8,107.6 1030.9,133.0 1031.0,123.6 1031.2,134.2 1031.3,119.2 1031.4,114.0 1031.5,136.1 1031.7,109.2 1031.8,102.8 1031.9,125.2 1032.0,109.1 1032.2,107.9 1032.3,119.7 1032.4,110.7 1032.5,131.1 1032.7,131.0 1032.8,130.9 1032.9,112.2 1033.0,123.8 1033.2,111.4 1033.3,112.4 1033.4,114.6 1033.5,115.0 1033.7,119.3 1033.8,113.9 1033.9,128.0 1034.0,105.2 1034.2,119.9 1034.3,103.4 1034.4,121.0 1034.5,126.8 1034.7,129.7 1034.8,122.2 1034.9,118.3 1035.0,111.2 1035.2,113.4 1035.3,118.3 1035.4,101.3 1035.5,105.5 1035.7,128.3 1035.8,121.7 1035.9,121.3 1036.0,113.8 1036.2,123.4 1036.3,114.0 1036.4,121.4 1036.5,118.3 1036.7,118.3 1036.8,112.6 1036.9,124.1 1037.0,111.4 1037.2,132.2 1037.3,126.4 1037.4,116.6 1037.5,122.8 1037.7,126.2 1037.8,119.2 1037.9,109.5 1038.0,134.5 1038.2,116.2 1038.3,117.4 1038.4,133.8 1038.5,119.2 1038.7,107.6 1038.8,124.3 1038.9,126.7 1039.0,112.3 1039.2,118.1 1039.3,113.2 1039.4,120.2 1039.5,126.3 1039.7,130.7 1039.8,116.4 1039.9,118.9 1040.0,126.9 1040.2,116.2 1040.3,123.3 1040.4,113.5 1040.5,128.4 1040.7,112.4 1040.8,121.1 1040.9,125.9 1041.0,121.3 1041.2,124.4 1041.3,119.8 1041.4,113.4 1041.5,117.0 1041.7,117.5 1041.8,112.5 1041.9,116.2 1042.0,107.8 1042.2,103.4 1042.3,117.9 1042.4,108.8 1042.5,118.3 1042.7,118.8 1042.8,102.4 1042.9,116.6 1043.0,107.0 1043.2,106.3 1043.3,89.8 1043.4,98.6 1043.5,99.3 1043.7,95.9 1043.8,90.6 1043.9,85.8 1044.0,99.4 1044.2,100.6 1044.3,103.8 1044.4,84.6 1044.5,82.7 1044.7,109.6 1044.8,93.5 1044.9,93.6 1045.0,103.2 1045.2,84.3 1045.3,92.2 1045.4,101.3 1045.5,97.6 1045.7,101.6 1045.8,89.1 1045.9,107.9 1046.0,78.1 1046.2,73.7 1046.3,90.2 1046.4,93.5 1046.5,91.7 1046.7,71.7 1046.8,76.7 1046.9,87.4 1047.0,101.2 1047.2,104.8 1047.3,69.5 1047.4,76.6 1047.5,85.3 1047.7,71.5 1047.8,78.0 1047.9,78.1 1048.0,91.1 1048.2,83.4 1048.3,96.4 1048.4,108.9 1048.5,90.8 1048.7,89.5 1048.8,94.6 1048.9,92.7 1049.0,92.7 1049.2,88.4 1049.3,96.9 1049.4,90.5 1049.5,100.7 1049.7,98.3 1049.8,107.2 1049.9,102.6 1050.0,102.5 1050.2,97.0 1050.3,93.9 1050.4,103.8 1050.5,91.1 1050.7,102.6 1050.8,114.0 1050.9,93.6 1051.0,105.6 1051.2,105.5 1051.3,100.5 1051.4,109.6 1051.5,97.1 1051.7,90.9 1051.8,105.5 1051.9,105.2 1052.0,103.9 1052.2,109.0 1052.3,93.2 1052.4,95.3 1052.5,116.4 1052.7,100.1 1052.8,110.7 1052.9,105.9 1053.0,88.6 1053.2,98.8 1053.3,117.1 1053.4,104.8 1053.5,109.2 1053.7,94.1 1053.8,103.0 1053.9,95.9 1054.0,102.1 1054.2,105.5 1054.3,99.2 1054.4,94.8 1054.5,109.6 1054.7,109.8 1054.8,102.1 1054.9,100.9 1055.0,112.8 1055.2,105.5 1055.3,115.5 1055.4,111.9 1055.5,105.2 1055.7,115.0 1055.8,94.2 1055.9,101.1 1056.0,108.7 1056.2,115.3 1056.3,115.0 1056.4,113.0 1056.5,103.2 1056.7,108.7 1056.8,123.2 1056.9,114.4 1057.0,117.4 1057.2,109.2 1057.3,97.3 1057.4,104.4 1057.5,119.8 1057.7,99.7 1057.8,119.7 1057.9,111.9 1058.0,88.2 1058.2,107.0 1058.3,100.3 1058.4,103.6 1058.5,122.6 1058.7,88.6 1058.8,85.4 1058.9,100.6 1059.0,106.1 1059.2,107.9 1059.3,127.9 1059.4,91.7 1059.5,99.8 1059.7,126.9 1059.8,108.4 1059.9,112.5 1060.0,105.3 1060.2,102.9 1060.3,78.1 1060.4,105.5 1060.5,72.2 1060.7,72.8 1060.8,105.8 1060.9,79.6 1061.0,106.3 1061.2,101.4 1061.3,95.4 1061.4,80.4 1061.5,89.1 1061.7,113.3 1061.8,92.5 1061.9,95.3 1062.0,102.4 1062.2,88.4 1062.3,92.8 1062.4,77.1 1062.5,116.8 1062.7,98.0 1062.8,101.7 1062.9,87.8 1063.0,82.5 1063.2,102.4 1063.3,88.5 1063.4,94.3 1063.5,82.4 1063.7,112.8 1063.8,92.3 1063.9,96.4 1064.0,102.0 1064.2,81.4 1064.3,94.2 1064.4,79.7 1064.5,84.1 1064.7,100.8 1064.8,104.4 1064.9,98.3 1065.0,86.0 1065.2,94.4 1065.3,103.0 1065.4,92.9 1065.5,94.3 1065.7,99.8 1065.8,106.1 1065.9,93.6 1066.0,86.2 1066.2,95.7 1066.3,99.9 1066.4,100.0 1066.5,105.0 1066.7,113.0 1066.8,103.7 1066.9,108.0 1067.0,99.7 1067.2,105.1 1067.3,111.2 1067.4,97.4 1067.5,116.2 1067.7,101.5 1067.8,106.8 1067.9,114.4 1068.0,115.3 1068.2,111.8 1068.3,106.8 1068.4,127.3 1068.5,112.4 1068.7,114.1 1068.8,115.0 1068.9,116.2 1069.0,113.7 1069.2,112.0 1069.3,109.1 1069.4,109.1 1069.5,123.7 1069.7,131.7 1069.8,121.2 1069.9,121.4 1070.0,118.5 1070.2,117.4 1070.3,136.0 1070.4,122.4 1070.5,125.6 1070.7,130.3 1070.8,104.0 1070.9,127.6 1071.0,120.9 1071.2,139.8 1071.3,122.4 1071.4,127.5 1071.5,126.6 1071.7,136.4 1071.8,115.6 1071.9,123.6 1072.0,128.0 1072.2,113.1 1072.3,116.5 1072.4,123.7 1072.5,119.7 1072.7,116.2 1072.8,119.2 1072.9,133.9 1073.0,111.8 1073.2,105.5 1073.3,116.9 1073.4,97.9 1073.5,108.5 1073.7,96.8 1073.8,124.7 1073.9,120.4 1074.0,110.8 1074.2,95.6 1074.3,101.3 1074.4,102.3 1074.5,127.9 1074.7,97.4 1074.8,110.4 1074.9,117.5 1075.0,114.8 1075.2,106.0 1075.3,104.2 1075.4,117.9 1075.5,107.4 1075.7,94.8 1075.8,102.5 1075.9,103.4 1076.0,121.5 1076.2,106.9 1076.3,93.0 1076.4,105.0 1076.5,115.8 1076.7,99.7 1076.8,103.2 1076.9,96.4 1077.0,109.9 1077.2,108.1 1077.3,102.6 1077.4,108.7 1077.5,112.2 1077.7,101.2 1077.8,106.6 1077.9,112.9 1078.0,104.5 1078.2,92.1 1078.3,112.1 1078.4,106.1 1078.5,110.5 1078.7,108.4 1078.8,121.1 1078.9,93.3 1079.0,123.6 1079.2,110.8 1079.3,112.9 1079.4,97.6 1079.5,106.3 1079.7,104.7 1079.8,110.1 1079.9,90.0 1080.0,105.1 1080.2,88.1 1080.3,123.0 1080.4,98.8 1080.5,99.0 1080.7,100.1 1080.8,111.0 1080.9,114.1 1081.0,111.2 1081.2,88.6 1081.3,101.5 1081.4,107.2 1081.5,106.2 1081.7,112.5 1081.8,100.1 1081.9,101.9 1082.0,87.7 1082.2,103.8 1082.3,110.6 1082.4,106.3 1082.5,97.1 1082.7,104.4 1082.8,104.7 1082.9,96.1 1083.0,99.7 1083.2,106.2 1083.3,110.4 1083.4,121.4 1083.5,95.9 1083.7,101.6 1083.8,111.9 1083.9,100.0 1084.0,111.5 1084.2,87.8 1084.3,119.7 1084.4,112.9 1084.5,105.2 1084.7,92.5 1084.8,100.5 1084.9,97.1 1085.0,116.6 1085.2,99.6 1085.3,106.3 1085.4,109.2 1085.5,100.9 1085.7,98.2 1085.8,87.8 1085.9,111.1 1086.0,116.8 1086.2,105.1 1086.3,95.5 1086.4,107.6 1086.5,100.9 1086.7,87.1 1086.8,100.2 1086.9,86.9 1087.0,100.0 1087.2,92.4 1087.3,110.0 1087.4,88.8 1087.5,103.7 1087.7,101.0 1087.8,88.4 1087.9,102.5 1088.0,95.9 1088.2,93.0 1088.3,89.1 1088.4,101.5 1088.5,96.1 1088.7,100.0 1088.8,100.8 1088.9,113.5 1089.0,98.8 1089.2,101.3 1089.3,112.6 1089.4,96.5 1089.5,110.8 1089.7,104.4 1089.8,84.6 1089.9,112.9 1090.0,98.8 1090.2,90.0 1090.3,97.5 1090.4,101.1 1090.5,101.6 1090.7,115.4 1090.8,84.7 1090.9,102.0 1091.0,94.4 1091.2,95.2 1091.3,95.1 1091.4,92.3 1091.5,112.6 1091.7,100.1 1091.8,98.2 1091.9,101.2 1092.0,85.3 1092.2,97.0 1092.3,93.8 1092.4,82.8 1092.5,109.9 1092.7,99.9 1092.8,103.4 1092.9,93.3 1093.0,99.1 1093.2,98.1 1093.3,103.4 1093.4,99.4 1093.5,102.3 1093.7,92.2 1093.8,102.4 1093.9,101.8 1094.0,102.5 1094.2,96.1 1094.3,100.4 1094.4,98.0 1094.5,101.0 1094.7,98.4 1094.8,94.7 1094.9,94.6 1095.0,99.6 1095.2,90.3 1095.3,84.8 1095.4,97.9 1095.5,95.8 1095.7,100.4 1095.8,103.1 1095.9,101.2 1096.0,96.9 1096.2,99.9 1096.3,86.5 1096.4,102.8 1096.5,92.5 1096.7,93.4 1096.8,102.8 1096.9,94.7 1097.0,92.8 1097.2,97.7 1097.3,92.3 1097.4,105.6 1097.5,91.9 1097.7,99.4 1097.8,108.3 1097.9,102.6 1098.0,114.7 1098.2,108.3 1098.3,103.4 1098.4,91.9 1098.5,105.9 1098.7,110.7 1098.8,108.6 1098.9,106.0 1099.0,106.6 1099.2,101.0 1099.3,105.2 1099.4,105.4 1099.5,102.8 1099.7,112.6 1099.8,96.6 1099.9,112.7 1100.0,99.4 1100.2,96.1 1100.3,101.7 1100.4,97.9 1100.5,102.5 1100.7,109.3 1100.8,114.0 1100.9,110.8 1101.0,91.8 1101.2,114.2 1101.3,100.4 1101.4,108.8 1101.5,115.4 1101.7,114.2 1101.8,119.4 1101.9,107.4 1102.0,100.3 1102.2,100.8 1102.3,122.1 1102.4,105.7 1102.5,110.1 1102.7,105.2 1102.8,102.4 1102.9,121.2 1103.0,120.6 1103.2,111.8 1103.3,115.9 1103.4,105.2 1103.5,110.4 1103.7,107.4 1103.8,119.9 1103.9,122.4 1104.0,108.2 1104.2,99.0 1104.3,120.0 1104.4,129.2 1104.5,105.9 1104.7,129.6 1104.8,117.3 1104.9,117.4 1105.0,102.1 1105.2,114.1 1105.3,103.6 1105.4,121.9 1105.5,133.0 1105.7,119.0 1105.8,111.0 1105.9,111.7 1106.0,116.3 1106.2,118.9 1106.3,131.3 1106.4,118.7 1106.5,135.8 1106.7,107.5 1106.8,108.1 1106.9,119.0 1107.0,115.5 1107.2,114.7 1107.3,120.8 1107.4,131.0 1107.5,106.8 1107.7,121.6 1107.8,124.0 1107.9,109.9 1108.0,102.4 1108.2,102.7 1108.3,115.3 1108.4,114.6 1108.5,116.7 1108.7,119.3 1108.8,122.2 1108.9,124.6 1109.0,127.3 1109.2,111.8 1109.3,113.3 1109.4,103.5 1109.5,100.8 1109.7,110.7 1109.8,101.2 1109.9,122.0 1110.0,103.6 1110.2,124.3 1110.3,103.5 1110.4,108.1 1110.5,118.3 1110.7,112.2 1110.8,120.4 1110.9,101.1 1111.0,114.2 1111.2,104.3 1111.3,111.5 1111.4,95.9 1111.5,99.9 1111.7,104.2 1111.8,110.0 1111.9,97.6 1112.0,98.4 1112.2,91.1 1112.3,100.8 1112.4,118.0 1112.5,99.9 1112.7,89.7 1112.8,93.2 1112.9,95.0 1113.0,100.0 1113.2,105.5 1113.3,110.2 1113.4,98.8 1113.5,107.6 1113.7,101.7 1113.8,107.4 1113.9,110.3 1114.0,108.1 1114.2,87.8 1114.3,107.0 1114.4,98.0 1114.5,85.5 1114.7,103.8 1114.8,98.0 1114.9,89.6 1115.0,84.4 1115.2,103.3 1115.3,101.3 1115.4,104.0 1115.5,99.2 1115.7,113.6 1115.8,92.4 1115.9,98.3 1116.0,98.1 1116.2,110.3 1116.3,107.4 1116.4,91.9 1116.5,106.2 1116.7,90.6 1116.8,102.7 1116.9,82.5 1117.0,80.4 1117.2,80.1 1117.3,98.6 1117.4,91.9 1117.5,81.4 1117.7,90.6 1117.8,90.7 1117.9,101.1 1118.0,96.6 1118.2,81.3 1118.3,89.8 1118.4,87.1 1118.5,90.7 1118.7,86.7 1118.8,105.4 1118.9,105.6 1119.0,95.3 1119.2,91.1 1119.3,89.7 1119.4,97.1 1119.5,112.1 1119.7,105.2 1119.8,101.7 1119.9,107.3 1120.0,93.6 1120.2,94.3 1120.3,102.1 1120.4,89.7 1120.5,108.4 1120.7,94.6 1120.8,89.4 1120.9,106.7 1121.0,97.3 1121.2,97.5 1121.3,110.7 1121.4,111.3 1121.5,95.1 1121.7,109.7 1121.8,89.1 1121.9,112.0 1122.0,102.6 1122.2,101.5 1122.3,113.2 1122.4,104.8 1122.5,87.8 1122.7,104.6 1122.8,109.1 1122.9,110.3 1123.0,114.7 1123.2,99.8 1123.3,93.2 1123.4,90.9 1123.5,99.4 1123.7,98.8 1123.8,105.0 1123.9,116.5 1124.0,100.3 1124.2,94.5 1124.3,104.8 1124.4,106.2 1124.5,110.2 1124.7,115.6 1124.8,109.0 1124.9,107.8 1125.0,100.3 1125.2,108.6 1125.3,113.6 1125.4,103.7 1125.5,118.7 1125.7,106.9 1125.8,112.7 1125.9,95.2 1126.0,115.6 1126.2,106.8 1126.3,104.3 1126.4,109.6 1126.5,110.1 1126.7,103.4 1126.8,99.6 1126.9,111.9 1127.0,114.2 1127.2,110.8 1127.3,107.8 1127.4,108.3 1127.5,97.0 1127.7,106.8 1127.8,105.4 1127.9,109.7 1128.0,98.0 1128.2,102.0 1128.3,107.9 1128.4,98.8 1128.5,102.3 1128.7,122.1 1128.8,110.6 1128.9,108.9 1129.0,112.9 1129.2,105.7 1129.3,113.7 1129.4,110.0 1129.5,106.4 1129.7,114.0 1129.8,118.5 1129.9,114.2 1130.0,105.6 1130.2,115.2 1130.3,110.5 1130.4,111.9 1130.5,116.4 1130.7,118.4 1130.8,121.2 1130.9,113.4 1131.0,128.7 1131.2,123.1 1131.3,122.2 1131.4,129.5 1131.5,125.9 1131.7,129.3 1131.8,127.1 1131.9,116.3 1132.0,125.6 1132.2,128.1 1132.3,126.1 1132.4,130.4 1132.5,125.8 1132.7,115.2 1132.8,120.3 1132.9,114.8 1133.0,112.4 1133.2,137.2 1133.3,130.1 1133.4,133.7 1133.5,113.6 1133.7,130.8 1133.8,120.6 1133.9,130.7 1134.0,131.3 1134.2,136.5 1134.3,117.9 1134.4,137.1 1134.5,135.3 1134.7,129.2 1134.8,115.1 1134.9,113.3 1135.0,108.9 1135.2,109.4 1135.3,134.8 1135.4,108.9 1135.5,118.0 1135.7,130.2 1135.8,121.4 1135.9,132.7 1136.0,141.7 1136.2,121.3 1136.3,135.8 1136.4,141.0 1136.5,127.7 1136.7,141.0 1136.8,127.8 1136.9,130.9 1137.0,140.9 1137.2,125.9 1137.3,126.7 1137.4,136.9 1137.5,154.4 1137.7,114.2 1137.8,143.9 1137.9,130.7 1138.0,130.4 1138.2,145.2 1138.3,114.4 1138.4,114.4 1138.5,111.2 1138.7,126.8 1138.8,130.4 1138.9,105.9 1139.0,129.0 1139.2,108.8 1139.3,125.0 1139.4,142.3 1139.5,134.0 1139.7,121.1 1139.8,130.7 1139.9,128.2 1140.0,99.8 1140.2,110.9 1140.3,126.1 1140.4,123.6 1140.5,107.6 1140.7,121.4 1140.8,120.5 1140.9,115.3 1141.0,115.7 1141.2,130.6 1141.3,121.1 1141.4,121.5 1141.5,100.1 1141.7,110.7 1141.8,120.1 1141.9,115.4 1142.0,111.8 1142.2,105.6 1142.3,115.7 1142.4,111.9 1142.5,100.0 1142.7,127.0 1142.8,111.2 1142.9,97.7 1143.0,100.5 1143.2,107.1 1143.3,108.3 1143.4,105.0 1143.5,110.9 1143.7,123.4 1143.8,103.2 1143.9,120.3 1144.0,117.8 1144.2,102.1 1144.3,99.4 1144.4,116.8 1144.5,118.6 1144.7,116.5 1144.8,115.1 1144.9,104.0 1145.0,115.1 1145.2,99.9 1145.3,114.1 1145.4,116.4 1145.5,114.9 1145.7,120.0 1145.8,113.8 1145.9,117.3 1146.0,109.3 1146.2,122.7 1146.3,106.8 1146.4,120.6 1146.5,100.4 1146.7,95.5 1146.8,108.3 1146.9,105.3 1147.0,101.1 1147.2,97.8 1147.3,113.4 1147.4,109.4 1147.5,113.9 1147.7,100.5 1147.8,108.1 1147.9,94.0 1148.0,97.2 1148.2,84.1 1148.3,112.1 1148.4,105.1 1148.5,116.2 1148.7,96.7 1148.8,117.8 1148.9,103.0 1149.0,103.3 1149.2,95.5 1149.3,117.6 1149.4,95.7 1149.5,117.7 1149.7,117.7 1149.8,88.8 1149.9,104.6 1150.0,95.4 1150.2,101.1 1150.3,105.3 1150.4,103.2 1150.5,111.4 1150.7,109.5 1150.8,91.8 1150.9,96.2 1151.0,95.8 1151.2,95.6 1151.3,110.5 1151.4,105.1 1151.5,107.0 1151.7,92.7 1151.8,104.2 1151.9,93.3 1152.0,106.8 1152.2,102.8 1152.3,110.9 1152.4,111.9 1152.5,114.7 1152.7,107.4 1152.8,112.4 1152.9,102.4 1153.0,123.9 1153.2,112.0 1153.3,103.0 1153.4,112.1 1153.5,120.9 1153.7,106.3 1153.8,122.2 1153.9,110.3 1154.0,124.6 1154.2,114.0 1154.3,106.5 1154.4,116.0 1154.5,125.8 1154.7,97.6 1154.8,106.4 1154.9,119.3 1155.0,105.7 1155.2,98.7 1155.3,116.9 1155.4,112.0 1155.5,114.6 1155.7,113.5 1155.8,121.0 1155.9,108.9 1156.0,101.8 1156.2,115.6 1156.3,115.4 1156.4,116.5 1156.5,119.4 1156.7,111.2 1156.8,102.3 1156.9,123.8 1157.0,134.9 1157.2,125.0 1157.3,121.8 1157.4,126.8 1157.5,118.0 1157.7,108.3 1157.8,104.9 1157.9,123.7 1158.0,113.3 1158.2,115.6 1158.3,128.0 1158.4,133.0 1158.5,137.1 1158.7,112.3 1158.8,124.6 1158.9,121.2 1159.0,128.0 1159.2,127.6 1159.3,131.9 1159.4,127.3 1159.5,121.1 1159.7,116.4 1159.8,141.5 1159.9,124.9 1160.0,134.1 1160.2,130.3 1160.3,135.0 1160.4,129.5 1160.5,138.0 1160.7,122.5 1160.8,133.5 1160.9,133.1 1161.0,123.9 1161.2,123.0 1161.3,124.4 1161.4,139.3 1161.5,126.8 1161.7,136.4 1161.8,127.1 1161.9,132.0 1162.0,135.0 1162.2,131.9 1162.3,127.0 1162.4,126.7 1162.5,144.6 1162.7,141.6 1162.8,135.2 1162.9,126.3 1163.0,134.2 1163.2,145.2 1163.3,125.6 1163.4,131.9 1163.5,135.1 1163.7,128.1 1163.8,130.0 1163.9,137.9 1164.0,128.8 1164.2,130.2 1164.3,133.9 1164.4,121.0 1164.5,132.3 1164.7,140.5 1164.8,140.8 1164.9,117.0 1165.0,130.7 1165.2,146.5 1165.3,124.3 1165.4,125.4 1165.5,135.2 1165.7,127.2 1165.8,126.4 1165.9,126.9 1166.0,134.6 1166.2,135.2 1166.3,136.1 1166.4,121.4 1166.5,120.1 1166.7,139.7 1166.8,132.8 1166.9,134.6 1167.0,137.0 1167.2,145.5 1167.3,143.0 1167.4,129.7 1167.5,140.5 1167.7,138.4 1167.8,146.0 1167.9,141.6 1168.0,149.1 1168.2,149.2 1168.3,137.5 1168.4,127.7 1168.5,139.6 1168.7,129.4 1168.8,135.2 1168.9,143.6 1169.0,130.7 1169.2,121.2 1169.3,131.3 1169.4,127.6 1169.5,122.5 1169.7,141.1 1169.8,140.8 1169.9,138.4 1170.0,146.4 1170.2,134.7 1170.3,153.2 1170.4,138.6 1170.5,145.5 1170.7,129.2 1170.8,141.3 1170.9,133.4 1171.0,124.9 1171.2,139.3 1171.3,127.1 1171.4,147.2 1171.5,118.9 1171.7,116.3 1171.8,152.1 1171.9,144.3 1172.0,133.3 1172.2,158.3 1172.3,129.1 1172.4,139.4 1172.5,157.3 1172.7,128.5 1172.8,155.4 1172.9,115.1 1173.0,153.6 1173.2,142.0 1173.3,126.1 1173.4,148.9 1173.5,134.2 1173.7,124.2 1173.8,128.5 1173.9,141.8 1174.0,125.8 1174.2,123.6 1174.3,129.4 1174.4,128.8 1174.5,116.8 1174.7,144.9 1174.8,148.6 1174.9,127.8 1175.0,134.0 1175.2,126.1 1175.3,116.9 1175.4,130.9 1175.5,116.5 1175.7,110.9 1175.8,120.3 1175.9,129.2 1176.0,120.4 1176.2,132.3 1176.3,130.4 1176.4,132.4 1176.5,135.9 1176.7,117.2 1176.8,128.4 1176.9,126.9 1177.0,123.8 1177.2,115.3 1177.3,124.3 1177.4,120.3 1177.5,124.6 1177.7,116.9 1177.8,113.0 1177.9,105.1 1178.0,115.6 1178.2,129.5 1178.3,116.8 1178.4,114.7 1178.5,108.4 1178.7,115.9 1178.8,113.8 1178.9,113.7 1179.0,110.3 1179.2,104.5 1179.3,105.7 1179.4,107.1 1179.5,104.7 1179.7,103.4 1179.8,113.2 1179.9,110.7 1180.0,107.1 1180.2,109.3 1180.3,118.5 1180.4,101.2 1180.5,114.9 1180.7,96.0 1180.8,121.6 1180.9,113.0 1181.0,123.0 1181.2,122.8 1181.3,110.2 1181.4,113.7 1181.5,112.3 1181.7,94.0 1181.8,115.9 1181.9,114.3 1182.0,114.7 1182.2,109.9 1182.3,98.5 1182.4,102.0 1182.5,92.2 1182.7,108.9 1182.8,101.0 1182.9,102.1 1183.0,115.8 1183.2,106.7 1183.3,91.7 1183.4,114.7 1183.5,95.0 1183.7,96.6 1183.8,98.3 1183.9,116.3 1184.0,95.9 1184.2,108.9 1184.3,111.2 1184.4,91.4 1184.5,117.4 1184.7,100.3 1184.8,119.3 1184.9,102.4 1185.0,117.7 1185.2,120.2 1185.3,91.2 1185.4,96.1 1185.5,101.0 1185.7,113.0 1185.8,118.7 1185.9,106.4 1186.0,109.3 1186.2,111.4 1186.3,98.0 1186.4,100.3 1186.5,106.4 1186.7,115.9 1186.8,99.8 1186.9,110.6 1187.0,99.5 1187.2,95.9 1187.3,106.7 1187.4,106.9 1187.5,106.5 1187.7,90.9 1187.8,101.5 1187.9,113.5 1188.0,94.6 1188.2,101.1 1188.3,97.1 1188.4,107.1 1188.5,117.4 1188.7,103.7 1188.8,101.6 1188.9,104.1 1189.0,107.9 1189.2,103.4 1189.3,99.9 1189.4,110.2 1189.5,120.2 1189.7,109.6 1189.8,102.7 1189.9,118.8 1190.0,108.8 1190.2,111.8 1190.3,107.6 1190.4,112.3 1190.5,98.6 1190.7,108.7 1190.8,108.0 1190.9,107.5 1191.0,110.9 1191.2,124.2 1191.3,102.1 1191.4,107.5 1191.5,99.8 1191.7,111.0 1191.8,106.4 1191.9,118.7 1192.0,110.2 1192.2,110.1 1192.3,111.9 1192.4,126.6 1192.5,120.9 1192.7,115.3 1192.8,121.4 1192.9,110.6 1193.0,99.7 1193.2,101.4 1193.3,117.8 1193.4,116.4 1193.5,109.1 1193.7,106.0 1193.8,121.4 1193.9,110.8 1194.0,104.9 1194.2,121.1 1194.3,116.5 1194.4,105.3 1194.5,128.6 1194.7,111.2 1194.8,112.0 1194.9,110.3 1195.0,114.0 1195.2,129.4 1195.3,114.7 1195.4,123.5 1195.5,112.2 1195.7,127.9 1195.8,128.9 1195.9,125.3 1196.0,133.3 1196.2,120.9 1196.3,104.3 1196.4,109.0 1196.5,114.5 1196.7,126.1 1196.8,121.0 1196.9,122.1 1197.0,122.1 1197.2,117.6 1197.3,119.9 1197.4,116.2 1197.5,121.0 1197.7,126.1 1197.8,133.6 1197.9,131.8 1198.0,120.6 1198.2,118.1 1198.3,118.7 1198.4,108.6 1198.5,129.0 1198.7,128.5 1198.8,125.4 1198.9,122.7 1199.0,127.6 1199.2,129.4 1199.3,132.1 1199.4,112.6 1199.5,135.7 1199.7,118.9 1199.8,133.0 1199.9,116.3 1200.0,132.4 1200.2,136.0 1200.3,131.1 1200.4,124.5 1200.5,135.0 1200.7,124.2 1200.8,125.9 1200.9,121.9 1201.0,124.4 1201.2,126.8 1201.3,123.0 1201.4,135.4 1201.5,131.8 1201.7,123.3 1201.8,127.5 1201.9,132.6 1202.0,132.4 1202.2,144.2 1202.3,130.7 1202.4,137.8 1202.5,138.4 1202.7,139.2 1202.8,145.1 1202.9,145.8 1203.0,140.8 1203.2,141.9 1203.3,148.4 1203.4,147.0 1203.5,158.3 1203.7,138.8 1203.8,149.1 1203.9,143.7 1204.0,148.8 1204.2,141.0 1204.3,143.8 1204.4,141.8 1204.5,131.3 1204.7,142.1 1204.8,143.2 1204.9,139.7 1205.0,140.4 1205.2,148.6 1205.3,125.7 1205.4,130.4 1205.5,132.0 1205.7,130.3 1205.8,131.6 1205.9,124.7 1206.0,131.2 1206.2,136.6 1206.3,127.1 1206.4,136.6 1206.5,137.6 1206.7,136.6 1206.8,131.4 1206.9,113.7 1207.0,126.8 1207.2,111.9 1207.3,113.7 1207.4,131.3 1207.5,110.7 1207.7,130.6 1207.8,120.0 1207.9,129.7 1208.0,134.9 1208.2,123.0 1208.3,115.3 1208.4,127.4 1208.5,112.5 1208.7,122.2 1208.8,121.3 1208.9,129.6 1209.0,108.0 1209.2,122.1 1209.3,134.0 1209.4,118.8 1209.5,133.3 1209.7,126.3 1209.8,107.0 1209.9,122.7 1210.0,121.0 1210.2,112.9 1210.3,116.1 1210.4,104.1 1210.5,129.5 1210.7,120.3 1210.8,114.1 1210.9,122.1 1211.0,126.4 1211.2,114.5 1211.3,114.7 1211.4,119.1 1211.5,113.4 1211.7,126.5 1211.8,121.1 1211.9,115.0 1212.0,110.4 1212.2,100.4 1212.3,105.1 1212.4,124.6 1212.5,111.6 1212.7,119.9 1212.8,99.2 1212.9,102.7 1213.0,116.8 1213.2,117.8 1213.3,100.6 1213.4,99.5 1213.5,102.0 1213.7,110.0 1213.8,95.6 1213.9,121.3 1214.0,99.7 1214.2,111.0 1214.3,114.7 1214.4,106.8 1214.5,91.7 1214.7,103.9 1214.8,123.3 1214.9,117.8 1215.0,107.3 1215.2,105.3 1215.3,109.1 1215.4,95.9 1215.5,106.3 1215.7,106.9 1215.8,120.9 1215.9,114.5 1216.0,104.3 1216.2,101.4 1216.3,116.4 1216.4,114.7 1216.5,117.8 1216.7,112.5 1216.8,114.9 1216.9,113.1 1217.0,125.5 1217.2,112.8 1217.3,106.0 1217.4,119.4 1217.5,118.8 1217.7,111.3 1217.8,123.1 1217.9,117.8 1218.0,108.9 1218.2,108.2 1218.3,125.6 1218.4,121.1 1218.5,106.7 1218.7,107.2 1218.8,127.8 1218.9,128.0 1219.0,123.8 1219.2,115.8 1219.3,114.1 1219.4,122.5 1219.5,127.4 1219.7,120.1 1219.8,116.4 1219.9,108.2 1220.0,109.2 1220.2,110.8 1220.3,106.6 1220.4,121.9 1220.5,116.4 1220.7,131.4 1220.8,126.8 1220.9,120.3 1221.0,132.3 1221.2,126.8 1221.3,119.1 1221.4,121.6 1221.5,117.0 1221.7,118.4 1221.8,121.7 1221.9,119.7 1222.0,120.0 1222.2,121.5 1222.3,123.7 1222.4,132.0 1222.5,122.3 1222.7,121.3 1222.8,127.9 1222.9,125.8 1223.0,117.1 1223.2,122.9 1223.3,124.1 1223.4,120.3 1223.5,130.8 1223.7,128.0 1223.8,122.1 1223.9,133.8 1224.0,128.8 1224.2,126.9 1224.3,128.6 1224.4,132.8 1224.5,132.0 1224.7,122.8 1224.8,130.0 1224.9,127.3 1225.0,126.1 1225.2,126.3 1225.3,136.1 1225.4,129.5 1225.5,141.3 1225.7,125.5 1225.8,135.8 1225.9,137.5 1226.0,127.6 1226.2,131.1 1226.3,138.1 1226.4,143.0 1226.5,130.3 1226.7,130.2 1226.8,133.9 1226.9,136.8 1227.0,129.3 1227.2,138.3 1227.3,135.8 1227.4,133.2 1227.5,126.4 1227.7,138.3 1227.8,120.9 1227.9,127.0 1228.0,121.4 1228.2,131.7 1228.3,132.9 1228.4,132.4 1228.5,130.2 1228.7,141.1 1228.8,122.4 1228.9,124.9 1229.0,139.0 1229.2,146.3 1229.3,140.2 1229.4,128.2 1229.5,123.5 1229.7,143.0 1229.8,140.8 1229.9,139.7 1230.0,128.0 1230.2,124.4 1230.3,146.9 1230.4,155.7 1230.5,148.1 1230.7,145.9 1230.8,145.6 1230.9,140.1 1231.0,139.6 1231.2,143.1 1231.3,135.0 1231.4,146.6 1231.5,131.4 1231.7,143.2 1231.8,160.7 1231.9,159.1 1232.0,136.5 1232.2,153.8 1232.3,151.3 1232.4,155.6 1232.5,150.6 1232.7,144.0 1232.8,159.0 1232.9,165.7 1233.0,134.7 1233.2,147.6 1233.3,143.1 1233.4,135.8 1233.5,146.5 1233.7,142.1 1233.8,127.3 1233.9,161.7 1234.0,144.9 1234.2,142.5 1234.3,145.4 1234.4,134.8 1234.5,135.0 1234.7,157.5 1234.8,138.0 1234.9,126.8 1235.0,143.9 1235.2,148.5 1235.3,134.0 1235.4,135.0 1235.5,150.2 1235.7,146.6 1235.8,128.8 1235.9,135.0 1236.0,135.0 1236.2,136.3 1236.3,127.3 1236.4,135.6 1236.5,128.7 1236.7,141.5 1236.8,137.1 1236.9,132.1 1237.0,132.9 1237.2,131.5 1237.3,140.3 1237.4,137.2 1237.5,137.6 1237.7,121.6 1237.8,137.1 1237.9,132.0 1238.0,129.5 1238.2,123.1 1238.3,139.6 1238.4,142.4 1238.5,131.6 1238.7,130.4 1238.8,126.0 1238.9,137.3 1239.0,131.5 1239.2,125.5 1239.3,140.5 1239.4,134.6 1239.5,132.4 1239.7,129.6 1239.8,127.6 1239.9,123.0 1240.0,124.9 1240.2,124.8 1240.3,136.8 1240.4,120.5 1240.5,142.2 1240.7,138.8 1240.8,122.3 1240.9,121.0 1241.0,111.3 1241.2,136.3 1241.3,134.7 1241.4,144.0 1241.5,109.3 1241.7,131.7 1241.8,124.2 1241.9,115.3 1242.0,134.2 1242.2,124.5 1242.3,127.2 1242.4,120.3 1242.5,132.9 1242.7,111.2 1242.8,115.4 1242.9,139.3 1243.0,134.4 1243.2,118.9 1243.3,131.2 1243.4,132.9 1243.5,139.7 1243.7,140.7 1243.8,140.0 1243.9,123.8 1244.0,149.0 1244.2,130.3 1244.3,137.4 1244.4,136.8 1244.5,146.3 1244.7,142.2 1244.8,112.6 1244.9,115.7 1245.0,129.6 1245.2,123.0 1245.3,142.2 1245.4,148.6 1245.5,146.5 1245.7,122.2 1245.8,138.8 1245.9,143.7 1246.0,141.7 1246.2,144.4 1246.3,153.5 1246.4,143.8 1246.5,140.1 1246.7,142.2 1246.8,139.9 1246.9,133.8 1247.0,137.7 1247.2,129.9 1247.3,129.4 1247.4,139.9 1247.5,131.4 1247.7,134.7 1247.8,134.4 1247.9,131.0 1248.0,125.4 1248.2,147.7 1248.3,154.3 1248.4,144.9 1248.5,137.3 1248.7,153.7 1248.8,147.6 1248.9,133.3 1249.0,144.7 1249.2,146.5 1249.3,138.9 1249.4,151.5 1249.5,135.1 1249.7,148.2 1249.8,154.5 1249.9,133.9 1250.0,154.2 1250.2,157.1 1250.3,143.4 1250.4,141.7 1250.5,149.8 1250.7,151.9 1250.8,150.8 1250.9,150.5 1251.0,144.3 1251.2,139.7 1251.3,148.5 1251.4,162.2 1251.5,161.3 1251.7,161.5 1251.8,154.7 1251.9,152.4 1252.0,153.4 1252.2,159.2 1252.3,147.7 1252.4,161.6 1252.5,162.6 1252.7,155.0 1252.8,166.6 1252.9,165.3 1253.0,145.8 1253.2,156.9 1253.3,159.2 1253.4,145.8 1253.5,165.5 1253.7,168.4 1253.8,164.9 1253.9,159.7 1254.0,173.0 1254.2,161.8 1254.3,163.8 1254.4,165.5 1254.5,171.2 1254.7,147.0 1254.8,169.7 1254.9,164.9 1255.0,174.5 1255.2,164.0 1255.3,161.4 1255.4,156.2 1255.5,162.9 1255.7,157.3 1255.8,167.5 1255.9,163.3 1256.0,155.8 1256.2,169.6 1256.3,162.6 1256.4,159.6 1256.5,176.8 1256.7,167.9 1256.8,168.0 1256.9,156.5 1257.0,176.7 1257.2,170.0 1257.3,152.1 1257.4,161.4 1257.5,177.3 1257.7,174.2 1257.8,163.3 1257.9,166.6 1258.0,166.3 1258.2,145.4 1258.3,171.8 1258.4,179.4 1258.5,158.5 1258.7,165.5 1258.8,174.5 1258.9,167.0 1259.0,175.4 1259.2,164.7 1259.3,161.7 1259.4,156.9 1259.5,163.3 1259.7,150.4 1259.8,151.4 1259.9,165.2 1260.0,154.3 1260.2,165.7 1260.3,163.1 1260.4,162.5 1260.5,170.1 1260.7,159.1 1260.8,152.6 1260.9,161.2 1261.0,161.9 1261.2,184.1 1261.3,174.8 1261.4,149.1 1261.5,144.0 1261.7,150.0 1261.8,168.3 1261.9,143.5 1262.0,170.9 1262.2,158.4 1262.3,172.4 1262.4,163.2 1262.5,151.5 1262.7,156.2 1262.8,161.5 1262.9,170.2 1263.0,156.2 1263.2,152.9 1263.3,159.1 1263.4,150.4 1263.5,161.8 1263.7,160.1 1263.8,164.2 1263.9,148.1 1264.0,165.6 1264.2,171.3 1264.3,166.9 1264.4,154.9 1264.5,152.7 1264.7,139.9 1264.8,156.9 1264.9,168.3 1265.0,156.9 1265.2,155.2 1265.3,151.1 1265.4,141.5 1265.5,167.0 1265.7,147.9 1265.8,164.4 1265.9,150.6 1266.0,149.3 1266.2,142.1 1266.3,150.6 1266.4,150.8 1266.5,145.8 1266.7,147.7 1266.8,146.7 1266.9,140.3 1267.0,141.6 1267.2,163.8 1267.3,135.8 1267.4,153.0 1267.5,134.3 1267.7,137.8 1267.8,154.5 1267.9,132.7 1268.0,152.3 1268.2,158.3 1268.3,143.0 1268.4,151.6 1268.5,153.5 1268.7,127.4 1268.8,140.0 1268.9,139.6 1269.0,151.5 1269.2,138.7 1269.3,130.9 1269.4,129.9 1269.5,142.6 1269.7,142.3 1269.8,145.5 1269.9,130.7 1270.0,145.2 1270.2,139.2 1270.3,130.9 1270.4,127.9 1270.5,156.2 1270.7,144.3 1270.8,135.3 1270.9,143.4 1271.0,131.4 1271.2,153.0 1271.3,142.4 1271.4,120.3 1271.5,133.1 1271.7,133.8 1271.8,136.9 1271.9,124.7 1272.0,143.9 1272.2,136.2 1272.3,147.6 1272.4,135.9 1272.5,146.9 1272.7,147.4 1272.8,134.1 1272.9,135.2 1273.0,140.8 1273.2,136.1 1273.3,130.9 1273.4,115.4 1273.5,141.8 1273.7,135.6 1273.8,121.8 1273.9,122.9 1274.0,130.2 1274.2,123.2 1274.3,121.2 1274.4,136.0 1274.5,136.5 1274.7,128.1 1274.8,132.3 1274.9,140.2 1275.0,139.2 1275.2,145.7 1275.3,133.0 1275.4,132.2 1275.5,140.5 1275.7,147.5 1275.8,135.0 1275.9,134.2 1276.0,135.3 1276.2,144.7 1276.3,145.7 1276.4,131.8 1276.5,145.7 1276.7,144.2 1276.8,148.0 1276.9,136.9 1277.0,140.2 1277.2,144.2 1277.3,144.8 1277.4,135.2 1277.5,147.1 1277.7,146.4 1277.8,141.3 1277.9,145.9 1278.0,151.2 1278.2,144.0 1278.3,144.9 1278.4,137.5 1278.5,144.7 1278.7,140.5 1278.8,139.0 1278.9,152.8 1279.0,149.8 1279.2,149.2 1279.3,148.7 1279.4,157.4 1279.5,135.9 1279.7,159.5 1279.8,145.4 1279.9,142.5 1280.0,143.7 1280.2,143.3 1280.3,148.9 1280.4,155.7 1280.5,144.7 1280.7,156.6 1280.8,147.6 1280.9,151.4 1281.0,161.9 1281.2,149.7 1281.3,144.4 1281.4,153.2 1281.5,155.9 1281.7,150.7 1281.8,150.8 1281.9,158.4 1282.0,147.7 1282.2,153.6 1282.3,149.2 1282.4,159.6 1282.5,152.5 1282.7,158.4 1282.8,155.9 1282.9,155.9 1283.0,150.7 1283.2,166.0 1283.3,153.7 1283.4,156.7 1283.5,149.0 1283.7,158.9 1283.8,152.8 1283.9,151.3 1284.0,166.5 1284.2,165.0 1284.3,162.0 1284.4,161.6 1284.5,164.7 1284.7,160.9 1284.8,162.9 1284.9,154.5 1285.0,159.4 1285.2,161.3 1285.3,149.2 1285.4,154.3 1285.5,157.3 1285.7,177.9 1285.8,152.5 1285.9,150.7 1286.0,170.5 1286.2,157.9 1286.3,169.8 1286.4,165.9 1286.5,179.6 1286.7,167.0 1286.8,174.4 1286.9,166.3 1287.0,168.1 1287.2,167.6 1287.3,167.0 1287.4,180.5 1287.5,182.4 1287.7,167.3 1287.8,164.8 1287.9,168.8 1288.0,177.7 1288.2,186.5 1288.3,166.2 1288.4,147.3 1288.5,183.0 1288.7,178.0 1288.8,166.8 1288.9,164.2 1289.0,173.6 1289.2,175.6 1289.3,159.2 1289.4,160.2 1289.5,154.6 1289.7,172.8 1289.8,151.2 1289.9,149.6 1290.0,162.4 1290.2,157.4 1290.3,150.9 1290.4,157.4 1290.5,151.7 1290.7,148.0 1290.8,150.3 1290.9,151.1 1291.0,147.3 1291.2,148.5 1291.3,145.0 1291.4,146.9 1291.5,134.8 1291.7,153.8 1291.8,147.8 1291.9,142.1 1292.0,144.0 1292.2,152.7 1292.3,142.5 1292.4,128.9 1292.5,141.2 1292.7,123.8 1292.8,136.2 1292.9,148.1 1293.0,128.8 1293.2,124.8 1293.3,133.6 1293.4,138.8 1293.5,149.3 1293.7,133.3 1293.8,134.5 1293.9,125.4 1294.0,148.1 1294.2,132.7 1294.3,137.1 1294.4,141.1 1294.5,132.0 1294.7,125.9 1294.8,128.8 1294.9,131.3 1295.0,138.2 1295.2,139.2 1295.3,127.1 1295.4,127.9 1295.5,119.7 1295.7,130.2 1295.8,143.7 1295.9,132.8 1296.0,126.7 1296.2,140.4 1296.3,131.9 1296.4,137.0 1296.5,140.2 1296.7,117.7 1296.8,127.8 1296.9,125.4 1297.0,136.8 1297.2,126.4 1297.3,128.2 1297.4,112.7 1297.5,123.5 1297.7,122.5 1297.8,119.4 1297.9,128.2 1298.0,124.8 1298.2,128.4 1298.3,133.8 1298.4,129.9 1298.5,127.1 1298.7,129.2 1298.8,118.5 1298.9,123.8 1299.0,122.5 1299.2,140.2 1299.3,117.4 1299.4,123.8 1299.5,130.6 1299.7,122.9 1299.8,131.3 1299.9,118.0 1300.0,133.7 1300.2,127.8 1300.3,112.7 1300.4,116.0 1300.5,117.2 1300.7,124.3 1300.8,123.7 1300.9,128.5 1301.0,130.7 1301.2,130.3 1301.3,129.4 1301.4,120.2 1301.5,115.5 1301.7,117.5 1301.8,129.0 1301.9,119.7 1302.0,118.4 1302.2,120.9 1302.3,130.1 1302.4,118.3 1302.5,126.4 1302.7,132.9 1302.8,133.9 1302.9,116.7 1303.0,128.5 1303.2,125.0 1303.3,141.5 1303.4,127.7 1303.5,120.3 1303.7,125.6 1303.8,130.0 1303.9,127.1 1304.0,135.3 1304.2,128.2 1304.3,131.3 1304.4,143.2 1304.5,134.3 1304.7,137.1 1304.8,132.2 1304.9,120.3 1305.0,143.2 1305.2,129.7 1305.3,137.2 1305.4,124.2 1305.5,134.1 1305.7,140.4 1305.8,127.0 1305.9,145.4 1306.0,140.4 1306.2,136.9 1306.3,133.1 1306.4,140.7 1306.5,123.9 1306.7,143.2 1306.8,124.3 1306.9,132.9 1307.0,144.5 1307.2,138.6 1307.3,125.2 1307.4,126.6 1307.5,129.3 1307.7,134.2 1307.8,132.5 1307.9,144.3 1308.0,136.2 1308.2,150.0 1308.3,147.7 1308.4,131.1 1308.5,147.8 1308.7,148.4 1308.8,132.4 1308.9,138.0 1309.0,135.0 1309.2,134.1 1309.3,140.7 1309.4,143.4 1309.5,136.1 1309.7,130.9 1309.8,146.4 1309.9,151.5 1310.0,150.5 1310.2,133.1 1310.3,139.7 1310.4,141.2 1310.5,138.9 1310.7,151.4 1310.8,137.9 1310.9,142.4 1311.0,147.4 1311.2,145.5 1311.3,147.1 1311.4,144.5 1311.5,149.4 1311.7,148.1 1311.8,146.3 1311.9,150.3 1312.0,149.4 1312.2,151.9 1312.3,150.2 1312.4,150.2 1312.5,149.6 1312.7,139.2 1312.8,142.5 1312.9,144.2 1313.0,140.9 1313.2,142.7 1313.3,140.9 1313.4,140.7 1313.5,150.6 1313.7,165.5 1313.8,165.9 1313.9,147.6 1314.0,148.5 1314.2,145.2 1314.3,145.6 1314.4,154.3 1314.5,152.9 1314.7,151.5 1314.8,158.8 1314.9,143.6 1315.0,169.4 1315.2,150.4 1315.3,137.2 1315.4,162.0 1315.5,137.3 1315.7,156.0 1315.8,139.1 1315.9,139.1 1316.0,158.5 1316.2,150.3 1316.3,145.6 1316.4,137.0 1316.5,126.8 1316.7,139.3 1316.8,142.2 1316.9,153.0 1317.0,143.1 1317.2,153.3 1317.3,136.7 1317.4,151.4 1317.5,150.2 1317.7,138.6 1317.8,149.2 1317.9,157.5 1318.0,125.8 1318.2,126.0 1318.3,132.1 1318.4,132.9 1318.5,128.5 1318.7,139.3 1318.8,123.5 1318.9,154.7 1319.0,135.3 1319.2,137.6 1319.3,133.3 1319.4,129.1 1319.5,134.9 1319.7,132.0 1319.8,136.0 1319.9,138.7 1320.0,124.5 1320.2,116.0 1320.3,124.9 1320.4,131.9 1320.5,114.3 1320.7,132.3 1320.8,128.9 1320.9,117.5 1321.0,128.6 1321.2,133.2 1321.3,125.2 1321.4,128.7 1321.5,128.7 1321.7,132.1 1321.8,132.0" fill="none" stroke="#4682b4" stroke-width="0.9" stroke-linejoin="bevel"/>
<path d="M157.4,326.80 157.9,336.23 158.4,345.82 158.9,355.45 159.4,364.96 159.9,374.22 160.4,383.09 160.9,391.45 161.4,399.18 161.9,406.15 162.4,412.27 162.9,417.45 163.4,421.61 163.9,424.70 164.4,426.66 164.9,427.48 165.4,427.28 165.9,426.39 166.4,424.82 166.9,422.59 167.4,419.71 167.9,416.22 168.4,412.13 168.9,407.49 169.4,402.34 169.9,396.72 170.4,390.67 170.9,384.26 171.4,377.54 171.9,370.56 172.4,363.38 172.9,356.07 173.4,348.69 173.9,341.30 174.4,333.97 174.9,326.77 175.4,319.74 175.9,312.96 176.4,306.48 176.9,300.36 177.4,294.65 177.9,289.40 178.4,284.65 178.9,280.45 179.4,276.84 179.9,273.83 180.4,271.47 180.9,269.77 181.4,268.74 181.9,268.40 182.4,268.48 182.9,268.70 183.4,269.08 183.9,269.61 184.4,270.28 184.9,271.09 185.4,272.04 185.9,273.13 186.4,274.35 186.9,275.68 187.4,277.14 187.9,278.70 188.4,280.37 188.9,282.13 189.4,283.97 189.9,285.90 190.4,287.88 190.9,289.93 191.4,292.02 191.9,294.16 192.4,296.32 192.9,298.49 193.4,300.67 193.9,302.85 194.4,305.01 194.9,307.15 195.4,309.25 195.9,311.31 196.4,313.31 196.9,315.25 197.4,317.11 197.9,318.89 198.4,320.57 198.9,322.16 199.4,323.63 199.9,325.00 200.4,326.24 200.9,327.35 201.4,328.33 201.9,329.17 202.4,329.87 202.9,330.43 203.4,330.83 203.9,331.09 204.4,331.20 204.9,331.16 205.4,331.01 205.9,330.74 206.4,330.36 206.9,329.87 207.4,329.27 207.9,328.57 208.4,327.77 208.9,326.88 209.4,325.91 209.9,324.86 210.4,323.75 210.9,322.58 211.4,321.35 211.9,320.09 212.4,318.80 212.9,317.49 213.4,316.17 213.9,314.85 214.4,313.54 214.9,312.25 215.4,311.00 215.9,309.78 216.4,308.62 216.9,307.52 217.4,306.49 217.9,305.53 218.4,304.66 218.9,303.88 219.4,303.20 219.9,302.62 220.4,302.15 220.9,301.79 221.4,301.55 221.9,301.42 222.4,301.41 222.9,301.50 223.4,301.70 223.9,302.00 224.4,302.40 224.9,302.89 225.4,303.48 225.9,304.14 226.4,304.89 226.9,305.70 227.4,306.57 227.9,307.50 228.4,308.47 228.9,309.48 229.4,310.50 229.9,311.54 230.4,312.58 230.9,313.62 231.4,314.63 231.9,315.61 232.4,316.56 232.9,317.46 233.4,318.30 233.9,319.07 234.4,319.77 234.9,320.38 235.4,320.91 235.9,321.35 236.4,321.69 236.9,321.93 237.4,322.07 237.9,322.10 238.4,322.05 238.9,321.92 239.4,321.72 239.9,321.46 240.4,321.12 240.9,320.73 241.4,320.28 241.9,319.77 242.4,319.23 242.9,318.64 243.4,318.02 243.9,317.38 244.4,316.73 244.9,316.07 245.4,315.41 245.9,314.76 246.4,314.13 246.9,313.52 247.4,312.95 247.9,312.42 248.4,311.94 248.9,311.51 249.4,311.14 249.9,310.83 250.4,310.59 250.9,310.42 251.4,310.32 251.9,310.30 252.4,310.35 252.9,310.46 253.4,310.65 253.9,310.89 254.4,311.19 254.9,311.55 255.4,311.96 255.9,312.41 256.4,312.89 256.9,313.40 257.4,313.94 257.9,314.48 258.4,315.03 258.9,315.57 259.4,316.10 259.9,316.61 260.4,317.09 260.9,317.53 261.4,317.93 261.9,318.27 262.4,318.56 262.9,318.80 263.4,318.96 263.9,319.07 264.4,319.10 264.9,319.07 265.4,318.96 265.9,318.79 266.4,318.55 266.9,318.25 267.4,317.89 267.9,317.47 268.4,317.01 268.9,316.51 269.4,315.96 269.9,315.39 270.4,314.80 270.9,314.19 271.4,313.58 271.9,312.96 272.4,312.36 272.9,311.78 273.4,311.22 273.9,310.69 274.4,310.20 274.9,309.75 275.4,309.36 275.9,309.02 276.4,308.75 276.9,308.53 277.4,308.39 277.9,308.31 278.4,308.31 278.9,308.37 279.4,308.49 279.9,308.69 280.4,308.95 280.9,309.26 281.4,309.64 281.9,310.07 282.4,310.54 282.9,311.06 283.4,311.61 283.9,312.20 284.4,312.80 284.9,313.43 285.4,314.06 285.9,314.69 286.4,315.32 286.9,315.94 287.4,316.54 287.9,317.11 288.4,317.65 288.9,318.16 289.4,318.61 289.9,319.02 290.4,319.37 290.9,319.66 291.4,319.90 291.9,320.06 292.4,320.17 292.9,320.20 293.4,320.17 293.9,320.07 294.4,319.90 294.9,319.67 295.4,319.37 295.9,319.02 296.4,318.61 296.9,318.16 297.4,317.66 297.9,317.11 298.4,316.54 298.9,315.93 299.4,315.30 299.9,314.66 300.4,314.02 300.9,313.37 301.4,312.72 301.9,312.09 302.4,311.48 302.9,310.90 303.4,310.35 303.9,309.84 304.4,309.37 304.9,308.96 305.4,308.59 305.9,308.29 306.4,308.04 306.9,307.86 307.4,307.75 307.9,307.70 308.4,307.72 308.9,307.82 309.4,307.98 309.9,308.21 310.4,308.51 310.9,308.87 311.4,309.28 311.9,309.76 312.4,310.28 312.9,310.84 313.4,311.45 313.9,312.08 314.4,312.74 314.9,313.41 315.4,314.09 315.9,314.78 316.4,315.46 316.9,316.13 317.4,316.78 317.9,317.40 318.4,317.99 318.9,318.54 319.4,319.04 319.9,319.49 320.4,319.89 320.9,320.22 321.4,320.49 321.9,320.70 322.4,320.83 322.9,320.89 323.4,320.89 323.9,320.81 324.4,320.66 324.9,320.45 325.4,320.17 325.9,319.83 326.4,319.43 326.9,318.97 327.4,318.47 327.9,317.92 328.4,317.33 328.9,316.71 329.4,316.07 329.9,315.41 330.4,314.74 330.9,314.06 331.4,313.39 331.9,312.73 332.4,312.09 332.9,311.47 333.4,310.88 333.9,310.33 334.4,309.83 334.9,309.37 335.4,308.97 335.9,308.63 336.4,308.35 336.9,308.14 337.4,307.99 337.9,307.91 338.4,307.91 338.9,307.96 339.4,308.09 339.9,308.27 340.4,308.52 340.9,308.83 341.4,309.19 341.9,309.61 342.4,310.07 342.9,310.57 343.4,311.11 343.9,311.68 344.4,312.27 344.9,312.89 345.4,313.51 345.9,314.14 346.4,314.77 346.9,315.38 347.4,315.99 347.9,316.57 348.4,317.12 348.9,317.64 349.4,318.12 349.9,318.55 350.4,318.93 350.9,319.26 351.4,319.53 351.9,319.75 352.4,319.89 352.9,319.98 353.4,320.00 353.9,319.96 354.4,319.87 354.9,319.72 355.4,319.52 355.9,319.28 356.4,318.98 356.9,318.64 357.4,318.26 357.9,317.84 358.4,317.39 358.9,316.91 359.4,316.41 359.9,315.89 360.4,315.36 360.9,314.82 361.4,314.27 361.9,313.73 362.4,313.20 362.9,312.69 363.4,312.19 363.9,311.71 364.4,311.27 364.9,310.86 365.4,310.49 365.9,310.16 366.4,309.87 366.9,309.63 367.4,309.44 367.9,309.31 368.4,309.23 368.9,309.20 369.4,309.23 369.9,309.31 370.4,309.44 370.9,309.62 371.4,309.85 371.9,310.13 372.4,310.46 372.9,310.82 373.4,311.22 373.9,311.66 374.4,312.12 374.9,312.61 375.4,313.12 375.9,313.64 376.4,314.17 376.9,314.71 377.4,315.24 377.9,315.77 378.4,316.29 378.9,316.79 379.4,317.27 379.9,317.72 380.4,318.14 380.9,318.53 381.4,318.88 381.9,319.18 382.4,319.45 382.9,319.66 383.4,319.82 383.9,319.93 384.4,319.99 384.9,320.00 385.4,319.94 385.9,319.83 386.4,319.67 386.9,319.45 387.4,319.18 387.9,318.85 388.4,318.48 388.9,318.07 389.4,317.62 389.9,317.13 390.4,316.61 390.9,316.07 391.4,315.50 391.9,314.92 392.4,314.33 392.9,313.73 393.4,313.14 393.9,312.55 394.4,311.97 394.9,311.41 395.4,310.88 395.9,310.37 396.4,309.90 396.9,309.46 397.4,309.06 397.9,308.71 398.4,308.41 398.9,308.16 399.4,307.96 399.9,307.82 400.4,307.73 400.9,307.70 401.4,307.73 401.9,307.83 402.4,307.99 402.9,308.22 403.4,308.51 403.9,308.85 404.4,309.25 404.9,309.70 405.4,310.20 405.9,310.74 406.4,311.32 406.9,311.93 407.4,312.56 407.9,313.22 408.4,313.89 408.9,314.56 409.4,315.24 409.9,315.92 410.4,316.58 410.9,317.22 411.4,317.84 411.9,318.43 412.4,318.99 412.9,319.50 413.4,319.97 413.9,320.39 414.4,320.76 414.9,321.07 415.4,321.32 415.9,321.51 416.4,321.64 416.9,321.69 417.4,321.69 417.9,321.61 418.4,321.47 418.9,321.26 419.4,320.98 419.9,320.64 420.4,320.25 420.9,319.79 421.4,319.29 421.9,318.74 422.4,318.15 422.9,317.52 423.4,316.86 423.9,316.18 424.4,315.49 424.9,314.78 425.4,314.07 425.9,313.36 426.4,312.65 426.9,311.97 427.4,311.31 427.9,310.68 428.4,310.08 428.9,309.52 429.4,309.00 429.9,308.54 430.4,308.13 430.9,307.78 431.4,307.49 431.9,307.27 432.4,307.11 432.9,307.02 433.4,307.00 433.9,307.05 434.4,307.17 434.9,307.36 435.4,307.61 435.9,307.93 436.4,308.31 436.9,308.75 437.4,309.24 437.9,309.78 438.4,310.36 438.9,310.98 439.4,311.63 439.9,312.30 440.4,313.00 440.9,313.70 441.4,314.40 441.9,315.10 442.4,315.80 442.9,316.47 443.4,317.12 443.9,317.74 444.4,318.32 444.9,318.86 445.4,319.35 445.9,319.79 446.4,320.17 446.9,320.49 447.4,320.74 447.9,320.93 448.4,321.05 448.9,321.10 449.4,321.08 449.9,321.00 450.4,320.85 450.9,320.64 451.4,320.38 451.9,320.05 452.4,319.67 452.9,319.25 453.4,318.77 453.9,318.25 454.4,317.70 454.9,317.11 455.4,316.50 455.9,315.87 456.4,315.22 456.9,314.56 457.4,313.90 457.9,313.25 458.4,312.60 458.9,311.97 459.4,311.37 459.9,310.79 460.4,310.24 460.9,309.73 461.4,309.26 461.9,308.85 462.4,308.48 462.9,308.17 463.4,307.91 463.9,307.71 464.4,307.58 464.9,307.51 465.4,307.51 465.9,307.56 466.4,307.69 466.9,307.88 467.4,308.13 467.9,308.44 468.4,308.81 468.9,309.24 469.4,309.71 469.9,310.22 470.4,310.77 470.9,311.36 471.4,311.98 471.9,312.61 472.4,313.26 472.9,313.92 473.4,314.58 473.9,315.23 474.4,315.87 474.9,316.50 475.4,317.09 475.9,317.66 476.4,318.19 476.9,318.68 477.4,319.12 477.9,319.51 478.4,319.85 478.9,320.13 479.4,320.34 479.9,320.49 480.4,320.58 480.9,320.60 481.4,320.55 481.9,320.44 482.4,320.25 482.9,320.01 483.4,319.70 483.9,319.33 484.4,318.91 484.9,318.44 485.4,317.92 485.9,317.36 486.4,316.77 486.9,316.15 487.4,315.51 487.9,314.86 488.4,314.20 488.9,313.54 489.4,312.89 489.9,312.25 490.4,311.63 490.9,311.04 491.4,310.48 491.9,309.96 492.4,309.49 492.9,309.07 493.4,308.70 493.9,308.39 494.4,308.15 494.9,307.96 495.4,307.85 495.9,307.80 496.4,307.82 496.9,307.92 497.4,308.08 497.9,308.32 498.4,308.62 498.9,308.98 499.4,309.41 499.9,309.88 500.4,310.41 500.9,310.98 501.4,311.58 501.9,312.21 502.4,312.86 502.9,313.53 503.4,314.20 503.9,314.87 504.4,315.53 504.9,316.17 505.4,316.78 505.9,317.37 506.4,317.91 506.9,318.41 507.4,318.85 507.9,319.24 508.4,319.57 508.9,319.83 509.4,320.02 509.9,320.15 510.4,320.20 510.9,320.18 511.4,320.08 511.9,319.90 512.4,319.66 512.9,319.34 513.4,318.96 513.9,318.52 514.4,318.02 514.9,317.47 515.4,316.88 515.9,316.26 516.4,315.61 516.9,314.94 517.4,314.26 517.9,313.57 518.4,312.89 518.9,312.23 519.4,311.59 519.9,310.98 520.4,310.40 520.9,309.87 521.4,309.40 521.9,308.98 522.4,308.62 522.9,308.34 523.4,308.12 523.9,307.97 524.4,307.91 524.9,307.91 525.4,307.99 525.9,308.15 526.4,308.37 526.9,308.66 527.4,309.02 527.9,309.43 528.4,309.90 528.9,310.42 529.4,310.98 529.9,311.57 530.4,312.19 530.9,312.83 531.4,313.49 531.9,314.14 532.4,314.79 532.9,315.43 533.4,316.05 533.9,316.64 534.4,317.19 534.9,317.70 535.4,318.16 535.9,318.56 536.4,318.90 536.9,319.18 537.4,319.39 537.9,319.53 538.4,319.59 538.9,319.59 539.4,319.51 539.9,319.36 540.4,319.15 540.9,318.86 541.4,318.52 541.9,318.12 542.4,317.67 542.9,317.17 543.4,316.63 543.9,316.05 544.4,315.45 544.9,314.83 545.4,314.20 545.9,313.57 546.4,312.94 546.9,312.33 547.4,311.73 547.9,311.16 548.4,310.63 548.9,310.14 549.4,309.70 549.9,309.31 550.4,308.97 550.9,308.71 551.4,308.50 551.9,308.37 552.4,308.31 552.9,308.31 553.4,308.40 553.9,308.56 554.4,308.80 554.9,309.11 555.4,309.49 555.9,309.93 556.4,310.42 556.9,310.96 557.4,311.54 557.9,312.16 558.4,312.79 558.9,313.44 559.4,314.09 559.9,314.74 560.4,315.37 560.9,315.98 561.4,316.55 561.9,317.08 562.4,317.56 562.9,317.99 563.4,318.35 563.9,318.65 564.4,318.87 564.9,319.02 565.4,319.09 565.9,319.09 566.4,319.02 566.9,318.88 567.4,318.68 567.9,318.43 568.4,318.11 568.9,317.75 569.4,317.34 569.9,316.88 570.4,316.40 570.9,315.88 571.4,315.34 571.9,314.79 572.4,314.24 572.9,313.68 573.4,313.14 573.9,312.61 574.4,312.10 574.9,311.63 575.4,311.19 575.9,310.80 576.4,310.46 576.9,310.16 577.4,309.93 577.9,309.76 578.4,309.65 578.9,309.60 579.4,309.62 579.9,309.70 580.4,309.85 580.9,310.06 581.4,310.32 581.9,310.64 582.4,311.01 582.9,311.42 583.4,311.88 583.9,312.36 584.4,312.87 584.9,313.40 585.4,313.93 585.9,314.47 586.4,315.01 586.9,315.54 587.4,316.04 587.9,316.52 588.4,316.96 588.9,317.37 589.4,317.73 589.9,318.04 590.4,318.29 590.9,318.48 591.4,318.62 591.9,318.69 592.4,318.69 592.9,318.64 593.4,318.52 593.9,318.33 594.4,318.09 594.9,317.79 595.4,317.44 595.9,317.05 596.4,316.60 596.9,316.13 597.4,315.62 597.9,315.09 598.4,314.54 598.9,313.98 599.4,313.41 599.9,312.85 600.4,312.31 600.9,311.78 601.4,311.28 601.9,310.80 602.4,310.37 602.9,309.98 603.4,309.64 603.9,309.35 604.4,309.12 604.9,308.95 605.4,308.85 605.9,308.80 606.4,308.82 606.9,308.92 607.4,309.10 607.9,309.35 608.4,309.67 608.9,310.05 609.4,310.50 609.9,311.00 610.4,311.55 610.9,312.14 611.4,312.76 611.9,313.40 612.4,314.06 612.9,314.73 613.4,315.40 613.9,316.06 614.4,316.70 614.9,317.30 615.4,317.88 615.9,318.41 616.4,318.89 616.9,319.31 617.4,319.67 617.9,319.96 618.4,320.18 618.9,320.32 619.4,320.39 619.9,320.39 620.4,320.30 620.9,320.13 621.4,319.89 621.9,319.57 622.4,319.19 622.9,318.74 623.4,318.23 623.9,317.67 624.4,317.06 624.9,316.41 625.4,315.74 625.9,315.04 626.4,314.33 626.9,313.62 627.4,312.92 627.9,312.22 628.4,311.55 628.9,310.92 629.4,310.32 629.9,309.77 630.4,309.27 630.9,308.83 631.4,308.46 631.9,308.16 632.4,307.93 632.9,307.78 633.4,307.71 633.9,307.71 634.4,307.79 634.9,307.94 635.4,308.15 635.9,308.43 636.4,308.77 636.9,309.17 637.4,309.62 637.9,310.12 638.4,310.66 638.9,311.23 639.4,311.83 639.9,312.45 640.4,313.08 640.9,313.72 641.4,314.35 641.9,314.97 642.4,315.57 642.9,316.14 643.4,316.68 643.9,317.18 644.4,317.63 644.9,318.03 645.4,318.37 645.9,318.65 646.4,318.86 646.9,319.01 647.4,319.09 647.9,319.09 648.4,319.04 648.9,318.92 649.4,318.74 649.9,318.50 650.4,318.20 650.9,317.85 651.4,317.46 651.9,317.02 652.4,316.55 652.9,316.05 653.4,315.53 653.9,314.99 654.4,314.45 654.9,313.91 655.4,313.37 655.9,312.85 656.4,312.35 656.9,311.88 657.4,311.44 657.9,311.05 658.4,310.70 658.9,310.40 659.4,310.16 659.9,309.98 660.4,309.86 660.9,309.81 661.4,309.81 661.9,309.89 662.4,310.04 662.9,310.26 663.4,310.55 663.9,310.90 664.4,311.30 664.9,311.75 665.4,312.25 665.9,312.78 666.4,313.35 666.9,313.93 667.4,314.52 667.9,315.12 668.4,315.71 668.9,316.28 669.4,316.83 669.9,317.35 670.4,317.83 670.9,318.27 671.4,318.65 671.9,318.97 672.4,319.23 672.9,319.43 673.4,319.55 673.9,319.60 674.4,319.58 674.9,319.48 675.4,319.32 675.9,319.09 676.4,318.79 676.9,318.43 677.4,318.02 677.9,317.55 678.4,317.03 678.9,316.47 679.4,315.88 679.9,315.26 680.4,314.63 680.9,313.98 681.4,313.32 681.9,312.67 682.4,312.04 682.9,311.42 683.4,310.83 683.9,310.27 684.4,309.75 684.9,309.28 685.4,308.87 685.9,308.51 686.4,308.21 686.9,307.98 687.4,307.82 687.9,307.72 688.4,307.70 688.9,307.76 689.4,307.89 689.9,308.10 690.4,308.38 690.9,308.73 691.4,309.15 691.9,309.63 692.4,310.16 692.9,310.74 693.4,311.37 693.9,312.02 694.4,312.70 694.9,313.39 695.4,314.09 695.9,314.79 696.4,315.48 696.9,316.15 697.4,316.79 697.9,317.39 698.4,317.96 698.9,318.47 699.4,318.92 699.9,319.32 700.4,319.64 700.9,319.89 701.4,320.07 701.9,320.17 702.4,320.20 702.9,320.15 703.4,320.02 703.9,319.82 704.4,319.55 704.9,319.22 705.4,318.82 705.9,318.36 706.4,317.85 706.9,317.30 707.4,316.71 707.9,316.09 708.4,315.44 708.9,314.78 709.4,314.12 709.9,313.45 710.4,312.80 710.9,312.16 711.4,311.55 711.9,310.97 712.4,310.44 712.9,309.95 713.4,309.52 713.9,309.14 714.4,308.83 714.9,308.59 715.4,308.42 715.9,308.32 716.4,308.30 716.9,308.36 717.4,308.49 717.9,308.70 718.4,308.98 718.9,309.33 719.4,309.75 719.9,310.23 720.4,310.76 720.9,311.33 721.4,311.95 721.9,312.60 722.4,313.28 722.9,313.96 723.4,314.66 723.9,315.35 724.4,316.03 724.9,316.69 725.4,317.32 725.9,317.92 726.4,318.47 726.9,318.97 727.4,319.41 727.9,319.79 728.4,320.10 728.9,320.34 729.4,320.50 729.9,320.59 730.4,320.59 730.9,320.51 731.4,320.34 731.9,320.09 732.4,319.75 732.9,319.34 733.4,318.85 733.9,318.29 734.4,317.67 734.9,317.00 735.4,316.28 735.9,315.53 736.4,314.74 736.9,313.95 737.4,313.14 737.9,312.33 738.4,311.54 738.9,310.77 739.4,310.03 739.9,309.33 740.4,308.68 740.9,308.08 741.4,307.55 741.9,307.09 742.4,306.70 742.9,306.40 743.4,306.18 743.9,306.04 744.4,306.00 744.9,306.05 745.4,306.21 745.9,306.47 746.4,306.83 746.9,307.28 747.4,307.82 747.9,308.45 748.4,309.16 748.9,309.93 749.4,310.76 749.9,311.64 750.4,312.56 750.9,313.50 751.4,314.47 751.9,315.43 752.4,316.40 752.9,317.34 753.4,318.26 753.9,319.14 754.4,319.97 754.9,320.74 755.4,321.45 755.9,322.08 756.4,322.62 756.9,323.07 757.4,323.43 757.9,323.69 758.4,323.85 758.9,323.90 759.4,323.85 759.9,323.70 760.4,323.45 760.9,323.10 761.4,322.66 761.9,322.13 762.4,321.52 762.9,320.83 763.4,320.07 763.9,319.26 764.4,318.39 764.9,317.48 765.4,316.54 765.9,315.57 766.4,314.60 766.9,313.62 767.4,312.65 767.9,311.71 768.4,310.79 768.9,309.91 769.4,309.09 769.9,308.32 770.4,307.62 770.9,306.99 771.4,306.44 771.9,305.98 772.4,305.62 772.9,305.35 773.4,305.17 773.9,305.10 774.4,305.13 774.9,305.25 775.4,305.47 775.9,305.78 776.4,306.18 776.9,306.66 777.4,307.22 777.9,307.86 778.4,308.56 778.9,309.31 779.4,310.12 779.9,310.97 780.4,311.85 780.9,312.76 781.4,313.67 781.9,314.59 782.4,315.51 782.9,316.40 783.4,317.27 783.9,318.11 784.4,318.90 784.9,319.63 785.4,320.30 785.9,320.91 786.4,321.44 786.9,321.89 787.4,322.25 787.9,322.53 788.4,322.71 788.9,322.79 789.4,322.78 789.9,322.69 790.4,322.51 790.9,322.24 791.4,321.90 791.9,321.48 792.4,320.99 792.9,320.43 793.4,319.81 793.9,319.14 794.4,318.42 794.9,317.67 795.4,316.89 795.9,316.09 796.4,315.28 796.9,314.47 797.4,313.67 797.9,312.88 798.4,312.12 798.9,311.40 799.4,310.72 799.9,310.09 800.4,309.52 800.9,309.01 801.4,308.58 801.9,308.22 802.4,307.94 802.9,307.74 803.4,307.63 803.9,307.60 804.4,307.66 804.9,307.80 805.4,308.01 805.9,308.31 806.4,308.67 806.9,309.10 807.4,309.59 807.9,310.14 808.4,310.73 808.9,311.36 809.4,312.01 809.9,312.69 810.4,313.38 810.9,314.07 811.4,314.75 811.9,315.41 812.4,316.05 812.9,316.65 813.4,317.20 813.9,317.71 814.4,318.15 814.9,318.53 815.4,318.83 815.9,319.07 816.4,319.22 816.9,319.29 817.4,319.29 817.9,319.21 818.4,319.06 818.9,318.84 819.4,318.55 819.9,318.20 820.4,317.80 820.9,317.34 821.4,316.84 821.9,316.29 822.4,315.71 822.9,315.11 823.4,314.49 823.9,313.86 824.4,313.23 824.9,312.61 825.4,312.00 825.9,311.42 826.4,310.87 826.9,310.36 827.4,309.89 827.9,309.47 828.4,309.11 828.9,308.81 829.4,308.58 829.9,308.42 830.4,308.32 830.9,308.30 831.4,308.36 831.9,308.50 832.4,308.73 832.9,309.03 833.4,309.41 833.9,309.86 834.4,310.37 834.9,310.94 835.4,311.56 835.9,312.22 836.4,312.91 836.9,313.63 837.4,314.36 837.9,315.09 838.4,315.82 838.9,316.53 839.4,317.21 839.9,317.87 840.4,318.48 840.9,319.04 841.4,319.54 841.9,319.97 842.4,320.33 842.9,320.62 843.4,320.83 843.9,320.96 844.4,321.00 844.9,320.96 845.4,320.86 845.9,320.68 846.4,320.43 846.9,320.11 847.4,319.74 847.9,319.30 848.4,318.81 848.9,318.27 849.4,317.69 849.9,317.07 850.4,316.42 850.9,315.75 851.4,315.07 851.9,314.37 852.4,313.67 852.9,312.98 853.4,312.31 853.9,311.66 854.4,311.03 854.9,310.44 855.4,309.89 855.9,309.39 856.4,308.95 856.9,308.56 857.4,308.23 857.9,307.97 858.4,307.77 858.9,307.65 859.4,307.60 859.9,307.63 860.4,307.73 860.9,307.91 861.4,308.17 861.9,308.50 862.4,308.90 862.9,309.37 863.4,309.89 863.9,310.46 864.4,311.07 864.9,311.72 865.4,312.40 865.9,313.10 866.4,313.80 866.9,314.50 867.4,315.20 867.9,315.88 868.4,316.53 868.9,317.14 869.4,317.71 869.9,318.23 870.4,318.70 870.9,319.10 871.4,319.43 871.9,319.69 872.4,319.87 872.9,319.97 873.4,320.00 873.9,319.95 874.4,319.84 874.9,319.65 875.4,319.41 875.9,319.10 876.4,318.74 876.9,318.32 877.4,317.86 877.9,317.35 878.4,316.81 878.9,316.24 879.4,315.64 879.9,315.03 880.4,314.41 880.9,313.79 881.4,313.18 881.9,312.58 882.4,312.00 882.9,311.45 883.4,310.94 883.9,310.47 884.4,310.04 884.9,309.67 885.4,309.35 885.9,309.09 886.4,308.90 886.9,308.77 887.4,308.71 887.9,308.71 888.4,308.80 888.9,308.96 889.4,309.19 889.9,309.50 890.4,309.87 890.9,310.30 891.4,310.79 891.9,311.33 892.4,311.91 892.9,312.53 893.4,313.18 893.9,313.84 894.4,314.51 894.9,315.19 895.4,315.86 895.9,316.51 896.4,317.14 896.9,317.74 897.4,318.30 897.9,318.81 898.4,319.27 898.9,319.66 899.4,319.99 899.9,320.26 900.4,320.45 900.9,320.56 901.4,320.60 901.9,320.56 902.4,320.44 902.9,320.24 903.4,319.96 903.9,319.60 904.4,319.18 904.9,318.69 905.4,318.14 905.9,317.54 906.4,316.89 906.9,316.20 907.4,315.48 907.9,314.74 908.4,313.98 908.9,313.22 909.4,312.46 909.9,311.71 910.4,310.98 910.9,310.28 911.4,309.61 911.9,308.99 912.4,308.42 912.9,307.91 913.4,307.46 913.9,307.08 914.4,306.77 914.9,306.53 915.4,306.38 915.9,306.31 916.4,306.32 916.9,306.42 917.4,306.62 917.9,306.92 918.4,307.30 918.9,307.77 919.4,308.32 919.9,308.94 920.4,309.62 920.9,310.37 921.4,311.17 921.9,312.00 922.4,312.87 922.9,313.76 923.4,314.66 923.9,315.56 924.4,316.45 924.9,317.33 925.4,318.17 925.9,318.97 926.4,319.73 926.9,320.43 927.4,321.07 927.9,321.63 928.4,322.11 928.9,322.51 929.4,322.82 929.9,323.04 930.4,323.17 930.9,323.20 931.4,323.13 931.9,322.95 932.4,322.68 932.9,322.32 933.4,321.86 933.9,321.31 934.4,320.68 934.9,319.98 935.4,319.21 935.9,318.39 936.4,317.51 936.9,316.59 937.4,315.65 937.9,314.68 938.4,313.70 938.9,312.73 939.4,311.76 939.9,310.82 940.4,309.91 940.9,309.04 941.4,308.23 941.9,307.47 942.4,306.78 942.9,306.17 943.4,305.64 943.9,305.20 944.4,304.85 944.9,304.60 945.4,304.45 945.9,304.40 946.4,304.46 946.9,304.65 947.4,304.97 947.9,305.40 948.4,305.95 948.9,306.61 949.4,307.37 949.9,308.22 950.4,309.16 950.9,310.16 951.4,311.22 951.9,312.33 952.4,313.47 952.9,314.63 953.4,315.80 953.9,316.96 954.4,318.09 954.9,319.19 955.4,320.25 955.9,321.24 956.4,322.16 956.9,322.99 957.4,323.73 957.9,324.37 958.4,324.89 958.9,325.30 959.4,325.59 959.9,325.76 960.4,325.80 960.9,325.70 961.4,325.47 961.9,325.10 962.4,324.60 962.9,323.97 963.4,323.23 963.9,322.38 964.4,321.42 964.9,320.37 965.4,319.25 965.9,318.05 966.4,316.80 966.9,315.51 967.4,314.19 967.9,312.85 968.4,311.51 968.9,310.19 969.4,308.90 969.9,307.65 970.4,306.45 970.9,305.33 971.4,304.28 971.9,303.32 972.4,302.47 972.9,301.73 973.4,301.10 973.9,300.60 974.4,300.23 974.9,300.00 975.4,299.90 975.9,299.95 976.4,300.16 976.9,300.52 977.4,301.04 977.9,301.70 978.4,302.51 978.9,303.45 979.4,304.52 979.9,305.69 980.4,306.97 980.9,308.34 981.4,309.78 981.9,311.29 982.4,312.84 982.9,314.42 983.4,316.01 983.9,317.60 984.4,319.18 984.9,320.72 985.4,322.21 985.9,323.64 986.4,324.99 986.9,326.25 987.4,327.41 987.9,328.45 988.4,329.36 988.9,330.14 989.4,330.78 989.9,331.26 990.4,331.60 990.9,331.77 991.4,331.79 991.9,331.65 992.4,331.35 992.9,330.90 993.4,330.30 993.9,329.55 994.4,328.67 994.9,327.66 995.4,326.53 995.9,325.28 996.4,323.94 996.9,322.51 997.4,321.00 997.9,319.44 998.4,317.82 998.9,316.17 999.4,314.50 999.9,312.83 1000.4,311.17 1000.9,309.53 1001.4,307.93 1001.9,306.38 1002.4,304.91 1002.9,303.51 1003.4,302.21 1003.9,301.01 1004.4,299.92 1004.9,298.96 1005.4,298.13 1005.9,297.45 1006.4,296.90 1006.9,296.51 1007.4,296.28 1007.9,296.20 1008.4,296.27 1008.9,296.48 1009.4,296.83 1009.9,297.32 1010.4,297.94 1010.9,298.68 1011.4,299.55 1011.9,300.52 1012.4,301.59 1012.9,302.76 1013.4,304.00 1013.9,305.32 1014.4,306.69 1014.9,308.10 1015.4,309.55 1015.9,311.01 1016.4,312.47 1016.9,313.92 1017.4,315.35 1017.9,316.74 1018.4,318.08 1018.9,319.35 1019.4,320.55 1019.9,321.66 1020.4,322.68 1020.9,323.58 1021.4,324.38 1021.9,325.05 1022.4,325.59 1022.9,325.99 1023.4,326.26 1023.9,326.39 1024.4,326.39 1024.9,326.31 1025.4,326.17 1025.9,325.96 1026.4,325.68 1026.9,325.34 1027.4,324.94 1027.9,324.48 1028.4,323.97 1028.9,323.41 1029.4,322.80 1029.9,322.16 1030.4,321.48 1030.9,320.77 1031.4,320.04 1031.9,319.29 1032.4,318.53 1032.9,317.77 1033.4,317.01 1033.9,316.26 1034.4,315.52 1034.9,314.80 1035.4,314.11 1035.9,313.45 1036.4,312.83 1036.9,312.25 1037.4,311.72 1037.9,311.24 1038.4,310.82 1038.9,310.45 1039.4,310.15 1039.9,309.91 1040.4,309.74 1040.9,309.63 1041.4,309.60 1041.9,309.61 1042.4,309.63 1042.9,309.68 1043.4,309.74 1043.9,309.81 1044.4,309.91 1044.9,310.01 1045.4,310.13 1045.9,310.27 1046.4,310.41 1046.9,310.56 1047.4,310.73 1047.9,310.90 1048.4,311.08 1048.9,311.26 1049.4,311.44 1049.9,311.62 1050.4,311.81 1050.9,311.99 1051.4,312.17 1051.9,312.34 1052.4,312.50 1052.9,312.66 1053.4,312.81 1053.9,312.94 1054.4,313.06 1054.9,313.17 1055.4,313.27 1055.9,313.35 1056.4,313.41 1056.9,313.46 1057.4,313.49 1057.9,313.50 1058.4,313.51 1058.9,313.53 1059.4,313.57 1059.9,313.63 1060.4,313.70 1060.9,313.79 1061.4,313.89 1061.9,314.01 1062.4,314.14 1062.9,314.29 1063.4,314.44 1063.9,314.60 1064.4,314.77 1064.9,314.95 1065.4,315.13 1065.9,315.31 1066.4,315.49 1066.9,315.67 1067.4,315.85 1067.9,316.03 1068.4,316.20 1068.9,316.36 1069.4,316.51 1069.9,316.66 1070.4,316.79 1070.9,316.91 1071.4,317.01 1071.9,317.10 1072.4,317.17 1072.9,317.23 1073.4,317.27 1073.9,317.29 1074.4,317.30 1074.9,317.28 1075.4,317.22 1075.9,317.13 1076.4,317.02 1076.9,316.87 1077.4,316.69 1077.9,316.49 1078.4,316.26 1078.9,316.01 1079.4,315.74 1079.9,315.46 1080.4,315.16 1080.9,314.84 1081.4,314.52 1081.9,314.20 1082.4,313.87 1082.9,313.54 1083.4,313.22 1083.9,312.91 1084.4,312.60 1084.9,312.31 1085.4,312.04 1085.9,311.79 1086.4,311.55 1086.9,311.35 1087.4,311.16 1087.9,311.01 1088.4,310.89 1088.9,310.79 1089.4,310.73 1089.9,310.70 1090.4,310.71 1090.9,310.76 1091.4,310.85 1091.9,310.98 1092.4,311.15 1092.9,311.36 1093.4,311.61 1093.9,311.89 1094.4,312.20 1094.9,312.53 1095.4,312.89 1095.9,313.27 1096.4,313.67 1096.9,314.07 1097.4,314.48 1097.9,314.90 1098.4,315.31 1098.9,315.71 1099.4,316.10 1099.9,316.48 1100.4,316.84 1100.9,317.17 1101.4,317.47 1101.9,317.75 1102.4,317.99 1102.9,318.19 1103.4,318.35 1103.9,318.48 1104.4,318.56 1104.9,318.60 1105.4,318.59 1105.9,318.53 1106.4,318.43 1106.9,318.27 1107.4,318.06 1107.9,317.81 1108.4,317.51 1108.9,317.18 1109.4,316.81 1109.9,316.40 1110.4,315.97 1110.9,315.51 1111.4,315.04 1111.9,314.55 1112.4,314.05 1112.9,313.55 1113.4,313.05 1113.9,312.56 1114.4,312.08 1114.9,311.62 1115.4,311.18 1115.9,310.77 1116.4,310.39 1116.9,310.05 1117.4,309.75 1117.9,309.48 1118.4,309.27 1118.9,309.10 1119.4,308.98 1119.9,308.92 1120.4,308.90 1120.9,308.94 1121.4,309.05 1121.9,309.22 1122.4,309.44 1122.9,309.72 1123.4,310.06 1123.9,310.44 1124.4,310.87 1124.9,311.34 1125.4,311.85 1125.9,312.40 1126.4,312.96 1126.9,313.55 1127.4,314.16 1127.9,314.77 1128.4,315.38 1128.9,315.99 1129.4,316.58 1129.9,317.17 1130.4,317.72 1130.9,318.25 1131.4,318.75 1131.9,319.21 1132.4,319.62 1132.9,319.98 1133.4,320.30 1133.9,320.56 1134.4,320.76 1134.9,320.90 1135.4,320.98 1135.9,321.00 1136.4,320.95 1136.9,320.82 1137.4,320.62 1137.9,320.35 1138.4,320.01 1138.9,319.61 1139.4,319.15 1139.9,318.63 1140.4,318.07 1140.9,317.46 1141.4,316.81 1141.9,316.14 1142.4,315.44 1142.9,314.72 1143.4,314.00 1143.9,313.28 1144.4,312.56 1144.9,311.86 1145.4,311.19 1145.9,310.54 1146.4,309.93 1146.9,309.37 1147.4,308.85 1147.9,308.39 1148.4,307.99 1148.9,307.65 1149.4,307.38 1149.9,307.18 1150.4,307.05 1150.9,307.00 1151.4,307.02 1151.9,307.10 1152.4,307.24 1152.9,307.44 1153.4,307.70 1153.9,308.02 1154.4,308.39 1154.9,308.81 1155.4,309.28 1155.9,309.79 1156.4,310.33 1156.9,310.91 1157.4,311.52 1157.9,312.15 1158.4,312.80 1158.9,313.47 1159.4,314.13 1159.9,314.80 1160.4,315.46 1160.9,316.12 1161.4,316.75 1161.9,317.37 1162.4,317.95 1162.9,318.51 1163.4,319.02 1163.9,319.50 1164.4,319.93 1164.9,320.31 1165.4,320.64 1165.9,320.91 1166.4,321.12 1166.9,321.28 1167.4,321.37 1167.9,321.40 1168.4,321.37 1168.9,321.29 1169.4,321.15 1169.9,320.95 1170.4,320.71 1170.9,320.41 1171.4,320.06 1171.9,319.67 1172.4,319.24 1172.9,318.76 1173.4,318.26 1173.9,317.72 1174.4,317.15 1174.9,316.56 1175.4,315.96 1175.9,315.34 1176.4,314.71 1176.9,314.09 1177.4,313.46 1177.9,312.84 1178.4,312.24 1178.9,311.65 1179.4,311.08 1179.9,310.54 1180.4,310.04 1180.9,309.56 1181.4,309.13 1181.9,308.74 1182.4,308.39 1182.9,308.09 1183.4,307.85 1183.9,307.65 1184.4,307.51 1184.9,307.43 1185.4,307.40 1185.9,307.43 1186.4,307.53 1186.9,307.69 1187.4,307.91 1187.9,308.19 1188.4,308.53 1188.9,308.93 1189.4,309.37 1189.9,309.86 1190.4,310.39 1190.9,310.95 1191.4,311.55 1191.9,312.17 1192.4,312.82 1192.9,313.47 1193.4,314.13 1193.9,314.80 1194.4,315.45 1194.9,316.10 1195.4,316.73 1195.9,317.33 1196.4,317.90 1196.9,318.44 1197.4,318.94 1197.9,319.39 1198.4,319.79 1198.9,320.14 1199.4,320.44 1199.9,320.67 1200.4,320.84 1200.9,320.95 1201.4,321.00 1201.9,320.98 1202.4,320.89 1202.9,320.73 1203.4,320.50 1203.9,320.21 1204.4,319.86 1204.9,319.46 1205.4,319.00 1205.9,318.49 1206.4,317.94 1206.9,317.35 1207.4,316.74 1207.9,316.10 1208.4,315.45 1208.9,314.78 1209.4,314.12 1209.9,313.46 1210.4,312.81 1210.9,312.19 1211.4,311.59 1211.9,311.03 1212.4,310.50 1212.9,310.02 1213.4,309.59 1213.9,309.22 1214.4,308.90 1214.9,308.65 1215.4,308.47 1215.9,308.35 1216.4,308.30 1216.9,308.32 1217.4,308.43 1217.9,308.60 1218.4,308.85 1218.9,309.18 1219.4,309.56 1219.9,310.01 1220.4,310.52 1220.9,311.07 1221.4,311.66 1221.9,312.29 1222.4,312.94 1222.9,313.61 1223.4,314.29 1223.9,314.96 1224.4,315.62 1224.9,316.26 1225.4,316.88 1225.9,317.46 1226.4,317.99 1226.9,318.47 1227.4,318.90 1227.9,319.26 1228.4,319.55 1228.9,319.78 1229.4,319.92 1229.9,319.99 1230.4,319.99 1230.9,319.90 1231.4,319.73 1231.9,319.48 1232.4,319.17 1232.9,318.78 1233.4,318.33 1233.9,317.82 1234.4,317.25 1234.9,316.65 1235.4,316.00 1235.9,315.34 1236.4,314.65 1236.9,313.95 1237.4,313.25 1237.9,312.56 1238.4,311.90 1238.9,311.25 1239.4,310.65 1239.9,310.08 1240.4,309.57 1240.9,309.12 1241.4,308.73 1241.9,308.42 1242.4,308.17 1242.9,308.00 1243.4,307.91 1243.9,307.91 1244.4,307.98 1244.9,308.14 1245.4,308.37 1245.9,308.68 1246.4,309.07 1246.9,309.52 1247.4,310.04 1247.9,310.61 1248.4,311.23 1248.9,311.90 1249.4,312.59 1249.9,313.31 1250.4,314.05 1250.9,314.80 1251.4,315.54 1251.9,316.28 1252.4,316.99 1252.9,317.67 1253.4,318.32 1253.9,318.92 1254.4,319.48 1254.9,319.97 1255.4,320.39 1255.9,320.75 1256.4,321.03 1256.9,321.24 1257.4,321.36 1257.9,321.40 1258.4,321.35 1258.9,321.21 1259.4,320.97 1259.9,320.63 1260.4,320.22 1260.9,319.72 1261.4,319.14 1261.9,318.50 1262.4,317.80 1262.9,317.05 1263.4,316.26 1263.9,315.44 1264.4,314.61 1264.9,313.76 1265.4,312.92 1265.9,312.10 1266.4,311.31 1266.9,310.55 1267.4,309.84 1267.9,309.18 1268.4,308.59 1268.9,308.08 1269.4,307.64 1269.9,307.29 1270.4,307.03 1270.9,306.87 1271.4,306.80 1271.9,306.85 1272.4,307.03 1272.9,307.36 1273.4,307.83 1273.9,308.43 1274.4,309.15 1274.9,309.98 1275.4,310.90 1275.9,311.92 1276.4,313.01 1276.9,314.15 1277.4,315.33 1277.9,316.54 1278.4,317.75 1278.9,318.94 1279.4,320.11 1279.9,321.24 1280.4,322.30 1280.9,323.28 1281.4,324.17 1281.9,324.96 1282.4,325.63 1282.9,326.17 1283.4,326.58 1283.9,326.86 1284.4,326.99 1284.9,326.93 1285.4,326.52 1285.9,325.73 1286.4,324.58 1286.9,323.09 1287.4,321.26 1287.9,319.13 1288.4,316.71 1288.9,314.04 1289.4,311.15 1289.9,308.07 1290.4,304.85 1290.9,301.51 1291.4,298.10 1291.9,294.67 1292.4,291.25 1292.9,287.88 1293.4,284.60 1293.9,281.46 1294.4,278.49 1294.9,275.73 1295.4,273.21 1295.9,270.96 1296.4,269.00 1296.9,267.37 1297.4,266.08 1297.9,265.15 1298.4,264.59 1298.9,264.40 1299.4,264.80 1299.9,266.00 1300.4,267.99 1300.9,270.74 1301.4,274.23 1301.9,278.43 1302.4,283.28 1302.9,288.75 1303.4,294.78 1303.9,301.29 1304.4,308.24 1304.9,315.55 1305.4,323.14 1305.9,330.94 1306.4,338.87 1306.9,346.84 1307.4,354.78 1307.9,362.62 1308.4,370.25 1308.9,377.62 1309.4,384.65 1309.9,391.26 1310.4,397.39 1310.9,402.97 1311.4,407.95 1311.9,412.28 1312.4,415.92 1312.9,418.82 1313.4,420.96 1313.9,422.32 1314.4,422.88 1314.9,422.57 1315.4,421.21 1315.9,418.84 1316.4,415.48 1316.9,411.17 1317.4,405.97 1317.9,399.95 1318.4,393.19 1318.9,385.78 1319.4,377.80 1319.9,369.38 1320.4,360.62 1320.9,351.63 1321.7,337.08" fill="none" stroke="#228b22" stroke-width="1.3" stroke-linejoin="round"/>
<path d="M99.45,32.2 V213.4 H1380.4" fill="none" stroke="#000" stroke-width="1.11" stroke-linecap="square" stroke-linejoin="miter"/>
<path d="M99.45,256.2 V437.4 H1380.4" fill="none" stroke="#000" stroke-width="1.11" stroke-linecap="square" stroke-linejoin="miter"/>
<line x1="157.40" y1="213.4" x2="157.40" y2="218.80" stroke="#000" stroke-width="1.11"/>
<line x1="157.40" y1="437.4" x2="157.40" y2="442.80" stroke="#000" stroke-width="1.11"/>
<line x1="311.11" y1="213.4" x2="311.11" y2="218.80" stroke="#000" stroke-width="1.11"/>
<line x1="311.11" y1="437.4" x2="311.11" y2="442.80" stroke="#000" stroke-width="1.11"/>
<line x1="464.82" y1="213.4" x2="464.82" y2="218.80" stroke="#000" stroke-width="1.11"/>
<line x1="464.82" y1="437.4" x2="464.82" y2="442.80" stroke="#000" stroke-width="1.11"/>
<line x1="618.53" y1="213.4" x2="618.53" y2="218.80" stroke="#000" stroke-width="1.11"/>
<line x1="618.53" y1="437.4" x2="618.53" y2="442.80" stroke="#000" stroke-width="1.11"/>
<line x1="772.24" y1="213.4" x2="772.24" y2="218.80" stroke="#000" stroke-width="1.11"/>
<line x1="772.24" y1="437.4" x2="772.24" y2="442.80" stroke="#000" stroke-width="1.11"/>
<line x1="925.95" y1="213.4" x2="925.95" y2="218.80" stroke="#000" stroke-width="1.11"/>
<line x1="925.95" y1="437.4" x2="925.95" y2="442.80" stroke="#000" stroke-width="1.11"/>
<line x1="1079.66" y1="213.4" x2="1079.66" y2="218.80" stroke="#000" stroke-width="1.11"/>
<line x1="1079.66" y1="437.4" x2="1079.66" y2="442.80" stroke="#000" stroke-width="1.11"/>
<line x1="1233.37" y1="213.4" x2="1233.37" y2="218.80" stroke="#000" stroke-width="1.11"/>
<line x1="1233.37" y1="437.4" x2="1233.37" y2="442.80" stroke="#000" stroke-width="1.11"/>
<line x1="94.15" y1="55.4" x2="99.45" y2="55.4" stroke="#000" stroke-width="1.11"/>
<line x1="94.15" y1="96.4" x2="99.45" y2="96.4" stroke="#000" stroke-width="1.11"/>
<line x1="94.15" y1="136.4" x2="99.45" y2="136.4" stroke="#000" stroke-width="1.11"/>
<line x1="94.15" y1="177.4" x2="99.45" y2="177.4" stroke="#000" stroke-width="1.11"/>
<line x1="94.15" y1="258.4" x2="99.45" y2="258.4" stroke="#000" stroke-width="1.11"/>
<line x1="94.15" y1="314.4" x2="99.45" y2="314.4" stroke="#000" stroke-width="1.11"/>
<line x1="94.15" y1="371.4" x2="99.45" y2="371.4" stroke="#000" stroke-width="1.11"/>
<line x1="94.15" y1="427.4" x2="99.45" y2="427.4" stroke="#000" stroke-width="1.11"/>
<g class="tx">
<text id="yt0" x="42.15" y="60.40" font-size="13.9" textLength="46.35" lengthAdjust="spacingAndGlyphs">0.0004</text>
<text id="yt1" x="42.14" y="101.40" font-size="13.9" textLength="46.65" lengthAdjust="spacingAndGlyphs">0.0002</text>
<text id="yt2" x="41.77" y="142.00" font-size="13.9" textLength="46.86" lengthAdjust="spacingAndGlyphs">0.0000</text>
<text id="yt3" x="29.99" y="183.00" font-size="13.9" textLength="58.69" lengthAdjust="spacingAndGlyphs">−0.0002</text>
<text id="yt4" x="41.77" y="264.00" font-size="13.9" textLength="46.95" lengthAdjust="spacingAndGlyphs">0.0005</text>
<text id="yt5" x="41.77" y="320.00" font-size="13.9" textLength="46.86" lengthAdjust="spacingAndGlyphs">0.0000</text>
<text id="yt6" x="30.00" y="376.40" font-size="13.9" textLength="58.53" lengthAdjust="spacingAndGlyphs">−0.0005</text>
<text id="yt7" x="30.01" y="432.40" font-size="13.9" textLength="58.40" lengthAdjust="spacingAndGlyphs">−0.0010</text>
<text id="xt0" x="153.02" y="457.00" font-size="13.9" textLength="8.60" lengthAdjust="spacingAndGlyphs">0</text>
<text id="xt1" x="297.87" y="457.00" font-size="13.9" textLength="25.66" lengthAdjust="spacingAndGlyphs">100</text>
<text id="xt2" x="451.91" y="457.00" font-size="13.9" textLength="25.29" lengthAdjust="spacingAndGlyphs">200</text>
<text id="xt3" x="605.55" y="457.00" font-size="13.9" textLength="25.42" lengthAdjust="spacingAndGlyphs">300</text>
<text id="xt4" x="760.00" y="457.00" font-size="13.9" textLength="24.43" lengthAdjust="spacingAndGlyphs">400</text>
<text id="xt5" x="912.91" y="457.00" font-size="13.9" textLength="25.30" lengthAdjust="spacingAndGlyphs">500</text>
<text id="xt6" x="1066.74" y="457.00" font-size="13.9" textLength="25.39" lengthAdjust="spacingAndGlyphs">600</text>
<text id="xt7" x="1220.59" y="457.00" font-size="13.9" textLength="25.01" lengthAdjust="spacingAndGlyphs">700</text>
<text id="t1" x="656.44" y="23.90" font-size="17.6" textLength="165.51" lengthAdjust="spacingAndGlyphs">Raw Signal — EGG6</text>
<text id="t2" x="532.63" y="246.60" font-size="17.6" textLength="412.85" lengthAdjust="spacingAndGlyphs">Normogastric Bandpass Filtered (0.033–0.067 Hz)</text>
<text id="xl" x="686.89" y="477.80" font-size="13.9" textLength="105.82" lengthAdjust="spacingAndGlyphs">Time (seconds)</text>
<text id="yl0" transform="translate(19.9,159.88) rotate(-90)" font-size="13.9" textLength="70.40" lengthAdjust="spacingAndGlyphs">Amplitude</text>
<text id="yl1" transform="translate(19.9,382.91) rotate(-90)" font-size="13.9" textLength="70.52" lengthAdjust="spacingAndGlyphs">Amplitude</text>
</g>
</svg>
</body></html>
